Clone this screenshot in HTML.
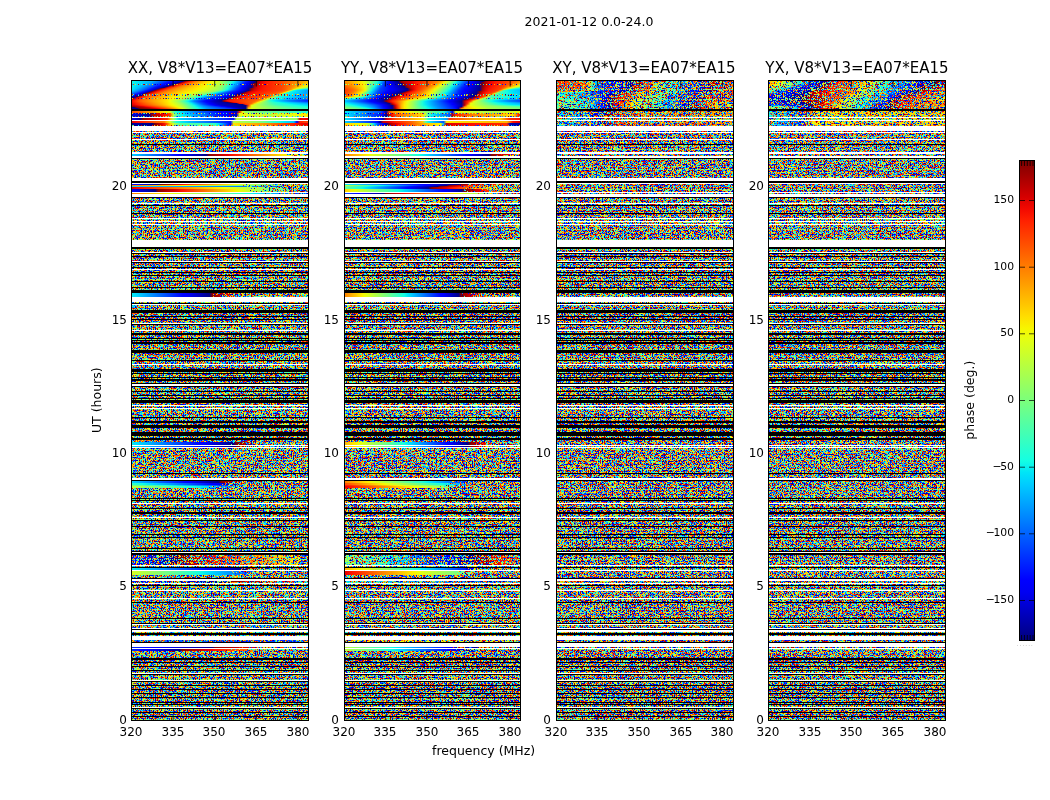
<!DOCTYPE html><html><head><meta charset="utf-8"><title>phase</title><style>
html,body{margin:0;padding:0;background:#fff}
body{width:1050px;height:800px;position:relative;overflow:hidden;font-family:"DejaVu Sans","Liberation Sans",sans-serif;font-size:12.5px;color:#000}
.p{position:absolute;top:80px;height:641px;overflow:hidden;background:#fff}
.p i{position:absolute;left:0;width:178px;display:block}
.p svg.n{position:absolute;left:0;top:0;display:block}
.cw{position:absolute;left:0;top:0;width:178px;height:641px}
.dm{-webkit-mask-image:repeating-linear-gradient(90deg,#000 0,#000 1px,transparent 1px,transparent 3px,#000 3px,#000 4px,transparent 4px,transparent 5px,#000 5px,#000 7px,transparent 7px,transparent 8px,#000 8px,#000 10px,transparent 10px,transparent 11px);mask-image:repeating-linear-gradient(90deg,#000 0,#000 1px,transparent 1px,transparent 3px,#000 3px,#000 4px,transparent 4px,transparent 5px,#000 5px,#000 7px,transparent 7px,transparent 8px,#000 8px,#000 10px,transparent 10px,transparent 11px)}
.p b{position:absolute;left:0;top:0;right:0;bottom:0;border:1px solid #000;display:block}
.t{position:absolute;white-space:nowrap;line-height:1;will-change:transform}
.k{font-size:12px}
.cl{font-size:10.8px}
.ti{font-size:15px}
.r{text-align:right}
.c{text-align:center}
.rs{position:absolute;display:block;overflow:visible}
.rs text{font-family:"DejaVu Sans","Liberation Sans",sans-serif;fill:#000}
.m{margin-right:-1.3px}
#cb{position:absolute;left:1019px;top:160px;width:16px;height:481px;border:1px solid #000;box-sizing:border-box}

</style></head><body>
<svg width="0" height="0" style="position:absolute"><defs>
<filter id="nz0" x="0" y="0" width="100%" height="100%" color-interpolation-filters="sRGB"><feTurbulence type="fractalNoise" baseFrequency="0.5 0.7" numOctaves="2" seed="3"/><feColorMatrix type="matrix" values="1 0 0 0 0 1 0 0 0 0 1 0 0 0 0 0 0 0 0 1"/><feComponentTransfer><feFuncR type="table" tableValues="0 0 0 0 0 0 0 0 0 0 0 0 0 0 0 0 0 0 0 0 0 0 0 0 0 0 0 0 0 0 0 0 0 0 0 0 0 0 0 0 0 0 0 0 0 0 0 0 0 0 0 0 0 0 0 0 0 0 0 0 0.06 0.142 0.229 0.318 0.439 0.664 0.754 0.842 0.927 1 1 1 1 1 1 1 1 1 1 1 1 1 1 1 0.952 0.907 0.866 0.824 0.784 0.747 0.712 0.679 0.651 0.623 0.602 0.582 0.565 0.552 0.541 0.533 0.526 0.52 0.516 0.512 0.51 0.507 0.505 0.504 0.503 0.502 0.501 0.501 0.501 0.5 0.5 0.5 0.5 0.5 0.5 0.5 0.5 0.5 0.5 0.5 0.5 0.5 0.5 0.5 0.5"/><feFuncG type="table" tableValues="0 0 0 0 0 0 0 0 0 0 0 0 0 0 0 0 0 0 0 0 0 0 0 0 0 0 0 0 0 0 0 0 0 0 0 0 0 0 0 0 0 0 0 0 0 0 0 0.022 0.074 0.127 0.182 0.24 0.302 0.368 0.439 0.516 0.599 0.685 0.778 0.873 0.974 1 1 1 1 1 1 1 1 0.917 0.83 0.748 0.67 0.597 0.531 0.466 0.406 0.35 0.299 0.251 0.205 0.161 0.118 0.075 0.035 0 0 0 0 0 0 0 0 0 0 0 0 0 0 0 0 0 0 0 0 0 0 0 0 0 0 0 0 0 0 0 0 0 0 0 0 0 0 0 0 0 0 0 0"/><feFuncB type="table" tableValues="0.5 0.5 0.5 0.5 0.5 0.5 0.5 0.5 0.5 0.5 0.5 0.5 0.5 0.5 0.5 0.5 0.5 0.501 0.501 0.501 0.502 0.503 0.505 0.506 0.508 0.511 0.514 0.519 0.524 0.531 0.538 0.548 0.562 0.577 0.595 0.615 0.641 0.669 0.7 0.734 0.768 0.806 0.848 0.894 0.941 0.991 1 1 1 1 1 1 1 1 1 1 1 1 1 0.989 0.908 0.826 0.739 0.65 0.529 0.304 0.214 0.126 0.041 0 0 0 0 0 0 0 0 0 0 0 0 0 0 0 0 0 0 0 0 0 0 0 0 0 0 0 0 0 0 0 0 0 0 0 0 0 0 0 0 0 0 0 0 0 0 0 0 0 0 0 0 0 0 0 0 0 0 0 0"/></feComponentTransfer></filter>
<filter id="dz0" x="0" y="0" width="100%" height="100%" color-interpolation-filters="sRGB"><feTurbulence type="fractalNoise" baseFrequency="0.5 0.7" numOctaves="2" seed="103" result="n"/><feColorMatrix in="n" type="matrix" values="0 0 0 0 0 0 0 0 0 0 0 0 0 0 0 1 0 0 0 0" result="n1"/><feComponentTransfer in="n1" result="n2"><feFuncA type="table" tableValues="0 0 0 0 0 0 0 0 0 0 0 0 0 0 0 0 0 0 0 0 0 0.001 0.001 0.001 0.002 0.002 0.003 0.004 0.005 0.007 0.008 0.011 0.014 0.017 0.021 0.025 0.031 0.037 0.044 0.052 0.059 0.067 0.077 0.087 0.097 0.108 0.119 0.131 0.144 0.157 0.17 0.185 0.2 0.217 0.235 0.254 0.275 0.296 0.319 0.343 0.368 0.394 0.421 0.448 0.486 0.556 0.584 0.611 0.637 0.662 0.686 0.708 0.729 0.749 0.767 0.784 0.8 0.816 0.829 0.842 0.855 0.867 0.878 0.89 0.901 0.91 0.92 0.929 0.937 0.946 0.953 0.961 0.967 0.973 0.978 0.982 0.986 0.989 0.991 0.993 0.994 0.996 0.997 0.997 0.998 0.998 0.999 0.999 0.999 1 1 1 1 1 1 1 1 1 1 1 1 1 1 1 1 1 1 1 1"/></feComponentTransfer><feComposite in="SourceGraphic" in2="n2" operator="arithmetic" k1="0" k2="1" k3="-1" k4="0.5" result="t"/><feComponentTransfer in="t" result="t2"><feFuncA type="discrete" tableValues="0 1"/></feComponentTransfer><feComposite in="SourceGraphic" in2="t2" operator="in" result="c"/><feComponentTransfer in="c"><feFuncA type="discrete" tableValues="0 1 1 1 1 1 1 1 1 1 1 1 1 1 1 1 1 1 1 1"/></feComponentTransfer></filter>
<filter id="nz1" x="0" y="0" width="100%" height="100%" color-interpolation-filters="sRGB"><feTurbulence type="fractalNoise" baseFrequency="0.5 0.7" numOctaves="2" seed="11"/><feColorMatrix type="matrix" values="1 0 0 0 0 1 0 0 0 0 1 0 0 0 0 0 0 0 0 1"/><feComponentTransfer><feFuncR type="table" tableValues="0 0 0 0 0 0 0 0 0 0 0 0 0 0 0 0 0 0 0 0 0 0 0 0 0 0 0 0 0 0 0 0 0 0 0 0 0 0 0 0 0 0 0 0 0 0 0 0 0 0 0 0 0 0 0 0 0 0 0 0 0.06 0.142 0.229 0.318 0.439 0.664 0.754 0.842 0.927 1 1 1 1 1 1 1 1 1 1 1 1 1 1 1 0.952 0.907 0.866 0.824 0.784 0.747 0.712 0.679 0.651 0.623 0.602 0.582 0.565 0.552 0.541 0.533 0.526 0.52 0.516 0.512 0.51 0.507 0.505 0.504 0.503 0.502 0.501 0.501 0.501 0.5 0.5 0.5 0.5 0.5 0.5 0.5 0.5 0.5 0.5 0.5 0.5 0.5 0.5 0.5 0.5"/><feFuncG type="table" tableValues="0 0 0 0 0 0 0 0 0 0 0 0 0 0 0 0 0 0 0 0 0 0 0 0 0 0 0 0 0 0 0 0 0 0 0 0 0 0 0 0 0 0 0 0 0 0 0 0.022 0.074 0.127 0.182 0.24 0.302 0.368 0.439 0.516 0.599 0.685 0.778 0.873 0.974 1 1 1 1 1 1 1 1 0.917 0.83 0.748 0.67 0.597 0.531 0.466 0.406 0.35 0.299 0.251 0.205 0.161 0.118 0.075 0.035 0 0 0 0 0 0 0 0 0 0 0 0 0 0 0 0 0 0 0 0 0 0 0 0 0 0 0 0 0 0 0 0 0 0 0 0 0 0 0 0 0 0 0 0"/><feFuncB type="table" tableValues="0.5 0.5 0.5 0.5 0.5 0.5 0.5 0.5 0.5 0.5 0.5 0.5 0.5 0.5 0.5 0.5 0.5 0.501 0.501 0.501 0.502 0.503 0.505 0.506 0.508 0.511 0.514 0.519 0.524 0.531 0.538 0.548 0.562 0.577 0.595 0.615 0.641 0.669 0.7 0.734 0.768 0.806 0.848 0.894 0.941 0.991 1 1 1 1 1 1 1 1 1 1 1 1 1 0.989 0.908 0.826 0.739 0.65 0.529 0.304 0.214 0.126 0.041 0 0 0 0 0 0 0 0 0 0 0 0 0 0 0 0 0 0 0 0 0 0 0 0 0 0 0 0 0 0 0 0 0 0 0 0 0 0 0 0 0 0 0 0 0 0 0 0 0 0 0 0 0 0 0 0 0 0 0 0"/></feComponentTransfer></filter>
<filter id="dz1" x="0" y="0" width="100%" height="100%" color-interpolation-filters="sRGB"><feTurbulence type="fractalNoise" baseFrequency="0.5 0.7" numOctaves="2" seed="111" result="n"/><feColorMatrix in="n" type="matrix" values="0 0 0 0 0 0 0 0 0 0 0 0 0 0 0 1 0 0 0 0" result="n1"/><feComponentTransfer in="n1" result="n2"><feFuncA type="table" tableValues="0 0 0 0 0 0 0 0 0 0 0 0 0 0 0 0 0 0 0 0 0 0.001 0.001 0.001 0.002 0.002 0.003 0.004 0.005 0.007 0.008 0.011 0.014 0.017 0.021 0.025 0.031 0.037 0.044 0.052 0.059 0.067 0.077 0.087 0.097 0.108 0.119 0.131 0.144 0.157 0.17 0.185 0.2 0.217 0.235 0.254 0.275 0.296 0.319 0.343 0.368 0.394 0.421 0.448 0.486 0.556 0.584 0.611 0.637 0.662 0.686 0.708 0.729 0.749 0.767 0.784 0.8 0.816 0.829 0.842 0.855 0.867 0.878 0.89 0.901 0.91 0.92 0.929 0.937 0.946 0.953 0.961 0.967 0.973 0.978 0.982 0.986 0.989 0.991 0.993 0.994 0.996 0.997 0.997 0.998 0.998 0.999 0.999 0.999 1 1 1 1 1 1 1 1 1 1 1 1 1 1 1 1 1 1 1 1"/></feComponentTransfer><feComposite in="SourceGraphic" in2="n2" operator="arithmetic" k1="0" k2="1" k3="-1" k4="0.5" result="t"/><feComponentTransfer in="t" result="t2"><feFuncA type="discrete" tableValues="0 1"/></feComponentTransfer><feComposite in="SourceGraphic" in2="t2" operator="in" result="c"/><feComponentTransfer in="c"><feFuncA type="discrete" tableValues="0 1 1 1 1 1 1 1 1 1 1 1 1 1 1 1 1 1 1 1"/></feComponentTransfer></filter>
<filter id="nz2" x="0" y="0" width="100%" height="100%" color-interpolation-filters="sRGB"><feTurbulence type="fractalNoise" baseFrequency="0.5 0.7" numOctaves="2" seed="23"/><feColorMatrix type="matrix" values="1 0 0 0 0 1 0 0 0 0 1 0 0 0 0 0 0 0 0 1"/><feComponentTransfer><feFuncR type="table" tableValues="0 0 0 0 0 0 0 0 0 0 0 0 0 0 0 0 0 0 0 0 0 0 0 0 0 0 0 0 0 0 0 0 0 0 0 0 0 0 0 0 0 0 0 0 0 0 0 0 0 0 0 0 0 0 0 0 0 0 0 0 0.06 0.142 0.229 0.318 0.439 0.664 0.754 0.842 0.927 1 1 1 1 1 1 1 1 1 1 1 1 1 1 1 0.952 0.907 0.866 0.824 0.784 0.747 0.712 0.679 0.651 0.623 0.602 0.582 0.565 0.552 0.541 0.533 0.526 0.52 0.516 0.512 0.51 0.507 0.505 0.504 0.503 0.502 0.501 0.501 0.501 0.5 0.5 0.5 0.5 0.5 0.5 0.5 0.5 0.5 0.5 0.5 0.5 0.5 0.5 0.5 0.5"/><feFuncG type="table" tableValues="0 0 0 0 0 0 0 0 0 0 0 0 0 0 0 0 0 0 0 0 0 0 0 0 0 0 0 0 0 0 0 0 0 0 0 0 0 0 0 0 0 0 0 0 0 0 0 0.022 0.074 0.127 0.182 0.24 0.302 0.368 0.439 0.516 0.599 0.685 0.778 0.873 0.974 1 1 1 1 1 1 1 1 0.917 0.83 0.748 0.67 0.597 0.531 0.466 0.406 0.35 0.299 0.251 0.205 0.161 0.118 0.075 0.035 0 0 0 0 0 0 0 0 0 0 0 0 0 0 0 0 0 0 0 0 0 0 0 0 0 0 0 0 0 0 0 0 0 0 0 0 0 0 0 0 0 0 0 0"/><feFuncB type="table" tableValues="0.5 0.5 0.5 0.5 0.5 0.5 0.5 0.5 0.5 0.5 0.5 0.5 0.5 0.5 0.5 0.5 0.5 0.501 0.501 0.501 0.502 0.503 0.505 0.506 0.508 0.511 0.514 0.519 0.524 0.531 0.538 0.548 0.562 0.577 0.595 0.615 0.641 0.669 0.7 0.734 0.768 0.806 0.848 0.894 0.941 0.991 1 1 1 1 1 1 1 1 1 1 1 1 1 0.989 0.908 0.826 0.739 0.65 0.529 0.304 0.214 0.126 0.041 0 0 0 0 0 0 0 0 0 0 0 0 0 0 0 0 0 0 0 0 0 0 0 0 0 0 0 0 0 0 0 0 0 0 0 0 0 0 0 0 0 0 0 0 0 0 0 0 0 0 0 0 0 0 0 0 0 0 0 0"/></feComponentTransfer></filter>
<filter id="dz2" x="0" y="0" width="100%" height="100%" color-interpolation-filters="sRGB"><feTurbulence type="fractalNoise" baseFrequency="0.5 0.7" numOctaves="2" seed="123" result="n"/><feColorMatrix in="n" type="matrix" values="0 0 0 0 0 0 0 0 0 0 0 0 0 0 0 1 0 0 0 0" result="n1"/><feComponentTransfer in="n1" result="n2"><feFuncA type="table" tableValues="0 0 0 0 0 0 0 0 0 0 0 0 0 0 0 0 0 0 0 0 0 0.001 0.001 0.001 0.002 0.002 0.003 0.004 0.005 0.007 0.008 0.011 0.014 0.017 0.021 0.025 0.031 0.037 0.044 0.052 0.059 0.067 0.077 0.087 0.097 0.108 0.119 0.131 0.144 0.157 0.17 0.185 0.2 0.217 0.235 0.254 0.275 0.296 0.319 0.343 0.368 0.394 0.421 0.448 0.486 0.556 0.584 0.611 0.637 0.662 0.686 0.708 0.729 0.749 0.767 0.784 0.8 0.816 0.829 0.842 0.855 0.867 0.878 0.89 0.901 0.91 0.92 0.929 0.937 0.946 0.953 0.961 0.967 0.973 0.978 0.982 0.986 0.989 0.991 0.993 0.994 0.996 0.997 0.997 0.998 0.998 0.999 0.999 0.999 1 1 1 1 1 1 1 1 1 1 1 1 1 1 1 1 1 1 1 1"/></feComponentTransfer><feComposite in="SourceGraphic" in2="n2" operator="arithmetic" k1="0" k2="1" k3="-1" k4="0.5" result="t"/><feComponentTransfer in="t" result="t2"><feFuncA type="discrete" tableValues="0 1"/></feComponentTransfer><feComposite in="SourceGraphic" in2="t2" operator="in" result="c"/><feComponentTransfer in="c"><feFuncA type="discrete" tableValues="0 1 1 1 1 1 1 1 1 1 1 1 1 1 1 1 1 1 1 1"/></feComponentTransfer></filter>
<filter id="nz3" x="0" y="0" width="100%" height="100%" color-interpolation-filters="sRGB"><feTurbulence type="fractalNoise" baseFrequency="0.5 0.7" numOctaves="2" seed="37"/><feColorMatrix type="matrix" values="1 0 0 0 0 1 0 0 0 0 1 0 0 0 0 0 0 0 0 1"/><feComponentTransfer><feFuncR type="table" tableValues="0 0 0 0 0 0 0 0 0 0 0 0 0 0 0 0 0 0 0 0 0 0 0 0 0 0 0 0 0 0 0 0 0 0 0 0 0 0 0 0 0 0 0 0 0 0 0 0 0 0 0 0 0 0 0 0 0 0 0 0 0.06 0.142 0.229 0.318 0.439 0.664 0.754 0.842 0.927 1 1 1 1 1 1 1 1 1 1 1 1 1 1 1 0.952 0.907 0.866 0.824 0.784 0.747 0.712 0.679 0.651 0.623 0.602 0.582 0.565 0.552 0.541 0.533 0.526 0.52 0.516 0.512 0.51 0.507 0.505 0.504 0.503 0.502 0.501 0.501 0.501 0.5 0.5 0.5 0.5 0.5 0.5 0.5 0.5 0.5 0.5 0.5 0.5 0.5 0.5 0.5 0.5"/><feFuncG type="table" tableValues="0 0 0 0 0 0 0 0 0 0 0 0 0 0 0 0 0 0 0 0 0 0 0 0 0 0 0 0 0 0 0 0 0 0 0 0 0 0 0 0 0 0 0 0 0 0 0 0.022 0.074 0.127 0.182 0.24 0.302 0.368 0.439 0.516 0.599 0.685 0.778 0.873 0.974 1 1 1 1 1 1 1 1 0.917 0.83 0.748 0.67 0.597 0.531 0.466 0.406 0.35 0.299 0.251 0.205 0.161 0.118 0.075 0.035 0 0 0 0 0 0 0 0 0 0 0 0 0 0 0 0 0 0 0 0 0 0 0 0 0 0 0 0 0 0 0 0 0 0 0 0 0 0 0 0 0 0 0 0"/><feFuncB type="table" tableValues="0.5 0.5 0.5 0.5 0.5 0.5 0.5 0.5 0.5 0.5 0.5 0.5 0.5 0.5 0.5 0.5 0.5 0.501 0.501 0.501 0.502 0.503 0.505 0.506 0.508 0.511 0.514 0.519 0.524 0.531 0.538 0.548 0.562 0.577 0.595 0.615 0.641 0.669 0.7 0.734 0.768 0.806 0.848 0.894 0.941 0.991 1 1 1 1 1 1 1 1 1 1 1 1 1 0.989 0.908 0.826 0.739 0.65 0.529 0.304 0.214 0.126 0.041 0 0 0 0 0 0 0 0 0 0 0 0 0 0 0 0 0 0 0 0 0 0 0 0 0 0 0 0 0 0 0 0 0 0 0 0 0 0 0 0 0 0 0 0 0 0 0 0 0 0 0 0 0 0 0 0 0 0 0 0"/></feComponentTransfer></filter>
<filter id="dz3" x="0" y="0" width="100%" height="100%" color-interpolation-filters="sRGB"><feTurbulence type="fractalNoise" baseFrequency="0.5 0.7" numOctaves="2" seed="137" result="n"/><feColorMatrix in="n" type="matrix" values="0 0 0 0 0 0 0 0 0 0 0 0 0 0 0 1 0 0 0 0" result="n1"/><feComponentTransfer in="n1" result="n2"><feFuncA type="table" tableValues="0 0 0 0 0 0 0 0 0 0 0 0 0 0 0 0 0 0 0 0 0 0.001 0.001 0.001 0.002 0.002 0.003 0.004 0.005 0.007 0.008 0.011 0.014 0.017 0.021 0.025 0.031 0.037 0.044 0.052 0.059 0.067 0.077 0.087 0.097 0.108 0.119 0.131 0.144 0.157 0.17 0.185 0.2 0.217 0.235 0.254 0.275 0.296 0.319 0.343 0.368 0.394 0.421 0.448 0.486 0.556 0.584 0.611 0.637 0.662 0.686 0.708 0.729 0.749 0.767 0.784 0.8 0.816 0.829 0.842 0.855 0.867 0.878 0.89 0.901 0.91 0.92 0.929 0.937 0.946 0.953 0.961 0.967 0.973 0.978 0.982 0.986 0.989 0.991 0.993 0.994 0.996 0.997 0.997 0.998 0.998 0.999 0.999 0.999 1 1 1 1 1 1 1 1 1 1 1 1 1 1 1 1 1 1 1 1"/></feComponentTransfer><feComposite in="SourceGraphic" in2="n2" operator="arithmetic" k1="0" k2="1" k3="-1" k4="0.5" result="t"/><feComponentTransfer in="t" result="t2"><feFuncA type="discrete" tableValues="0 1"/></feComponentTransfer><feComposite in="SourceGraphic" in2="t2" operator="in" result="c"/><feComponentTransfer in="c"><feFuncA type="discrete" tableValues="0 1 1 1 1 1 1 1 1 1 1 1 1 1 1 1 1 1 1 1"/></feComponentTransfer></filter>
<g id="wk">
<g fill="#fff" shape-rendering="crispEdges">
<rect y="37" width="178" height="1"/>
<rect y="40" width="178" height="1"/>
<rect y="46" width="178" height="5"/>
<rect y="52" width="178" height="1"/>
<rect y="59" width="178" height="1"/>
<rect y="72" width="178" height="2"/>
<rect y="76" width="178" height="2"/>
<rect y="98" width="178" height="3"/>
<rect y="103" width="178" height="1"/>
<rect y="112" width="178" height="1"/>
<rect y="114" width="178" height="3"/>
<rect y="123" width="178" height="1"/>
<rect y="138" width="178" height="1"/>
<rect y="141" width="178" height="1"/>
<rect y="144" width="178" height="1"/>
<rect y="160" width="178" height="7"/>
<rect y="172" width="178" height="1"/>
<rect y="181" width="178" height="1"/>
<rect y="189" width="178" height="1"/>
<rect y="217" width="178" height="5"/>
<rect y="224" width="178" height="1"/>
<rect y="243" width="178" height="1"/>
<rect y="250" width="178" height="1"/>
<rect y="284" width="178" height="1"/>
<rect y="304" width="178" height="2"/>
<rect y="325" width="178" height="1"/>
<rect y="328" width="178" height="1"/>
<rect y="365" width="178" height="1"/>
<rect y="367" width="178" height="1"/>
<rect y="398" width="178" height="2"/>
<rect y="423" width="178" height="1"/>
<rect y="437" width="178" height="1"/>
<rect y="472" width="178" height="1"/>
<rect y="485" width="178" height="1"/>
<rect y="490" width="178" height="1"/>
<rect y="499" width="178" height="2"/>
<rect y="503" width="178" height="1"/>
<rect y="510" width="178" height="1"/>
<rect y="518" width="178" height="1"/>
<rect y="544" width="178" height="1"/>
<rect y="548" width="178" height="1"/>
<rect y="550" width="178" height="2"/>
<rect y="556" width="178" height="4"/>
<rect y="563" width="178" height="4"/>
<rect y="568" width="178" height="1"/>
<rect y="593" width="178" height="1"/>
<rect y="600" width="178" height="1"/>
<rect y="627" width="178" height="1"/>
</g><g fill="#000" shape-rendering="crispEdges">
<rect y="29" width="178" height="2"/>
<rect y="64" width="178" height="1"/>
<rect y="78" width="178" height="1"/>
<rect y="101" width="178" height="2"/>
<rect y="117" width="178" height="1"/>
<rect y="125" width="178" height="1"/>
<rect y="133" width="178" height="1"/>
<rect y="167" width="178" height="2"/>
<rect y="173" width="178" height="1"/>
<rect y="176" width="178" height="1"/>
<rect y="182" width="178" height="1"/>
<rect y="187" width="178" height="1"/>
<rect y="192" width="178" height="1"/>
<rect y="195" width="178" height="1"/>
<rect y="201" width="178" height="1"/>
<rect y="207" width="178" height="1"/>
<rect y="210" width="178" height="3"/>
<rect y="223" width="178" height="1"/>
<rect y="230" width="178" height="3"/>
<rect y="236" width="178" height="1"/>
<rect y="239" width="178" height="1"/>
<rect y="244" width="178" height="1"/>
<rect y="253" width="178" height="2"/>
<rect y="258" width="178" height="1"/>
<rect y="260" width="178" height="1"/>
<rect y="262" width="178" height="2"/>
<rect y="270" width="178" height="3"/>
<rect y="280" width="178" height="1"/>
<rect y="289" width="178" height="3"/>
<rect y="293" width="178" height="1"/>
<rect y="297" width="178" height="1"/>
<rect y="299" width="178" height="2"/>
<rect y="303" width="178" height="1"/>
<rect y="306" width="178" height="1"/>
<rect y="311" width="178" height="1"/>
<rect y="315" width="178" height="1"/>
<rect y="318" width="178" height="1"/>
<rect y="320" width="178" height="3"/>
<rect y="337" width="178" height="1"/>
<rect y="341" width="178" height="2"/>
<rect y="345" width="178" height="3"/>
<rect y="352" width="178" height="4"/>
<rect y="358" width="178" height="2"/>
<rect y="393" width="178" height="1"/>
<rect y="400" width="178" height="1"/>
<rect y="418" width="178" height="1"/>
<rect y="420" width="178" height="1"/>
<rect y="428" width="178" height="1"/>
<rect y="432" width="178" height="2"/>
<rect y="440" width="178" height="1"/>
<rect y="446" width="178" height="1"/>
<rect y="454" width="178" height="1"/>
<rect y="457" width="178" height="1"/>
<rect y="468" width="178" height="1"/>
<rect y="471" width="178" height="1"/>
<rect y="473" width="178" height="2"/>
<rect y="487" width="178" height="1"/>
<rect y="498" width="178" height="1"/>
<rect y="505" width="178" height="1"/>
<rect y="522" width="178" height="1"/>
<rect y="538" width="178" height="1"/>
<rect y="543" width="178" height="1"/>
<rect y="549" width="178" height="1"/>
<rect y="554" width="178" height="1"/>
<rect y="553" width="178" height="1"/>
<rect y="562" width="178" height="1"/>
<rect y="578" width="178" height="2"/>
<rect y="582" width="178" height="1"/>
<rect y="586" width="178" height="1"/>
<rect y="590" width="178" height="1"/>
<rect y="594" width="178" height="1"/>
<rect y="601" width="178" height="1"/>
<rect y="605" width="178" height="1"/>
<rect y="609" width="178" height="1"/>
<rect y="613" width="178" height="1"/>
<rect y="617" width="178" height="1"/>
<rect y="622" width="178" height="1"/>
<rect y="624" width="178" height="1"/>
<rect y="628" width="178" height="1"/>
<rect y="632" width="178" height="1"/>
<rect y="636" width="178" height="1"/>
</g></g>
</defs></svg>
<div class="t c" style="left:389px;width:400px;top:16px">2021-01-12 0.0-24.0</div>
<div class="t c ti" style="left:69.7px;width:300px;top:61px">XX, V8*V13=EA07*EA15</div>
<div class="p" style="left:131px;width:178px">
<svg class="n" width="178" height="641"><rect width="178" height="641" filter="url(#nz0)"/></svg>
<div class="cw" style="filter:url(#dz0)">
<i style="top:1px;height:1px;background:linear-gradient(90deg,#15ffe2,#0cf4eb,#03eaf3,#00dffc,#00d4ff,#00caff,#00bfff,#00aeff,#0094ff,#0079ff,#005eff,#0043ff,#0028ff,#000aff,#0000fa,#0000d8,#0000b5,#000093,#a40000,#f40a00,#ff3900,#ff6500,#ff8600,#ffa100,#ffbd00,#ffd400,#ffe600,#f4f903,#e4ff13,#d1ff26,#afff48,#8cff6b,#65ff91,#3affbc,#0ff8e8,#00c3ff,#008dff,#0058ff,#0023ff,#0000fb,#0000c5,#000095,#a00000,#d80000,#f10800,#ff1600,#ff2000,#ff2a00,#ff3400,#ff3e00,#ff4800,#ff5600,#ff6400,#ff7200,#ff8000,#ff8e00,#ff9b00,#ffa800,#ffb600,#ffc300)"></i>
<i style="top:2px;height:1px;background:linear-gradient(90deg,#14fee3,#0bf3ec,#01e7f5,#00dcff,#00d0ff,#00c4ff,#00b9ff,#009dff,#0082ff,#06f,#004bff,#002eff,#000fff,#0000fd,#0000d9,#0000b5,#000091,#ac0000,#fa0f00,#ff3b00,#f60,#ff8600,#ff9f00,#ffb900,#ffd000,#ffe000,#fbf100,#ecff0b,#ddff1a,#c5ff32,#a7ff50,#86ff70,#5cff9a,#30ffc7,#04eaf3,#00b4ff,#007dff,#0046ff,#0013ff,#0000eb,#0000b9,#000089,#ad0000,#e20000,#f50b00,#ff1800,#f20,#ff2b00,#ff3500,#ff3e00,#ff4800,#ff5600,#ff6500,#ff7400,#ff8300,#ff9200,#ffa000,#ffaf00,#ffbe00,#ffcd00)"></i>
<i style="top:3px;height:1px;background:linear-gradient(90deg,#14fee3,#09f1ed,#00e4f8,#00d7ff,#00cbff,#00beff,#00a8ff,#008bff,#006fff,#0052ff,#0035ff,#0014ff,#00f,#0000db,#0000b4,#00008e,#b40000,#ff1300,#ff3e00,#ff6700,#ff8600,#ff9d00,#ffb500,#fc0,#ffdb00,#ffeb00,#f3fa04,#e5ff12,#d7ff20,#bbff3b,#a0ff57,#80ff77,#53ffa4,#25ffd2,#00dbff,#00a3ff,#006bff,#0036ff,#0004ff,#00d,#0000ae,#820000,#ba0000,#e60000,#f90e00,#ff1a00,#ff2300,#ff2c00,#ff3500,#ff3e00,#ff4700,#ff5600,#ff6700,#f70,#ff8700,#ff9600,#ffa700,#ffb800,#ffc900,#ffda00)"></i>
<i class="dm" style="top:4px;height:1px;background:linear-gradient(90deg,#13fde4,#08efef,#00e1fb,#00d2ff,#00c4ff,#00b3ff,#0096ff,#0078ff,#005bff,#003cff,#001aff,#00f,#00d,#0000b4,#00008b,#bc0000,#ff1700,#ff4000,#ff6800,#ff8600,#ff9c00,#ffb200,#ffc700,#ffd700,#ffe500,#f9f300,#edff0a,#dfff18,#ccff2b,#b4ff43,#9bff5c,#78ff7f,#49ffae,#1affdd,#0cf,#0092ff,#0059ff,#0026ff,#00f,#0000d1,#0000a2,#8f0000,#c70000,#ea0200,#fc1100,#ff1b00,#ff2400,#ff2d00,#ff3500,#ff3e00,#ff4700,#ff5700,#ff6800,#ff7a00,#ff8a00,#ff9c00,#ffb000,#ffc400,#ffd800,#ffec00)"></i>
<i style="top:5px;height:1px;background:linear-gradient(90deg,#12fce5,#05ecf1,#00dcfe,#0cf,#00bcff,#00a1ff,#0082ff,#0064ff,#0045ff,#0021ff,#00f,#0000df,#0000b4,#008,#c40000,#ff1a00,#ff4200,#ff6900,#ff8600,#ff9a00,#ffaf00,#ffc300,#ffd300,#ffe000,#feed00,#f2fa04,#e6ff11,#d9ff1e,#c4ff33,#adff4a,#97ff60,#6fff88,#3effb9,#0ef6e9,#0bf,#0081ff,#0046ff,#0018ff,#0000f7,#0000c6,#000097,#9c0000,#d50000,#ee0500,#ff1400,#ff1c00,#ff2500,#ff2d00,#ff3600,#ff3e00,#ff4700,#ff5700,#ff6a00,#ff7d00,#ff8f00,#ffa500,#ffbd00,#ffd500,#feed00,#e9ff0e)"></i>
<i style="top:6px;height:1px;background:linear-gradient(90deg,#11fbe6,#02e9f4,#00d6ff,#00c4ff,#00adff,#008dff,#006dff,#004dff,#0028ff,#00f,#0000e1,#0000b3,#000085,#cb0000,#ff1d00,#f40,#ff6a00,#ff8600,#f90,#ffac00,#ffbf00,#ffd000,#ffdc00,#ffe900,#f8f500,#edff0a,#e0ff17,#d1ff26,#bcff3a,#a8ff4f,#93ff64,#65ff92,#32ffc4,#01e7f6,#0af,#006eff,#0037ff,#000bff,#0000ea,#0000ba,#00008c,#a90000,#e10000,#f20800,#ff1500,#ff1d00,#ff2600,#ff2e00,#ff3600,#ff3e00,#ff4600,#ff5800,#ff6c00,#ff8100,#ff9500,#ffb200,#ffd000,#fdef00,#e2ff14,#c8ff2f)"></i>
<i style="top:7px;height:1px;background:linear-gradient(90deg,#10f9e7,#00e4f8,#00ceff,#00b9ff,#09f,#07f,#0056ff,#0031ff,#0005ff,#0000e4,#0000b2,#000080,#d30000,#ff2000,#ff4600,#ff6b00,#ff8600,#ff9800,#fa0,#ffbc00,#ffcd00,#ffd900,#ffe400,#fcf000,#f2fb05,#e7ff10,#daff1c,#c9ff2d,#b6ff40,#a3ff54,#8dff6a,#5aff9d,#26ffd1,#00d6ff,#0098ff,#005aff,#0029ff,#00f,#00d,#0000af,#000081,#b70000,#e50000,#f50b00,#ff1700,#ff1e00,#ff2600,#ff2e00,#ff3600,#ff3e00,#ff4600,#ff5800,#ff6f00,#ff8500,#ff9f00,#ffc800,#fbf100,#d7ff20,#b3ff44,#8fff68)"></i>
<i style="top:8px;height:1px;background:linear-gradient(90deg,#0ef7e9,#00ddfd,#00c4ff,#00a5ff,#0083ff,#0060ff,#003bff,#000cff,#0000e8,#0000b2,#860000,#db0000,#ff2300,#ff4800,#ff6c00,#ff8600,#ff9700,#ffa800,#ffb900,#ffca00,#ffd600,#ffe000,#ffeb00,#f6f600,#edff0a,#e1ff16,#d5ff22,#c3ff34,#b1ff46,#9fff58,#85ff72,#4fffa8,#19ffde,#00c5ff,#0085ff,#0046ff,#001cff,#00f,#0000d2,#0000a4,#8b0000,#c40000,#e80000,#f80d00,#ff1800,#ff2000,#ff2700,#ff2f00,#ff3700,#ff3e00,#ff4600,#ff5900,#ff7200,#ff8b00,#ffb700,#f6f701,#beff38,#87ff70,#4fffa7,#1cffda)"></i>
<i style="top:9px;height:1px;background:linear-gradient(90deg,#0bf3ec,#00d3ff,#00b3ff,#008fff,#006bff,#0047ff,#0014ff,#0000ec,#0000b1,#8e0000,#e20000,#ff2500,#ff4900,#ff6d00,#ff8600,#ff9600,#ffa600,#ffb700,#ffc700,#ffd300,#fd0,#ffe700,#faf100,#f2fb05,#e7ff0f,#dcff1b,#ceff29,#bdff3a,#acff4a,#9cff5b,#7bff7c,#43ffb4,#0cf4eb,#00b2ff,#0071ff,#0038ff,#0010ff,#0000f4,#0000c7,#009,#980000,#d10000,#ec0300,#fb1000,#ff1900,#ff2000,#ff2800,#ff2f00,#ff3700,#ff3e00,#ff4600,#ff5a00,#ff7600,#ff9200,#e6ff11,#6bff8c,#15ffe2,#00e4f8,#00cfff,#0bf)"></i>
<i style="top:10px;height:1px;background:linear-gradient(90deg,#00e2fa,#00bdff,#0097ff,#0072ff,#004cff,#0019ff,#0000ef,#0000b2,#8f0000,#e30000,#ff2500,#ff4900,#ff6d00,#ff8500,#ff9500,#ffa500,#ffb500,#ffc500,#ffd100,#ffdb00,#ffe600,#fcf000,#f3fa04,#e9ff0e,#ddff19,#d0ff27,#c0ff37,#b0ff47,#a0ff57,#87ff6f,#4fffa8,#17ffe0,#00c1ff,#0081ff,#0046ff,#0020ff,#00f,#00d,#0000b0,#000082,#b50000,#e40000,#f50a00,#ff1600,#ff1d00,#ff2500,#ff2c00,#ff3400,#ff3b00,#ff4200,#ff4d00,#ff6700,#ff8600,#c8ff2e,#14ffe3,#00e5f7,#00d1ff,#00bdff,#00a9ff,#0095ff)"></i>
<i style="top:11px;height:1px;background:linear-gradient(90deg,#00c3ff,#009cff,#0075ff,#004eff,#001aff,#0000f1,#0000b4,#8b0000,#e00000,#ff2400,#ff4700,#ff6b00,#ff8500,#ff9400,#ffa400,#ffb400,#ffc300,#ffd100,#ffdb00,#ffe600,#fbf100,#f1fc06,#e6ff11,#daff1d,#cbff2c,#bbff3c,#abff4c,#9aff5d,#72ff84,#3bffbb,#07efef,#00b1ff,#07f,#0047ff,#0024ff,#0001ff,#0000e7,#0000ba,#00008d,#a80000,#e10000,#f30900,#ff1600,#ff1e00,#ff2500,#ff2d00,#ff3400,#ff3c00,#ff4300,#ff4f00,#ff6200,#ff8500,#e5ff12,#1affdc,#07eef0,#00dcfe,#00cbff,#00b9ff,#00a8ff,#0096ff)"></i>
<i style="top:12px;height:1px;background:linear-gradient(90deg,#00a0ff,#0078ff,#004fff,#001cff,#0000f4,#0000b7,#860000,#db0000,#f20,#ff4500,#ff6900,#ff8400,#ff9300,#ffa300,#ffb200,#ffc200,#ffd000,#ffdb00,#ffe600,#faf200,#effe08,#e3ff14,#d6ff21,#c6ff31,#b6ff41,#a5ff52,#93ff64,#5fff98,#29ffcd,#00ddfe,#00a3ff,#0070ff,#0047ff,#0027ff,#0007ff,#0000f1,#0000c5,#000098,#9a0000,#d60000,#f20800,#ff1600,#ff1e00,#ff2600,#ff2d00,#ff3500,#ff3d00,#ff4500,#ff5000,#ff6000,#ff8200,#fdef00,#1effd9,#0ef6e9,#00e5f7,#00d6ff,#00c6ff,#00b6ff,#00a6ff,#0097ff)"></i>
<i style="top:13px;height:1px;background:linear-gradient(90deg,#007bff,#0050ff,#001dff,#0000f6,#0000ba,#820000,#d70000,#ff2000,#ff4300,#ff6700,#ff8300,#ff9200,#ffa200,#ffb100,#ffc100,#ffcf00,#ffdb00,#ffe700,#f8f400,#edff0a,#dfff17,#d1ff26,#c1ff36,#b1ff46,#9fff58,#80ff77,#4cffab,#19ffde,#00cdff,#0096ff,#006bff,#0048ff,#002aff,#000cff,#0000fb,#0000cf,#0000a3,#8c0000,#c90000,#ef0600,#ff1600,#ff1e00,#ff2600,#ff2e00,#ff3600,#ff3e00,#ff4600,#ff5100,#ff5e00,#ff7f00,#ffd700,#26ffd1,#13fde4,#06edf1,#00defd,#00d0ff,#00c2ff,#00b4ff,#00a5ff,#0097ff)"></i>
<i class="dm" style="top:14px;height:1px;background:linear-gradient(90deg,#0051ff,#001fff,#0000f8,#0000bc,#000081,#d20000,#ff1e00,#ff4200,#ff6500,#ff8200,#ff9100,#ffa100,#ffb000,#ffbf00,#ffce00,#ffdb00,#ffe800,#f6f600,#eaff0d,#dcff1b,#ccff2b,#bcff3b,#acff4b,#98ff5f,#6dff8a,#3affbc,#0cf4eb,#00bfff,#008aff,#0067ff,#0048ff,#002cff,#0010ff,#00f,#0000d9,#0000ad,#000081,#b00,#ec0400,#ff1700,#ff1f00,#ff2700,#ff2f00,#ff3700,#ff3f00,#ff4700,#ff5200,#ff5d00,#ff7b00,#ffc700,#47ffaf,#16ffe0,#0bf3ec,#00e6f7,#00d9ff,#0cf,#00bfff,#00b2ff,#00a5ff,#0098ff)"></i>
<i class="dm" style="top:15px;height:1px;background:linear-gradient(90deg,#0020ff,#0000fa,#0000bf,#000084,#ce0000,#ff1c00,#ff4000,#ff6300,#ff8100,#ff9000,#ffa000,#ffaf00,#ffbe00,#ffcd00,#ffdb00,#ffe900,#f4f802,#e6ff11,#d7ff20,#c7ff30,#b7ff40,#a5ff51,#8cff6b,#5bff9c,#2affcd,#00e5f8,#00b2ff,#007fff,#0064ff,#0048ff,#002eff,#0014ff,#00f,#0000e3,#0000b7,#00008c,#ad0000,#e70000,#ff1700,#ff1f00,#ff2700,#ff2f00,#ff3800,#ff4000,#ff4800,#ff5200,#ff5c00,#ff7600,#ffc000,#65ff92,#19ffde,#0ff8e8,#05ecf2,#00e0fb,#00d4ff,#00c8ff,#00bcff,#00b0ff,#00a4ff,#0098ff)"></i>
<i style="top:16px;height:1px;background:linear-gradient(90deg,#0000fc,#0000c2,#000087,#c90000,#ff1a00,#ff3e00,#ff6100,#ff8000,#ff8f00,#ff9f00,#ffae00,#ffbd00,#fc0,#ffda00,#ffea00,#f2fb05,#e2ff15,#d2ff25,#c2ff35,#b1ff45,#9eff59,#7aff7d,#4affad,#1bffdc,#00d6ff,#00a6ff,#007aff,#0061ff,#0049ff,#0030ff,#0018ff,#00f,#0000ed,#0000c1,#000096,#9e0000,#de0000,#ff1700,#ff1f00,#ff2800,#ff3000,#ff3900,#ff4100,#ff4900,#ff5200,#ff5b00,#ff6f00,#fb0,#7fff78,#1bffdb,#12fce5,#09f1ee,#00e6f7,#00dbff,#00d0ff,#00c4ff,#00b9ff,#00aeff,#00a3ff,#0098ff)"></i>
<i style="top:17px;height:1px;background:linear-gradient(90deg,#0000ba,#000084,#c30000,#ff1400,#ff3700,#ff5a00,#ff7a00,#ff8b00,#ff9a00,#ffa900,#ffb800,#ffc700,#ffd600,#ffe400,#f5f802,#e4ff13,#d2ff24,#c1ff36,#b0ff47,#9aff5d,#71ff86,#42ffb5,#15ffe2,#00ceff,#009dff,#0076ff,#005dff,#04f,#002cff,#0013ff,#00f,#0000e6,#0000bf,#000097,#9a0000,#dc0000,#ff1800,#ff2000,#ff2900,#ff3100,#ff3a00,#ff4200,#ff4a00,#ff5300,#ff5b00,#ff6c00,#ffb600,#9eff59,#1effd9,#15ffe2,#0bf3ec,#02e8f5,#00dcfe,#00d1ff,#00c5ff,#00baff,#00aeff,#00a2ff,#0097ff,#008bff)"></i>
<i class="dm" style="top:18px;height:1px;background:linear-gradient(90deg,#840000,#be0000,#f40a00,#ff2d00,#ff4f00,#ff6c00,#ff8200,#ff9100,#ffa000,#ffaf00,#ffbd00,#fc0,#ffdb00,#ffeb00,#ecff0a,#d9ff1e,#c6ff31,#b2ff44,#9bff5c,#71ff85,#42ffb5,#14fee3,#00cbff,#0097ff,#0071ff,#05f,#003aff,#001fff,#0004ff,#0000f5,#0000d4,#0000b2,#000091,#a00000,#e50000,#ff1900,#ff2100,#ff2a00,#ff3200,#ff3b00,#ff4300,#ff4b00,#ff5400,#ff5c00,#ff7000,#ffaf00,#baff3d,#3fffb8,#17ffe0,#0bf3eb,#00e6f7,#00d8ff,#00caff,#00bdff,#00afff,#00a1ff,#0094ff,#0086ff,#0079ff,#006dff)"></i>
<i style="top:19px;height:1px;background:linear-gradient(90deg,#b00,#ea0100,#ff2300,#f40,#ff6400,#ff7800,#f80,#ff9800,#ffa600,#ffb500,#ffc300,#ffd100,#ffe000,#f8f400,#e2ff15,#ccff2b,#b5ff41,#9cff5b,#72ff85,#42ffb5,#14fee3,#00c7ff,#0090ff,#006aff,#004cff,#002eff,#0010ff,#00f,#0000e4,#0000c7,#00a,#00008c,#a70000,#f00600,#ff1a00,#ff2300,#ff2b00,#f30,#ff3c00,#f40,#ff4c00,#ff5400,#ff5d00,#ff7200,#fa0,#cfff28,#66ff91,#1cffdb,#0cf4eb,#00e3f9,#00d2ff,#00c1ff,#00b0ff,#009fff,#008fff,#007eff,#0071ff,#0064ff,#0057ff,#004aff)"></i>
<i style="top:20px;height:1px;background:linear-gradient(90deg,#e10000,#ff1a00,#ff3a00,#ff5900,#ff6e00,#ff7f00,#ff8f00,#ff9e00,#ffac00,#ffba00,#ffc800,#ffd600,#ffe400,#edff0a,#d3ff23,#b9ff3d,#9dff5a,#72ff85,#42ffb4,#13fde4,#00c2ff,#0087ff,#0062ff,#0041ff,#001fff,#00f,#0000f0,#0000d6,#0000bc,#0000a3,#000089,#af0000,#fb1000,#ff1c00,#ff2400,#ff2c00,#ff3400,#ff3c00,#ff4500,#ff4d00,#f50,#ff5d00,#ff7500,#ffa700,#dfff18,#80ff77,#2fffc8,#0cf5ea,#00defd,#00c8ff,#00b2ff,#009dff,#0087ff,#0076ff,#0068ff,#005aff,#004bff,#003dff,#002fff,#0021ff)"></i>
<i style="top:21px;height:1px;background:linear-gradient(90deg,#ea0200,#ff1f00,#ff3c00,#ff5800,#ff6d00,#ff7d00,#ff8d00,#ff9d00,#ffab00,#ffba00,#ffc800,#ffd700,#ffe500,#ebff0c,#d0ff27,#b4ff43,#93ff64,#65ff92,#37ffc0,#08efef,#00b4ff,#007cff,#0057ff,#03f,#01f,#0000fe,#0000e5,#00c,#0000b6,#0000a3,#000090,#8b0000,#df0000,#ff1a00,#ff2300,#ff2c00,#ff3500,#ff3f00,#ff4800,#ff5100,#ff5b00,#ff6a00,#ff9e00,#edff0a,#a1ff55,#6bff8c,#36ffc1,#18ffde,#04ebf3,#00d6ff,#00c2ff,#00aeff,#009aff,#0085ff,#0076ff,#0068ff,#005bff,#004dff,#0040ff,#0032ff)"></i>
<i style="top:22px;height:1px;background:linear-gradient(90deg,#e10000,#ff1400,#ff2d00,#ff4700,#ff5f00,#ff7100,#ff8200,#ff9300,#ffa300,#ffb200,#ffc200,#ffd200,#ffe200,#f2fb05,#daff1d,#c2ff35,#a2ff55,#79ff7e,#4dffaa,#21ffd5,#00d7ff,#00a0ff,#0070ff,#0048ff,#0027ff,#0007ff,#0000f7,#0000dc,#0000c1,#0000b3,#0000a6,#009,#00008c,#860000,#ea0200,#ff1e00,#ff2b00,#ff3700,#f40,#ff5100,#ff5d00,#ff8b00,#feed00,#bbff3c,#93ff64,#70ff86,#4effa9,#32ffc5,#22ffd5,#14ffe2,#07efef,#00e0fb,#00d2ff,#00c4ff,#00b5ff,#00a7ff,#09f,#008aff,#007dff,#0071ff)"></i>
<i style="top:23px;height:1px;background:linear-gradient(90deg,#d90000,#f50b00,#f20,#ff3800,#ff4f00,#ff6500,#ff7600,#f80,#f90,#fa0,#fb0,#fc0,#ffde00,#f8f500,#e2ff15,#ccff2b,#b0ff47,#8bff6c,#61ff96,#38ffbf,#0ef6e9,#00c2ff,#008fff,#0062ff,#003cff,#001dff,#00f,#0000ef,#0000d2,#0000bc,#0000b2,#0000a8,#00009e,#000094,#00008a,#000080,#fb0f00,#ff2700,#ff3b00,#ff4f00,#ff6900,#ffd400,#c6ff31,#a9ff4e,#8dff6a,#73ff84,#59ff9d,#40ffb7,#30ffc7,#26ffd1,#1cffdb,#13fde4,#09f1ee,#00e6f6,#00dbff,#00d0ff,#00c5ff,#00baff,#00aeff,#00a3ff)"></i>
<i style="top:24px;height:1px;background:linear-gradient(90deg,#d30000,#ec0400,#ff1800,#ff2d00,#ff4200,#ff5600,#ff6900,#ff7b00,#ff8e00,#ffa000,#ffb200,#ffc500,#ffd900,#fdef00,#e8ff0e,#d4ff23,#c0ff37,#9bff5c,#73ff83,#4cffab,#24ffd3,#00e1fb,#00b0ff,#007fff,#0051ff,#0030ff,#0013ff,#00f,#0000e6,#0000c6,#0000b9,#0000b1,#0000a9,#0000a1,#009,#000091,#008,#000080,#ff1a00,#ff4a00,#ffb100,#ccff2a,#b5ff41,#9fff58,#89ff6e,#75ff82,#60ff96,#4cffab,#38ffbf,#30ffc7,#28ffcf,#21ffd6,#19ffde,#12fce5,#0af2ec,#03e9f4,#00e0fb,#00d7ff,#00ceff,#00c5ff)"></i>
<i style="top:25px;height:1px;background:linear-gradient(90deg,#b50000,#cd0000,#e60000,#ff1300,#ff2700,#ff3c00,#ff5000,#ff6300,#f70,#ff8b00,#ff9f00,#ffb400,#ffc900,#ffe100,#f4f903,#dfff18,#caff2d,#aaff4c,#83ff73,#5dff9a,#37ffc0,#12fbe5,#00cdff,#00a0ff,#007bff,#0058ff,#003aff,#001fff,#0001ff,#0000f0,#0000cf,#00b,#0000b3,#00a,#0000a2,#00009a,#000091,#000089,#000080,#f40,#e3ff14,#c6ff31,#b2ff44,#a0ff57,#8eff68,#7eff79,#6fff88,#60ff97,#51ffa5,#43ffb4,#36ffc1,#2fffc7,#29ffce,#22ffd5,#1cffdb,#15ffe2,#0ef7e8,#08efef,#01e7f6,#00dffc)"></i>
<i style="top:26px;height:1px;background:linear-gradient(90deg,#8b0000,#9c0000,#b10000,#c80000,#e00000,#fb0f00,#ff2500,#ff3b00,#ff5100,#f60,#ff7e00,#ff9500,#ffad00,#ffc600,#ffe000,#f0fd06,#d7ff20,#bbff3c,#93ff64,#6cff8b,#46ffb1,#24ffd3,#01e7f5,#00bdff,#0097ff,#007fff,#0067ff,#0050ff,#003aff,#0024ff,#0004ff,#0000f1,#00c,#0000b9,#0000ad,#0000a2,#000097,#00008c,#000081,#ff6e00,#dfff18,#c8ff2f,#b7ff40,#a6ff51,#98ff5e,#8bff6c,#7eff79,#72ff85,#67ff90,#5dff9a,#53ffa4,#49ffae,#3fffb8,#36ffc1,#2fffc8,#29ffce,#22ffd5,#1cffdb,#15ffe1,#0ff8e8)"></i>
<i style="top:27px;height:1px;background:linear-gradient(90deg,#00008c,#000081,#8d0000,#9b0000,#ad0000,#c20000,#da0000,#f60c00,#ff2300,#ff3b00,#ff5200,#ff6b00,#ff8700,#ffa400,#ffc100,#ffdf00,#ebff0c,#caff2d,#a2ff54,#7bff7c,#54ffa3,#33ffc4,#13fee3,#00d6ff,#00afff,#0093ff,#0081ff,#006fff,#005dff,#004cff,#003bff,#0029ff,#0007ff,#0000f1,#0000c9,#0000b3,#0000a3,#000092,#000081,#ffac00,#deff19,#caff2d,#baff3c,#abff4c,#9fff58,#94ff63,#89ff6e,#7dff79,#74ff83,#6bff8c,#62ff94,#5bff9c,#53ffa4,#4cffab,#44ffb3,#3cffba,#35ffc2,#2fffc8,#29ffce,#22ffd4)"></i>
<i style="top:28px;height:1px;background:linear-gradient(90deg,#009,#000090,#000087,#810000,#8e0000,#9a0000,#a00,#bd0000,#d50000,#f10700,#ff2100,#ff3a00,#ff5300,#ff7100,#ff9500,#ffb900,#fd0,#e2ff15,#b4ff43,#8bff6c,#63ff93,#40ffb6,#23ffd4,#05ecf1,#00c7ff,#00a3ff,#0090ff,#0082ff,#0074ff,#06f,#0057ff,#0049ff,#003bff,#002dff,#000aff,#0000f1,#0000c5,#0000a4,#000083,#ffd000,#ddff1a,#ccff2b,#bdff39,#afff48,#a4ff53,#9aff5d,#90ff66,#87ff70,#7dff7a,#75ff81,#6eff89,#66ff90,#60ff97,#5aff9d,#54ffa3,#4dffa9,#47ffb0,#41ffb6,#3bffbc,#35ffc2)"></i>
<i style="top:31px;height:1px;background:linear-gradient(90deg,#ff4800,#f50,#ff6100,#ff6e00,#ff7a00,#ff8700,#ff9300,#ffa400,#ffb500,#ffc700,#ffd900,#ffeb00,#f1fd06,#daff1d,#64ff92,#19ffde,#09f0ee,#00dcff,#00c7ff,#00b3ff,#009eff,#008aff,#0075ff,#0061ff,#0054ff,#0046ff,#0038ff,#002aff,#001cff,#000eff,#00f,#00f,#0000f1,#0000e2,#0000d2,#0000c2,#ff2d00,#e9ff0e,#8fff67,#8aff6d,#85ff72,#7fff78,#7aff7d,#74ff82,#6fff88,#6aff8d,#64ff93,#5fff98,#59ff9d,#54ffa3,#4fffa8,#49ffad,#44ffb3,#3fffb8,#39ffbe,#34ffc3,#2effc8,#29ffce,#24ffd3,#20ffd7)"></i>
<i style="top:32px;height:1px;background:linear-gradient(90deg,#ff4800,#f50,#ff6100,#ff6e00,#ff7a00,#ff8700,#ff9300,#ffa400,#ffb500,#ffc700,#ffd900,#ffeb00,#f1fd06,#daff1d,#64ff92,#19ffde,#09f0ee,#00dcff,#00c7ff,#00b3ff,#009eff,#008aff,#0075ff,#0061ff,#0054ff,#0046ff,#0038ff,#002aff,#001cff,#000eff,#00f,#00f,#0000f1,#0000e2,#0000d2,#0000c2,#ff2d00,#e9ff0e,#8fff67,#8aff6d,#85ff72,#7fff78,#7aff7d,#74ff82,#6fff88,#6aff8d,#64ff93,#5fff98,#59ff9d,#54ffa3,#4fffa8,#49ffad,#44ffb3,#3fffb8,#39ffbe,#34ffc3,#2effc8,#29ffce,#24ffd3,#20ffd7)"></i>
<i class="dm" style="top:33px;height:1px;background:linear-gradient(90deg,#0000e0,#0000d3,#0000c7,#0000ba,#0000ad,#0000a0,#000093,#a10000,#b60000,#c00,#e10000,#f70c00,#ff1e00,#ff4500,#c3ff34,#5cff9b,#1affdd,#0bf3ec,#00e0fb,#00ceff,#0bf,#00a9ff,#0096ff,#0084ff,#0072ff,#005fff,#004dff,#003aff,#0028ff,#0019ff,#0009ff,#00f,#0000f7,#0000e6,#0000d4,#0000c2,#ebff0b,#e7ff10,#e3ff14,#deff18,#daff1d,#d6ff21,#d1ff25,#cdff2a,#c9ff2e,#c5ff32,#c0ff37,#c5ff32,#caff2c,#d0ff27,#d5ff21,#dbff1c,#e0ff17,#e6ff11,#ebff0c,#f1fd06,#f6f601,#fbf000,#ffea00,#ffe600)"></i>
<i style="top:34px;height:1px;background:linear-gradient(90deg,#0000e0,#0000d3,#0000c7,#0000ba,#0000ad,#0000a0,#000093,#a10000,#b60000,#c00,#e10000,#f70c00,#ff1e00,#ff4500,#c3ff34,#5cff9b,#1affdd,#0bf3ec,#00e0fb,#00ceff,#0bf,#00a9ff,#0096ff,#0084ff,#0072ff,#005fff,#004dff,#003aff,#0028ff,#0019ff,#0009ff,#00f,#0000f7,#0000e6,#0000d4,#0000c2,#ebff0b,#e7ff10,#e3ff14,#deff18,#daff1d,#d6ff21,#d1ff25,#cdff2a,#c9ff2e,#c5ff32,#c0ff37,#c5ff32,#caff2c,#d0ff27,#d5ff21,#dbff1c,#e0ff17,#e6ff11,#ebff0c,#f1fd06,#f6f601,#fbf000,#ffea00,#ffe600)"></i>
<i style="top:35px;height:1px;background:linear-gradient(90deg,#0000e0,#0000d3,#0000c7,#0000ba,#0000ad,#0000a0,#000093,#a10000,#b60000,#c00,#e10000,#f70c00,#ff1e00,#ff4500,#c3ff34,#5cff9b,#1affdd,#0bf3ec,#00e0fb,#00ceff,#0bf,#00a9ff,#0096ff,#0084ff,#0072ff,#005fff,#004dff,#003aff,#0028ff,#0019ff,#0009ff,#00f,#0000f7,#0000e6,#0000d4,#0000c2,#ebff0b,#e7ff10,#e3ff14,#deff18,#daff1d,#d6ff21,#d1ff25,#cdff2a,#c9ff2e,#c5ff32,#c0ff37,#c5ff32,#caff2c,#d0ff27,#d5ff21,#dbff1c,#e0ff17,#e6ff11,#ebff0c,#f1fd06,#f6f601,#fbf000,#ffea00,#ffe600)"></i>
<i class="dm" style="top:36px;height:1px;background:linear-gradient(90deg,#0000e0,#0000d3,#0000c7,#0000ba,#0000ad,#0000a0,#000093,#a10000,#b60000,#c00,#e10000,#f70c00,#ff1e00,#ff4500,#c3ff34,#5cff9b,#1affdd,#0bf3ec,#00e0fb,#00ceff,#0bf,#00a9ff,#0096ff,#0084ff,#0072ff,#005fff,#004dff,#003aff,#0028ff,#0019ff,#0009ff,#00f,#0000f7,#0000e6,#0000d4,#0000c2,#ebff0b,#e7ff10,#e3ff14,#deff18,#daff1d,#d6ff21,#d1ff25,#cdff2a,#c9ff2e,#c5ff32,#c0ff37,#c5ff32,#caff2c,#d0ff27,#d5ff21,#dbff1c,#e0ff17,#e6ff11,#ebff0c,#f1fd06,#f6f601,#fbf000,#ffea00,#ffe600)"></i>
<i style="top:38px;height:1px;background:linear-gradient(90deg,#00f,#0000d9,#0000b3,#00008c,#8c0000,#9e0000,#b00000,#c20000,#d40000,#e60000,#f80d00,#ff1c00,#ff2a00,#ffb100,#a8ff4f,#35ffc2,#00d0ff,#00c5ff,#0bf,#00b0ff,#00a5ff,#009bff,#0090ff,#0085ff,#007bff,#0070ff,#0065ff,#005aff,#0050ff,#0045ff,#003aff,#0030ff,#0025ff,#001aff,#0010ff,#c0ff37,#bdff39,#bbff3c,#b9ff3e,#b7ff40,#b5ff42,#b2ff44,#b0ff47,#aeff49,#acff4b,#aaff4d,#a7ff4f,#a5ff52,#a3ff54,#a1ff56,#9fff58,#9cff5a,#9aff5c,#98ff5f,#96ff61,#94ff63,#db0000,#f40a00,#e80000,#e00000)"></i>
<i style="top:39px;height:1px;background:linear-gradient(90deg,#00f,#0000d9,#0000b3,#00008c,#8c0000,#9e0000,#b00000,#c20000,#d40000,#e60000,#f80d00,#ff1c00,#ff2a00,#ffb100,#a8ff4f,#35ffc2,#00d0ff,#00c5ff,#0bf,#00b0ff,#00a5ff,#009bff,#0090ff,#0085ff,#007bff,#0070ff,#0065ff,#005aff,#0050ff,#0045ff,#003aff,#0030ff,#0025ff,#001aff,#0010ff,#c0ff37,#bdff39,#bbff3c,#b9ff3e,#b7ff40,#b5ff42,#b2ff44,#b0ff47,#aeff49,#acff4b,#aaff4d,#a7ff4f,#a5ff52,#a3ff54,#a1ff56,#9fff58,#9cff5a,#9aff5c,#98ff5f,#96ff61,#94ff63,#db0000,#f40a00,#e80000,#e00000)"></i>
<i style="top:41px;height:1px;background:linear-gradient(90deg,#e00000,#ee0500,#fd1100,#ff1d00,#ff2800,#ff3400,#ff4000,#ff4b00,#ff5700,#ff6200,#ff6e00,#ff7a00,#ffc200,#d0ff27,#74ff83,#1fffd8,#10f9e7,#01e7f6,#00d5ff,#00c2ff,#00b3ff,#00a7ff,#009aff,#008eff,#0082ff,#0076ff,#0069ff,#005dff,#0051ff,#0045ff,#0039ff,#002cff,#0020ff,#0014ff,#bfff38,#b7ff3f,#b0ff46,#a9ff4e,#a2ff55,#9bff5c,#94ff63,#8dff6a,#86ff71,#7eff78,#6fff88,#5aff9d,#45ffb2,#2fffc7,#1dffd9,#13fee3,#0af1ed,#00e5f7,#00d9ff,#00cdff,#00c1ff,#00f,#ff1e00,#ff2e00,#ff3e00,#ff4800)"></i>
<i style="top:42px;height:1px;background:linear-gradient(90deg,#e00000,#ee0500,#fd1100,#ff1d00,#ff2800,#ff3400,#ff4000,#ff4b00,#ff5700,#ff6200,#ff6e00,#ff7a00,#ffc200,#d0ff27,#74ff83,#1fffd8,#10f9e7,#01e7f6,#00d5ff,#00c2ff,#00b3ff,#00a7ff,#009aff,#008eff,#0082ff,#0076ff,#0069ff,#005dff,#0051ff,#0045ff,#0039ff,#002cff,#0020ff,#0014ff,#bfff38,#b7ff3f,#b0ff46,#a9ff4e,#a2ff55,#9bff5c,#94ff63,#8dff6a,#86ff71,#7eff78,#6fff88,#5aff9d,#45ffb2,#2fffc7,#1dffd9,#13fee3,#0af1ed,#00e5f7,#00d9ff,#00cdff,#00c1ff,#00f,#ff1e00,#ff2e00,#ff3e00,#ff4800)"></i>
<i style="top:43px;height:1px;background:linear-gradient(90deg,#0000a0,#00009c,#000098,#000094,#000090,#00008b,#000087,#000083,#810000,#a80000,#cf0000,#f60b00,#ff5e00,#ffc400,#d1ff25,#8cff6a,#63ff94,#5fff98,#5cff9b,#58ff9f,#54ffa3,#50ffa6,#4dffaa,#49ffae,#45ffb2,#41ffb5,#3effb9,#3affbd,#2fffc7,#00e5f7,#00abff,#0070ff,#0035ff,#00f,#ffe200,#ffd900,#ffd100,#ffc900,#ffc100,#ffb900,#ffb100,#ffa900,#ffa100,#f90,#ff9000,#f80,#ff8000,#ff7500,#ff6900,#ff5c00,#ff4f00,#ff4300,#ff3600,#ff2900,#ff1d00,#fe1200,#f60b00,#ee0500,#e60000,#e00000)"></i>
<i style="top:44px;height:1px;background:linear-gradient(90deg,#0000a0,#00009c,#000098,#000094,#000090,#00008b,#000087,#000083,#810000,#a80000,#cf0000,#f60b00,#ff5e00,#ffc400,#d1ff25,#8cff6a,#63ff94,#5fff98,#5cff9b,#58ff9f,#54ffa3,#50ffa6,#4dffaa,#49ffae,#45ffb2,#41ffb5,#3effb9,#3affbd,#2fffc7,#00e5f7,#00abff,#0070ff,#0035ff,#00f,#ffe200,#ffd900,#ffd100,#ffc900,#ffc100,#ffb900,#ffb100,#ffa900,#ffa100,#f90,#ff9000,#f80,#ff8000,#ff7500,#ff6900,#ff5c00,#ff4f00,#ff4300,#ff3600,#ff2900,#ff1d00,#fe1200,#f60b00,#ee0500,#e60000,#e00000)"></i>
<i class="dm" style="top:45px;height:1px;background:linear-gradient(90deg,#0000a0,#00009c,#000098,#000094,#000090,#00008b,#000087,#000083,#810000,#a80000,#cf0000,#f60b00,#ff5e00,#ffc400,#d1ff25,#8cff6a,#63ff94,#5fff98,#5cff9b,#58ff9f,#54ffa3,#50ffa6,#4dffaa,#49ffae,#45ffb2,#41ffb5,#3effb9,#3affbd,#2fffc7,#00e5f7,#00abff,#0070ff,#0035ff,#00f,#ffe200,#ffd900,#ffd100,#ffc900,#ffc100,#ffb900,#ffb100,#ffa900,#ffa100,#f90,#ff9000,#f80,#ff8000,#ff7500,#ff6900,#ff5c00,#ff4f00,#ff4300,#ff3600,#ff2900,#ff1d00,#fe1200,#f60b00,#ee0500,#e60000,#e00000)"></i>
<i style="top:74px;height:2px;background:linear-gradient(90deg,#00d4ff,#00c7ff,#00baff,#00acff,#009fff,#0091ff,#0084ff,#0076ff,#0069ff,#005bff,#004eff,#0041ff,#03f,#0026ff,#0018ff,#000bff,#00f,#0000fe,#0000ef,#0000e0,#0000d0,#0000c1,#0000b2,#0000a2,#000093,#000084,#8a0000,#9a0000,#a90000,#b80000,#c80000,#d70000,#e60000,#f50b00,#ff1700,#ff2400,#ff3000,#ff3d00,#ff4900,#ff5600,#ff6200,#ff6f00,#ff7b00,#f80,#ff9400,#ffa000,#ffad00,#ffb900,#ffc600,#ffd200,#ffdf00,#ffeb00,#f5f802,#eaff0d,#dfff17,#d4ff22,#caff2d,#bfff38,#b4ff43,#a9ff4e);-webkit-mask-image:linear-gradient(90deg,#000 85%,transparent 100%);mask-image:linear-gradient(90deg,#000 85%,transparent 100%)"></i>
<i style="top:104px;height:1px;background:linear-gradient(90deg,#000eff,#00f,#00f,#0000ef,#0000df,#0000cf,#0000be,#0000ae,#00009e,#00008d,#820000,#930000,#a30000,#b30000,#c40000,#d40000,#e40000,#f50b00,#ff1800,#ff2500,#f30,#ff4000,#ff4d00,#ff5b00,#ff6800,#ff7500,#ff8300,#ff9000,#ff9d00,#ffab00,#ffb800,#ffc500,#ffd300,#ffe000,#feed00,#f2fb04,#e7ff10,#dbff1c,#cfff27,#c4ff33,#b8ff3f,#adff4a,#a1ff56,#95ff61,#8aff6d,#7eff79,#72ff84,#67ff90,#5bff9c,#50ffa7,#44ffb3,#38ffbe,#2dffca,#21ffd6,#16ffe1,#0af2ed,#00e3f8,#00d5ff,#00c7ff,#00b8ff);-webkit-mask-image:linear-gradient(90deg,#000 60%,transparent 90%);mask-image:linear-gradient(90deg,#000 60%,transparent 90%)"></i>
<i style="top:105px;height:1px;background:linear-gradient(90deg,#ff7d00,#ff8400,#ff8b00,#ff9200,#f90,#ffa000,#ffa800,#ffaf00,#ffb600,#ffbd00,#ffc400,#ffcb00,#ffd200,#ffd900,#ffe000,#ffe800,#fdef00,#f7f600,#f0fd06,#eaff0d,#e4ff13,#deff19,#d8ff1f,#d1ff25,#cbff2c,#c5ff32,#bfff38,#b9ff3e,#b2ff44,#acff4b,#a6ff51,#a0ff57,#9aff5d,#93ff63,#8dff6a,#87ff70,#81ff76,#7bff7c,#74ff82,#6eff89,#68ff8f,#62ff95,#5cff9b,#55ffa1,#4fffa8,#49ffae,#43ffb4,#3dffba,#36ffc0,#30ffc7,#2affcd,#24ffd3,#1effd9,#17ffdf,#11fbe6,#0bf3ec,#05ecf2,#00e4f8,#00dcfe,#00d4ff);-webkit-mask-image:linear-gradient(90deg,#000 60%,transparent 90%);mask-image:linear-gradient(90deg,#000 60%,transparent 90%)"></i>
<i style="top:106px;height:1px;background:linear-gradient(90deg,#00d4ff,#00d2ff,#00d0ff,#00cdff,#00cbff,#00c8ff,#00c6ff,#00c4ff,#00c1ff,#00bfff,#00bcff,#00baff,#00b8ff,#00b5ff,#00b3ff,#00b0ff,#00aeff,#00acff,#00a9ff,#00a7ff,#00a4ff,#00a2ff,#00a0ff,#009dff,#009bff,#0098ff,#0096ff,#0094ff,#0091ff,#008fff,#008cff,#008aff,#08f,#0085ff,#0083ff,#0080ff,#007eff,#007cff,#0079ff,#07f,#0074ff,#0072ff,#0070ff,#006dff,#006bff,#0068ff,#06f,#0064ff,#0061ff,#005fff,#005cff,#005aff,#0058ff,#05f,#0053ff,#0050ff,#004eff,#004cff,#0049ff,#0047ff);-webkit-mask-image:linear-gradient(90deg,#000 60%,transparent 90%);mask-image:linear-gradient(90deg,#000 60%,transparent 90%)"></i>
<i style="top:107px;height:2px;background:linear-gradient(90deg,#e00000,#ea0200,#f50b00,#ff1300,#ff1b00,#ff2400,#ff2c00,#ff3500,#ff3d00,#ff4600,#ff4e00,#ff5700,#ff5f00,#ff6800,#ff7000,#ff7800,#ff8100,#ff8900,#ff9200,#ff9a00,#ffa300,#ffab00,#ffb400,#ffbc00,#ffc400,#ffcd00,#ffd500,#ffde00,#ffe600,#fdef00,#f5f701,#eeff09,#e7ff10,#dfff17,#d8ff1f,#d1ff26,#c9ff2e,#c2ff35,#bbff3c,#b3ff44,#acff4b,#a4ff52,#9dff5a,#96ff61,#8eff68,#87ff70,#80ff77,#78ff7e,#71ff86,#6aff8d,#62ff95,#5bff9c,#53ffa3,#4cffab,#45ffb2,#3dffb9,#36ffc1,#2fffc8,#27ffcf,#20ffd7);-webkit-mask-image:linear-gradient(90deg,#000 65%,transparent 95%);mask-image:linear-gradient(90deg,#000 65%,transparent 95%)"></i>
<i style="top:109px;height:3px;background:linear-gradient(90deg,#00f,#0000f1,#0000e2,#0000d2,#0000c3,#0000b4,#0000a5,#000095,#000086,#800,#980000,#a70000,#b60000,#c50000,#d50000,#e40000,#f30900,#ff1600,#f20,#ff2f00,#ff3b00,#ff4800,#ff5400,#ff6000,#ff6d00,#ff7900,#ff8600,#ff9200,#ff9f00,#ffab00,#ffb800,#ffc400,#ffd000,#fd0,#ffe900,#f7f600,#ecff0b,#e1ff16,#d6ff21,#cbff2c,#c0ff36,#b5ff41,#abff4c,#a0ff57,#95ff62,#8aff6d,#7fff78,#74ff82,#6aff8d,#5fff98,#54ffa3,#49ffae,#3effb9,#33ffc3,#29ffce,#1effd9,#13fde4,#08efef,#00e2fa,#00d4ff);-webkit-mask-image:linear-gradient(90deg,#000 65%,transparent 95%);mask-image:linear-gradient(90deg,#000 65%,transparent 95%)"></i>
<i style="top:113px;height:1px;background:linear-gradient(90deg,#ff7d00,#ff8700,#ff9000,#ff9a00,#ffa400,#ffae00,#ffb800,#ffc100,#ffcb00,#ffd500,#ffdf00,#ffe800,#faf200,#f1fc06,#e9ff0e,#e0ff17,#d8ff1f,#cfff28,#c7ff30,#beff39,#b5ff41,#adff4a,#a4ff52,#9cff5b,#93ff63,#8bff6c,#82ff74,#7aff7d,#71ff85,#69ff8e,#60ff96,#58ff9f,#4fffa8,#47ffb0,#3effb9,#36ffc1,#2dffca,#25ffd2,#1cffdb,#14fee3,#0bf3ec,#03e9f4,#00defd,#00d4ff,#00c9ff,#00beff,#00b4ff,#00a9ff,#009fff,#0094ff,#008aff,#007fff,#0074ff,#006aff,#005fff,#05f,#004aff,#0040ff,#0035ff,#002aff);-webkit-mask-image:linear-gradient(90deg,#000 70%,transparent 100%);mask-image:linear-gradient(90deg,#000 70%,transparent 100%)"></i>
<i style="top:213px;height:4px;background:linear-gradient(90deg,#09f1ee,#00e3f9,#00d5ff,#00c7ff,#00b9ff,#00abff,#009dff,#008fff,#0081ff,#0073ff,#06f,#0058ff,#004aff,#003cff,#002eff,#0020ff,#0012ff,#0004ff,#00f,#0000f5,#0000e6,#0000d6,#0000c6,#0000b6,#0000a6,#000096,#000087,#800,#980000,#a80000,#b80000,#c80000,#d70000,#e70000,#f70c00,#ff1900,#ff2600,#f30,#ff4000,#ff4d00,#ff5a00,#ff6700,#ff7400,#ff8000,#ff8d00,#ff9a00,#ffa700,#ffb400,#ffc100,#ffce00,#ffdb00,#ffe800,#f8f400,#ecff0a,#e1ff16,#d6ff21,#cbff2c,#c0ff37,#b4ff42,#a9ff4e);-webkit-mask-image:linear-gradient(90deg,#000 45%,transparent 60%);mask-image:linear-gradient(90deg,#000 45%,transparent 60%)"></i>
<i style="top:362px;height:3px;background:linear-gradient(90deg,#09f1ee,#01e6f6,#00dcff,#00d1ff,#00c7ff,#00bcff,#00b1ff,#00a7ff,#009cff,#0092ff,#0087ff,#007dff,#0072ff,#0067ff,#005dff,#0052ff,#0048ff,#003dff,#03f,#0028ff,#001eff,#0013ff,#0008ff,#00f,#00f,#0000f6,#0000ea,#0000de,#0000d2,#0000c6,#0000ba,#0000ae,#0000a2,#000096,#00008a,#810000,#8d0000,#900,#a50000,#b10000,#bd0000,#c90000,#d50000,#e10000,#ed0400,#f90e00,#ff1800,#f20,#ff2c00,#ff3500,#ff3f00,#ff4900,#ff5300,#ff5c00,#f60,#ff7000,#ff7a00,#ff8400,#ff8d00,#ff9700);-webkit-mask-image:linear-gradient(90deg,#000 55%,transparent 70%);mask-image:linear-gradient(90deg,#000 55%,transparent 70%)"></i>
<i style="top:366px;height:1px;background:linear-gradient(90deg,#09f1ee,#01e6f6,#00dcff,#00d1ff,#00c7ff,#00bcff,#00b1ff,#00a7ff,#009cff,#0092ff,#0087ff,#007dff,#0072ff,#0067ff,#005dff,#0052ff,#0048ff,#003dff,#03f,#0028ff,#001eff,#0013ff,#0008ff,#00f,#00f,#0000f6,#0000ea,#0000de,#0000d2,#0000c6,#0000ba,#0000ae,#0000a2,#000096,#00008a,#810000,#8d0000,#900,#a50000,#b10000,#bd0000,#c90000,#d50000,#e10000,#ed0400,#f90e00,#ff1800,#f20,#ff2c00,#ff3500,#ff3f00,#ff4900,#ff5300,#ff5c00,#f60,#ff7000,#ff7a00,#ff8400,#ff8d00,#ff9700);-webkit-mask-image:linear-gradient(90deg,#000 55%,transparent 70%);mask-image:linear-gradient(90deg,#000 55%,transparent 70%)"></i>
<i style="top:401px;height:2px;background:linear-gradient(90deg,#00d4ff,#00c9ff,#00bdff,#00b2ff,#00a6ff,#009bff,#008fff,#0084ff,#0078ff,#006dff,#0061ff,#0056ff,#004aff,#003fff,#03f,#0028ff,#001cff,#01f,#0005ff,#00f,#0000fc,#0000ef,#0000e2,#0000d5,#0000c8,#0000ba,#0000ad,#0000a0,#000093,#000086,#860000,#930000,#a00000,#ad0000,#ba0000,#c80000,#d50000,#e20000,#ef0600,#fc1000,#ff1b00,#ff2600,#ff3000,#ff3b00,#ff4600,#ff5000,#ff5b00,#f60,#ff7000,#ff7b00,#ff8600,#ff9000,#ff9b00,#ffa600,#ffb000,#fb0,#ffc600,#ffd000,#ffdb00,#ffe600);-webkit-mask-image:linear-gradient(90deg,#000 50%,transparent 65%);mask-image:linear-gradient(90deg,#000 50%,transparent 65%)"></i>
<i style="top:403px;height:2px;background:linear-gradient(90deg,#37ffc0,#2effc9,#25ffd2,#1cffdb,#13fde4,#0af2ec,#01e7f5,#00dcfe,#00d1ff,#00c6ff,#0bf,#00b0ff,#00a5ff,#009aff,#008fff,#0084ff,#0079ff,#006eff,#0063ff,#0058ff,#004dff,#0042ff,#0037ff,#002bff,#0020ff,#0015ff,#000aff,#00f,#00f,#0000f6,#0000ea,#00d,#0000d1,#0000c4,#0000b8,#0000ab,#00009f,#000092,#000086,#860000,#930000,#9f0000,#ac0000,#b80000,#c50000,#d10000,#de0000,#ea0200,#f70c00,#ff1700,#ff2100,#ff2b00,#ff3500,#ff4000,#ff4a00,#ff5400,#ff5e00,#ff6800,#ff7300,#ff7d00);-webkit-mask-image:linear-gradient(90deg,#000 48%,transparent 63%);mask-image:linear-gradient(90deg,#000 48%,transparent 63%)"></i>
<i style="top:405px;height:1px;background:linear-gradient(90deg,#7bff7b,#73ff84,#6aff8c,#62ff95,#59ff9d,#51ffa6,#48ffaf,#40ffb7,#37ffc0,#2fffc8,#26ffd1,#1effd9,#15ffe2,#0df5ea,#04ebf3,#00e0fb,#00d5ff,#00cbff,#00c0ff,#00b6ff,#00abff,#00a1ff,#0096ff,#008cff,#0081ff,#0076ff,#006cff,#0061ff,#0057ff,#004cff,#0042ff,#0037ff,#002cff,#02f,#0017ff,#000dff,#0002ff,#00f,#0000fb,#0000ef,#0000e3,#0000d7,#0000cb,#0000bf,#0000b3,#0000a7,#00009b,#00008f,#000083,#800,#940000,#a00000,#ac0000,#b80000,#c40000,#d00000,#dc0000,#e80000,#f40a00,#ff1400);-webkit-mask-image:linear-gradient(90deg,#000 45%,transparent 60%);mask-image:linear-gradient(90deg,#000 45%,transparent 60%)"></i>
<i style="top:406px;height:2px;background:linear-gradient(90deg,#c0ff37,#b8ff3f,#b0ff47,#a8ff4f,#9fff57,#97ff60,#8fff68,#87ff70,#7fff78,#77ff80,#6fff88,#66ff90,#5eff98,#56ffa1,#4effa9,#46ffb1,#3effb9,#36ffc1,#2effc9,#25ffd1,#1dffd9,#15ffe2,#0df6ea,#05ecf2,#00e1fa,#00d7ff,#00cdff,#00c3ff,#00b9ff,#00afff,#00a5ff,#009bff,#0091ff,#0087ff,#007dff,#0073ff,#0068ff,#005eff,#0054ff,#004aff,#0040ff,#0036ff,#002cff,#02f,#0018ff,#000eff,#0004ff,#00f,#0000fe,#0000f2,#0000e7,#0000db,#0000d0,#0000c4,#0000b9,#0000ad,#0000a2,#000096,#00008b,#000080);-webkit-mask-image:linear-gradient(90deg,#000 40%,transparent 60%);mask-image:linear-gradient(90deg,#000 40%,transparent 60%)"></i>
<i style="top:475px;height:10px;background:linear-gradient(90deg,#000eff,#0005ff,#00f,#00f,#0000f7,#0000ed,#0000e2,#0000d8,#0000ce,#0000c3,#0000b9,#0000ae,#0000a4,#00009a,#00008f,#000085,#840000,#8f0000,#900,#a40000,#ae0000,#b80000,#c30000,#cd0000,#d70000,#e20000,#ec0300,#f60c00,#ff1400,#ff1d00,#ff2500,#ff2e00,#ff3600,#ff3f00,#ff4700,#ff5000,#ff5800,#ff6000,#ff6900,#ff7100,#ff7a00,#ff8200,#ff8b00,#ff9300,#ff9c00,#ffa400,#ffac00,#ffb500,#ffbd00,#ffc600,#ffce00,#ffd700,#ffdf00,#ffe800,#fcf000,#f4f803,#edff0a,#e6ff11,#deff19,#d7ff20);opacity:0.35;-webkit-mask-image:linear-gradient(90deg,#000 90%,transparent 100%);mask-image:linear-gradient(90deg,#000 90%,transparent 100%)"></i>
<i style="top:488px;height:2px;background:linear-gradient(90deg,#09f1ee,#01e7f5,#00defd,#00d4ff,#00caff,#00c1ff,#00b7ff,#00aeff,#00a4ff,#009aff,#0091ff,#0087ff,#007eff,#0074ff,#006aff,#0061ff,#0057ff,#004eff,#04f,#003aff,#0031ff,#0027ff,#001eff,#0014ff,#000aff,#0001ff,#00f,#0000fb,#0000f0,#0000e6,#0000db,#0000d0,#0000c5,#0000ba,#0000af,#0000a4,#009,#00008e,#000083,#870000,#920000,#9c0000,#a70000,#b20000,#bd0000,#c80000,#d30000,#de0000,#e90100,#f40a00,#ff1300,#ff1b00,#ff2400,#ff2d00,#ff3600,#ff3f00,#ff4800,#ff5100,#ff5a00,#ff6300);-webkit-mask-image:linear-gradient(90deg,#000 60%,transparent 70%);mask-image:linear-gradient(90deg,#000 60%,transparent 70%)"></i>
<i style="top:491px;height:4px;background:linear-gradient(90deg,#d7ff20,#ceff29,#c6ff31,#bdff3a,#b5ff42,#acff4b,#a4ff53,#9bff5c,#93ff64,#8aff6d,#82ff75,#79ff7e,#71ff86,#68ff8f,#60ff97,#57ffa0,#4effa8,#46ffb1,#3dffb9,#35ffc2,#2cffca,#24ffd3,#1bffdb,#13fde4,#0af2ec,#02e8f5,#00ddfe,#00d3ff,#00c8ff,#00bdff,#00b3ff,#00a8ff,#009eff,#0093ff,#0089ff,#007eff,#0073ff,#0069ff,#005eff,#0054ff,#0049ff,#003fff,#0034ff,#002aff,#001fff,#0014ff,#000aff,#00f,#00f,#0000f8,#0000ec,#0000e0,#0000d4,#0000c8,#0000bc,#0000b0,#0000a4,#000098,#00008c,#000080);-webkit-mask-image:linear-gradient(90deg,#000 55%,transparent 70%);mask-image:linear-gradient(90deg,#000 55%,transparent 70%)"></i>
<i style="top:501px;height:2px;background:linear-gradient(90deg,#002aff,#0025ff,#0020ff,#001bff,#0015ff,#0010ff,#000bff,#0006ff,#00f,#00f,#00f,#00f,#0000f9,#0000f3,#0000ed,#0000e7,#0000e1,#0000db,#0000d5,#0000cf,#0000c9,#0000c3,#0000bd,#0000b7,#0000b1,#0000ab,#0000a5,#00009f,#009,#000093,#00008d,#000087,#000081,#840000,#8a0000,#900000,#960000,#9c0000,#a20000,#a80000,#ae0000,#b40000,#ba0000,#c00000,#c60000,#c00,#d20000,#d80000,#de0000,#e40000,#ea0200,#f00700,#f60c00,#fc1100,#ff1600,#ff1b00,#ff1f00,#ff2400,#ff2900,#ff2e00);opacity:0.3;-webkit-mask-image:linear-gradient(90deg,#000 90%,transparent 100%);mask-image:linear-gradient(90deg,#000 90%,transparent 100%)"></i>
<i style="top:560px;height:2px;background:linear-gradient(90deg,#0080ff,#007eff,#007dff,#007bff,#007aff,#0078ff,#07f,#0075ff,#0074ff,#0073ff,#0071ff,#0070ff,#006eff,#006dff,#006bff,#006aff,#0068ff,#0067ff,#06f,#0064ff,#0063ff,#0061ff,#0060ff,#005eff,#005dff,#005bff,#005aff,#0059ff,#0057ff,#0056ff,#0054ff,#0053ff,#0051ff,#0050ff,#004fff,#004dff,#004cff,#004aff,#0049ff,#0047ff,#0046ff,#04f,#0043ff,#0042ff,#0040ff,#003fff,#003dff,#003cff,#003aff,#0039ff,#0037ff,#0036ff,#0035ff,#03f,#0032ff,#0030ff,#002fff,#002dff,#002cff,#002aff);opacity:0.3;-webkit-mask-image:linear-gradient(90deg,#000 90%,transparent 100%);mask-image:linear-gradient(90deg,#000 90%,transparent 100%)"></i>
<i style="top:567px;height:1px;background:linear-gradient(90deg,#002aff,#0024ff,#001eff,#0018ff,#0012ff,#000bff,#0005ff,#00f,#00f,#00f,#0000fa,#0000f3,#0000ec,#0000e4,#00d,#0000d6,#0000cf,#0000c8,#0000c1,#0000ba,#0000b3,#0000ac,#0000a5,#00009e,#000096,#00008f,#008,#000081,#850000,#8c0000,#930000,#9a0000,#a10000,#a80000,#b00000,#b70000,#be0000,#c50000,#c00,#d30000,#da0000,#e10000,#e80000,#ef0600,#f60c00,#fe1200,#ff1700,#ff1d00,#ff2300,#ff2900,#ff2f00,#ff3400,#ff3a00,#ff4000,#ff4600,#ff4c00,#ff5100,#ff5700,#ff5d00,#ff6300);-webkit-mask-image:linear-gradient(90deg,#000 60%,transparent 90%);mask-image:linear-gradient(90deg,#000 60%,transparent 90%)"></i>
<i style="top:569px;height:2px;background:linear-gradient(90deg,#002aff,#0020ff,#0016ff,#000cff,#0002ff,#00f,#0000fc,#0000f0,#0000e5,#0000da,#0000ce,#0000c3,#0000b7,#0000ac,#0000a0,#000095,#000089,#810000,#8d0000,#980000,#a40000,#af0000,#ba0000,#c60000,#d10000,#d00,#e80000,#f40a00,#ff1300,#ff1c00,#ff2600,#ff2f00,#ff3800,#ff4200,#ff4b00,#ff5400,#ff5e00,#ff6700,#ff7000,#ff7a00,#ff8300,#ff8c00,#ff9600,#ff9f00,#ffa800,#ffb200,#fb0,#ffc400,#ffce00,#ffd700,#ffe000,#ffea00,#f9f300,#f1fc06,#e9ff0e,#e0ff16,#d8ff1e,#d0ff27,#c8ff2f,#c0ff37);-webkit-mask-image:linear-gradient(90deg,#000 50%,transparent 80%);mask-image:linear-gradient(90deg,#000 50%,transparent 80%)"></i>
</div>
<svg class="n" width="178" height="641"><use href="#wk"/><g stroke="#000" stroke-width="0.8"><path d="M0.50 0v6.5M0.50 641v-6.5"/><path d="M42.10 0v6.5M42.10 641v-6.5"/><path d="M83.70 0v6.5M83.70 641v-6.5"/><path d="M125.30 0v6.5M125.30 641v-6.5"/><path d="M166.90 0v6.5M166.90 641v-6.5"/></g></svg>
<b></b></div>
<div class="t c k" style="left:101.2px;width:60px;top:726px">320</div>
<div class="t c k" style="left:142.8px;width:60px;top:726px">335</div>
<div class="t c k" style="left:184.4px;width:60px;top:726px">350</div>
<div class="t c k" style="left:226.1px;width:60px;top:726px">365</div>
<div class="t c k" style="left:267.6px;width:60px;top:726px">380</div>
<div class="t r k" style="left:67px;width:60px;top:713.7px">0</div>
<div class="t r k" style="left:67px;width:60px;top:580.4px">5</div>
<div class="t r k" style="left:67px;width:60px;top:447.0px">10</div>
<div class="t r k" style="left:67px;width:60px;top:313.7px">15</div>
<div class="t r k" style="left:67px;width:60px;top:180.4px">20</div>
<div class="t c ti" style="left:282.0px;width:300px;top:61px">YY, V8*V13=EA07*EA15</div>
<div class="p" style="left:344px;width:177px">
<svg class="n" width="178" height="641"><rect width="178" height="641" filter="url(#nz1)"/></svg>
<div class="cw" style="filter:url(#dz1)">
<i style="top:1px;height:1px;background:linear-gradient(90deg,#ff8a00,#ff9a00,#fa0,#ffba00,#fc0,#ffe000,#f8f400,#deff19,#b3ff44,#87ff6f,#58ff9f,#27ffd0,#00cfff,#0079ff,#0027ff,#00f,#0000cf,#0000a4,#000086,#9d0000,#c20000,#d20000,#e20000,#f20900,#ff1600,#ff2300,#ff3000,#ff3f00,#ff4f00,#ff6000,#ff7100,#ff8400,#ffa200,#ffd000,#e6ff11,#abff4c,#6dff89,#29ffce,#00caff,#0096ff,#0063ff,#0030ff,#000cff,#0000f7,#0000d0,#0000a9,#000082,#ad0000,#d00,#ed0400,#fb1000,#ff1b00,#ff2600,#ff3200,#ff3d00,#ff4800,#ff5e00,#ff7300,#ff8900,#ff9e00)"></i>
<i style="top:2px;height:1px;background:linear-gradient(90deg,#ff8100,#ff9200,#ffa300,#ffb500,#ffc800,#ffdc00,#fbf100,#e0ff17,#b1ff46,#82ff75,#4effa9,#1affdd,#00b9ff,#0065ff,#0023ff,#00f,#0000dc,#0000b2,#000092,#8e0000,#b70000,#ce0000,#e00000,#f20800,#ff1600,#ff2400,#f30,#ff4300,#ff5400,#f60,#ff7800,#ff9000,#ffb900,#ffe700,#cbff2c,#92ff65,#55ffa2,#14fee3,#0bf,#0086ff,#0052ff,#02f,#0002ff,#00e,#0000c9,#0000a4,#800000,#b20000,#e10000,#f00700,#ff1300,#ff1e00,#ff2a00,#ff3600,#ff4100,#ff5100,#ff6900,#ff8100,#f90,#ffb100)"></i>
<i style="top:3px;height:1px;background:linear-gradient(90deg,#ff7800,#ff8a00,#ff9c00,#ffaf00,#ffc300,#ffd800,#fdee00,#e3ff14,#afff48,#7cff7b,#42ffb5,#0df6ea,#00a4ff,#0051ff,#0021ff,#00f,#0000e5,#0000bd,#00009d,#000082,#a80000,#c90000,#d00,#f10700,#ff1700,#ff2600,#ff3600,#ff4700,#ff5a00,#ff6d00,#ff8200,#ffa200,#ffd000,#e9ff0e,#b2ff45,#7bff7b,#3effb8,#00e6f6,#00abff,#0075ff,#0040ff,#0018ff,#00f,#0000e6,#0000c3,#0000a0,#840000,#b80000,#e40000,#f30900,#ff1600,#f20,#ff2e00,#ff3a00,#ff4600,#ff5d00,#ff7800,#ff9300,#ffae00,#ffca00)"></i>
<i class="dm" style="top:4px;height:1px;background:linear-gradient(90deg,#ff6e00,#ff8000,#ff9400,#ffa800,#ffbd00,#ffd300,#ffeb00,#e6ff11,#adff4a,#73ff84,#34ffc3,#00e1fa,#0090ff,#0043ff,#001fff,#00f,#0000ed,#0000c9,#0000a9,#00008d,#970000,#c30000,#da0000,#f00600,#ff1800,#ff2800,#ff3a00,#ff4d00,#ff6100,#ff7600,#ff9000,#ffb900,#ffe700,#d0ff27,#9bff5c,#64ff92,#2bffcc,#00d1ff,#009aff,#0064ff,#002dff,#000fff,#00f,#0000de,#0000bd,#00009b,#800,#be0000,#e60000,#f70d00,#ff1a00,#ff2600,#ff3200,#ff3e00,#ff4d00,#ff6c00,#ff8b00,#fa0,#ffca00,#ffea00)"></i>
<i style="top:5px;height:1px;background:linear-gradient(90deg,#ff6400,#ff7500,#ff8900,#ff9f00,#ffb600,#ffce00,#ffe800,#eaff0d,#aaff4d,#69ff8e,#27ffd0,#0cf,#007cff,#003cff,#001dff,#0001ff,#0000f2,#0000d2,#0000b3,#000098,#820000,#b60000,#d50000,#ee0500,#ff1900,#ff2b00,#ff3f00,#ff5300,#ff6900,#ff8000,#ffa300,#ffd000,#ecff0b,#b9ff3e,#86ff71,#50ffa7,#19ffde,#00c1ff,#0089ff,#0051ff,#02f,#0006ff,#0000f7,#0000d7,#0000b8,#000098,#8d0000,#c50000,#e90100,#fc1000,#ff1d00,#ff2a00,#ff3600,#ff4300,#ff5c00,#ff8000,#ffa500,#ffca00,#fbf100,#d9ff1e)"></i>
<i style="top:6px;height:1px;background:linear-gradient(90deg,#ff5900,#ff6b00,#ff7d00,#ff9500,#ffae00,#ffc800,#ffe300,#eeff09,#a7ff50,#5cff9b,#19ffde,#00b8ff,#0068ff,#0037ff,#001cff,#0003ff,#0000f7,#0000da,#0000bd,#0000a2,#000089,#a30000,#cf0000,#ed0400,#ff1a00,#ff2e00,#f40,#ff5b00,#ff7200,#ff9000,#ffba00,#ffe700,#d5ff22,#a3ff54,#71ff86,#3dffb9,#07efef,#00b1ff,#07f,#003eff,#0019ff,#00f,#0000f0,#0000d1,#0000b3,#000094,#920000,#c00,#ed0400,#ff1400,#ff2100,#ff2e00,#ff3b00,#ff4700,#ff7100,#ff9d00,#ffcb00,#f2fb05,#c8ff2e,#9fff58)"></i>
<i style="top:7px;height:1px;background:linear-gradient(90deg,#ff4e00,#ff6000,#ff7200,#ff8900,#ffa400,#ffc100,#ffde00,#f0fd07,#a2ff55,#4bffac,#0af2ec,#00a4ff,#05f,#03f,#001bff,#0004ff,#0000fb,#0000e0,#0000c5,#0000ac,#000093,#8c0000,#c60000,#ea0200,#ff1b00,#ff3200,#ff4a00,#ff6400,#ff7d00,#ffa400,#ffd000,#eeff08,#bfff38,#8fff68,#5eff99,#2cffca,#00dbff,#009fff,#0065ff,#002aff,#01f,#00f,#0000e9,#00c,#0000ae,#000091,#980000,#d40000,#f10800,#ff1800,#ff2500,#ff3200,#ff3f00,#ff5a00,#ff9100,#fc0,#e4ff13,#adff4a,#75ff81,#3effb9)"></i>
<i style="top:8px;height:1px;background:linear-gradient(90deg,#ff4200,#f50,#ff6700,#ff7a00,#ff9800,#ffb800,#ffd900,#f3fa04,#9cff5b,#36ffc1,#00defd,#0091ff,#0046ff,#0030ff,#001aff,#0005ff,#0000fe,#0000e6,#0000cd,#0000b4,#00009c,#000085,#b50000,#e70000,#ff1d00,#ff3700,#ff5200,#ff6e00,#ff8f00,#ffba00,#ffe700,#d8ff1e,#aaff4d,#7cff7b,#4cffaa,#1dffda,#00c9ff,#008dff,#0051ff,#02f,#0009ff,#00f,#0000e2,#0000c6,#00a,#00008e,#9e0000,#d00,#f60c00,#ff1c00,#ff2900,#ff3700,#f40,#ff7d00,#ffce00,#c8ff2f,#76ff81,#25ffd2,#0df5ea,#00e5f7)"></i>
<i style="top:9px;height:1px;background:linear-gradient(90deg,#ff3500,#ff4800,#ff5c00,#ff6f00,#f80,#ffac00,#ffd100,#f6f701,#92ff64,#27ffd0,#00caff,#007eff,#0041ff,#002dff,#001aff,#0006ff,#00f,#0000ea,#0000d3,#0000bc,#0000a5,#00008f,#9a0000,#e30000,#ff1f00,#ff3d00,#ff5c00,#ff7b00,#ffa400,#ffd000,#f0fd06,#c4ff33,#97ff60,#6aff8d,#3cffba,#0df6ea,#00b7ff,#007aff,#003dff,#001aff,#0002ff,#0000f8,#00d,#0000c2,#0000a7,#00008c,#a40000,#e30000,#fd1100,#ff2000,#ff2e00,#ff3c00,#ff5400,#ffd300,#79ff7e,#17ffe0,#06ecf1,#00dffc,#00d1ff,#00c3ff)"></i>
<i style="top:10px;height:1px;background:linear-gradient(90deg,#ff2f00,#f40,#ff5800,#ff6d00,#ff8600,#ffae00,#ffd600,#f0fe07,#74ff83,#16ffe0,#00b7ff,#006cff,#003dff,#0029ff,#0015ff,#0001ff,#0000fb,#0000e5,#0000ce,#0000b7,#0000a0,#000089,#ae0000,#f40a00,#ff2c00,#ff4b00,#ff6a00,#ff8e00,#ffb800,#ffe200,#e1ff16,#b3ff43,#86ff71,#59ff9e,#2cffcb,#00e1fb,#00a5ff,#0069ff,#002eff,#0014ff,#00f,#0000f1,#0000d6,#00b,#0000a0,#000086,#b20000,#e90100,#ff1700,#ff2600,#ff3500,#f40,#ffb600,#3cffba,#13fde3,#04ebf3,#00defd,#00d1ff,#00c3ff,#00b6ff)"></i>
<i style="top:11px;height:1px;background:linear-gradient(90deg,#ff3100,#ff4700,#ff5e00,#ff7500,#ff9700,#ffbf00,#ffe800,#beff39,#4dffaa,#05ebf2,#00a4ff,#005dff,#0038ff,#02f,#000bff,#00f,#0000ed,#0000d5,#0000bc,#0000a3,#00008c,#a00000,#ea0200,#ff2300,#ff4000,#ff5e00,#ff7b00,#ffa100,#ffc700,#feee00,#d5ff22,#a6ff51,#77ff80,#47ffaf,#18ffde,#0cf,#0095ff,#005dff,#0029ff,#0010ff,#00f,#0000ea,#0000cd,#0000b1,#000096,#810000,#c60000,#f40a00,#ff1f00,#ff3000,#ff4100,#ff8d00,#61ff96,#2cffcb,#15ffe1,#07eef0,#00e1fa,#00d5ff,#00c8ff,#0bf)"></i>
<i style="top:12px;height:1px;background:linear-gradient(90deg,#f30,#ff4c00,#ff6500,#ff7e00,#ffa800,#ffd200,#f2fc05,#93ff64,#31ffc6,#00d7ff,#0093ff,#004fff,#0031ff,#0018ff,#00f,#0000f6,#0000dc,#0000c1,#0000a6,#00008f,#940000,#e20000,#ff1b00,#ff3600,#ff5200,#ff6e00,#ff8d00,#ffb100,#ffd400,#f5f802,#c8ff2f,#97ff60,#65ff91,#34ffc3,#07eef0,#0bf,#0087ff,#0053ff,#0026ff,#000cff,#00f,#0000e2,#0000c4,#0000a6,#00008f,#950000,#dc0000,#ff1500,#ff2800,#ff3c00,#ff6e00,#a4ff53,#3fffb8,#28ffcf,#17ffe0,#09f1ee,#00e4f8,#00d8ff,#0cf,#00c0ff)"></i>
<i style="top:13px;height:1px;background:linear-gradient(90deg,#ff3600,#ff5200,#ff6d00,#ff9000,#ffba00,#ffe500,#ccff2b,#70ff87,#1effd8,#00c5ff,#0084ff,#0045ff,#0029ff,#000cff,#00f,#0000e5,#0000c7,#00a,#000092,#800,#d60000,#ff1300,#ff2e00,#ff4800,#ff6200,#ff7c00,#ff9d00,#ffbe00,#ffdf00,#eeff09,#baff3d,#86ff70,#53ffa4,#1fffd8,#00dcff,#00abff,#007aff,#004aff,#02f,#0007ff,#0000f8,#0000d9,#0000b9,#00009c,#008,#a00,#ea0200,#ff1f00,#ff3600,#ff5a00,#e1ff15,#47ffb0,#36ffc0,#26ffd1,#18ffdf,#0cf4eb,#02e8f5,#00dcff,#00d0ff,#00c4ff)"></i>
<i class="dm" style="top:14px;height:1px;background:linear-gradient(90deg,#ff3a00,#ff5900,#ff7800,#ffa200,#ffcd00,#f4f903,#a7ff50,#53ffa3,#0bf3ec,#00b4ff,#0076ff,#003eff,#001dff,#00f,#0000ef,#0000cf,#0000af,#000095,#000080,#c90000,#f70c00,#ff2600,#ff3f00,#ff5800,#ff7000,#ff8c00,#ffab00,#ffca00,#ffe800,#e1ff16,#abff4c,#74ff82,#3effb9,#10f9e7,#00cbff,#009dff,#0070ff,#0042ff,#001eff,#0001ff,#0000f0,#0000cf,#0000ae,#000095,#000082,#c00000,#fb0f00,#ff2d00,#ff4a00,#ffce00,#4cffab,#3fffb8,#32ffc5,#25ffd2,#19ffde,#0ef7e9,#04eaf3,#00dffc,#00d3ff,#00c8ff)"></i>
<i class="dm" style="top:15px;height:1px;background:linear-gradient(90deg,#ff3e00,#ff6200,#f80,#ffb500,#ffe100,#d6ff21,#88ff6e,#3bffbc,#00e1fa,#00a5ff,#0069ff,#0035ff,#000eff,#0000fc,#0000d9,#0000b5,#000097,#000083,#bc0000,#f00700,#ff1f00,#ff3600,#ff4e00,#f60,#ff7d00,#ff9a00,#ffb700,#ffd400,#fbf100,#d3ff24,#9aff5d,#60ff96,#27ffcf,#02e7f5,#00bcff,#0091ff,#06f,#003cff,#001aff,#00f,#0000e7,#0000c4,#0000a1,#00008e,#8b0000,#d60000,#ff1f00,#ff4300,#ff9800,#70ff87,#45ffb2,#3affbd,#2fffc8,#24ffd3,#1affdd,#10f9e7,#06edf1,#00e2fa,#00d7ff,#0cf)"></i>
<i style="top:16px;height:1px;background:linear-gradient(90deg,#f40,#ff6f00,#ff9b00,#ffc900,#f6f601,#b5ff41,#6eff89,#27ffd0,#00d0ff,#0096ff,#005cff,#0027ff,#00f,#0000e4,#0000bc,#00009a,#000086,#b00000,#ea0200,#ff1800,#ff2f00,#ff4500,#ff5c00,#ff7200,#ff8b00,#ffa700,#ffc200,#fd0,#f5f802,#c3ff34,#87ff70,#4affac,#16ffe1,#00d8ff,#00afff,#0086ff,#005dff,#0037ff,#0015ff,#00f,#00d,#0000b7,#00009a,#000089,#a10000,#ed0400,#ff3800,#ff7500,#a8ff4f,#48ffae,#3fffb8,#36ffc1,#2dffca,#23ffd3,#1affdd,#11fbe6,#08f0ee,#00e5f7,#00daff,#00cfff)"></i>
<i style="top:17px;height:1px;background:linear-gradient(90deg,#ffc500,#ffed00,#d4ff23,#a2ff55,#70ff87,#3effb9,#0cf4eb,#00c4ff,#0095ff,#06f,#0037ff,#0009ff,#0000f3,#0000cb,#0000a3,#00008d,#9b0000,#e20000,#fe1200,#ff2a00,#ff4100,#ff5800,#ff6f00,#ff8900,#ffa500,#ffc100,#fd0,#f4f903,#c3ff34,#8aff6d,#4fffa8,#19ffdd,#00ddfd,#00b7ff,#0091ff,#006aff,#04f,#0023ff,#0002ff,#0000ec,#0000c6,#0000a0,#00008f,#890000,#d60000,#ff2e00,#ff7000,#c7ff2f,#4dffaa,#43ffb4,#39ffbd,#30ffc7,#26ffd0,#1dffda,#13fee3,#0af2ed,#01e6f6,#00dbff,#00cfff,#00c4ff)"></i>
<i class="dm" style="top:18px;height:1px;background:linear-gradient(90deg,#7dff7a,#5cff9a,#3cffbb,#1bffdb,#00e2fa,#00beff,#009bff,#0078ff,#05f,#0032ff,#000eff,#0000fe,#0000dc,#0000ba,#00009a,#000081,#c50000,#f50a00,#ff2500,#ff3f00,#ff5a00,#ff7400,#ff9200,#ffb200,#ffd200,#faf200,#d1ff25,#9fff58,#6cff8b,#37ffc0,#0cf4eb,#00d0ff,#00acff,#0089ff,#0065ff,#0042ff,#02f,#0002ff,#0000ef,#0000cb,#0000a7,#000090,#8e0000,#da0000,#ff2e00,#f70,#ccff2b,#7aff7d,#48ffaf,#3cffbb,#30ffc7,#23ffd3,#18ffdf,#0cf4eb,#01e6f6,#00d9ff,#00cbff,#00bdff,#00b0ff,#00a2ff)"></i>
<i style="top:19px;height:1px;background:linear-gradient(90deg,#23ffd4,#0bf3ec,#00d7ff,#0bf,#009fff,#0083ff,#0067ff,#004cff,#0030ff,#0013ff,#00f,#0000e9,#0000cb,#0000ac,#00008e,#a70000,#e80000,#ff1f00,#ff3d00,#ff5c00,#ff7a00,#ff9f00,#ffc400,#ffe900,#dcff1a,#b0ff47,#83ff74,#53ffa4,#22ffd4,#00e5f7,#00c4ff,#00a3ff,#0082ff,#0061ff,#0040ff,#0021ff,#0003ff,#0000f1,#0000cf,#0000ac,#000091,#940000,#de0000,#ff2d00,#ff8900,#ceff29,#93ff63,#59ff9e,#40ffb7,#2fffc8,#1effd9,#0ff8e8,#01e7f6,#00d6ff,#00c5ff,#00b4ff,#00a3ff,#0093ff,#0082ff,#0074ff)"></i>
<i style="top:20px;height:1px;background:linear-gradient(90deg,#00d0ff,#00b9ff,#00a2ff,#008bff,#0073ff,#005cff,#0045ff,#002eff,#0016ff,#00f,#0000f3,#0000d8,#0000bd,#0000a2,#800,#d10000,#ff1600,#ff3a00,#ff5e00,#ff8300,#ffb000,#fd0,#e5ff11,#bdff3a,#95ff62,#6bff8c,#3effb9,#13fce4,#00d9ff,#00baff,#009bff,#007cff,#005dff,#003fff,#0021ff,#0004ff,#0000f3,#0000d2,#0000b1,#000092,#900,#e20000,#ff2c00,#ffa800,#cfff28,#a1ff55,#74ff83,#49ffae,#2dffc9,#15ffe2,#01e7f6,#00d1ff,#0bf,#00a5ff,#008fff,#007cff,#006dff,#005fff,#0051ff,#0042ff)"></i>
<i style="top:21px;height:1px;background:linear-gradient(90deg,#00c9ff,#00b4ff,#009fff,#0089ff,#0073ff,#005dff,#0046ff,#0030ff,#0019ff,#0002ff,#0000f7,#0000dc,#0000c1,#0000a6,#870000,#d20000,#ff1c00,#ff4700,#ff7200,#ffa400,#ffd800,#e8ff0f,#c2ff35,#9cff5b,#74ff82,#4affad,#1fffd8,#00e4f8,#00c6ff,#00a8ff,#008bff,#006eff,#0051ff,#0034ff,#0018ff,#00f,#0000ea,#0000c8,#0000a7,#000086,#bf0000,#ff1800,#ff5f00,#dfff18,#bcff3b,#98ff5e,#75ff82,#51ffa6,#2dffca,#12fce5,#00e5f7,#00d1ff,#00beff,#0af,#0096ff,#0082ff,#0074ff,#0067ff,#0059ff,#004cff)"></i>
<i style="top:22px;height:1px;background:linear-gradient(90deg,#02e8f5,#00d4ff,#00c0ff,#00acff,#0097ff,#007fff,#0067ff,#004fff,#0037ff,#001eff,#0005ff,#0000f7,#0000d9,#0000ba,#009,#a50000,#f10700,#ff3a00,#ff6d00,#ffa700,#ffde00,#e5ff12,#c0ff37,#9aff5d,#72ff85,#48ffaf,#1effd9,#01e6f6,#00c9ff,#00acff,#008fff,#0074ff,#0059ff,#003dff,#02f,#0007ff,#0000f5,#0000d2,#0000af,#00008c,#bc0000,#ff2300,#ffbc00,#d9ff1e,#bdff3a,#a1ff55,#86ff71,#69ff8e,#4cffab,#2fffc7,#19ffde,#09f1ee,#00e3f9,#00d6ff,#00c8ff,#0bf,#00adff,#00a0ff,#0092ff,#0085ff)"></i>
<i style="top:23px;height:1px;background:linear-gradient(90deg,#18ffde,#09f1ee,#00defd,#00cbff,#00b8ff,#00a5ff,#008eff,#0074ff,#0059ff,#003fff,#0025ff,#0009ff,#0000f7,#0000d4,#0000b1,#000087,#c90000,#ff2700,#f60,#ffab00,#ffe300,#e2ff15,#beff39,#99ff5e,#70ff87,#46ffb1,#1dffd9,#03e9f4,#0cf,#00afff,#0093ff,#0079ff,#005fff,#0046ff,#002cff,#0013ff,#00f,#00d,#0000b8,#000093,#b80000,#ff3600,#ecff0b,#d5ff22,#beff39,#a7ff50,#90ff66,#79ff7d,#61ff96,#49ffae,#31ffc6,#1cffdb,#10f9e7,#05ecf1,#00e2fa,#00d8ff,#00cdff,#00c3ff,#00b9ff,#00afff)"></i>
<i style="top:24px;height:1px;background:linear-gradient(90deg,#2dffca,#1effd8,#10f9e7,#01e7f6,#00d5ff,#00c3ff,#00b0ff,#009eff,#0083ff,#06f,#0049ff,#002cff,#000eff,#0000f7,#0000cd,#0000a4,#930000,#f30900,#ff5b00,#ffb100,#ffe800,#dfff17,#bcff3a,#97ff60,#6eff89,#44ffb3,#1dffda,#05ebf2,#00cfff,#00b2ff,#0096ff,#007eff,#06f,#004dff,#0035ff,#001cff,#00f,#0000e9,#0000c2,#00009b,#b10000,#ff6f00,#e6ff11,#d2ff24,#bfff38,#abff4b,#98ff5f,#84ff72,#70ff87,#5bff9b,#47ffb0,#32ffc5,#1fffd8,#14ffe2,#0af2ec,#03eaf3,#00e1fa,#00d9ff,#00d1ff,#00c9ff)"></i>
<i style="top:25px;height:1px;background:linear-gradient(90deg,#46ffb1,#36ffc0,#27ffd0,#18ffdf,#08f0ee,#00dcfe,#00c9ff,#00b5ff,#00a2ff,#0085ff,#0065ff,#0045ff,#0024ff,#0002ff,#0000e4,#0000b7,#000089,#d30000,#ff4f00,#ffb500,#ffea00,#deff19,#bcff3b,#97ff60,#70ff87,#49ffad,#23ffd4,#0bf3ec,#00d6ff,#00b9ff,#009cff,#0085ff,#006dff,#05f,#003dff,#0026ff,#000eff,#0000f3,#0000c6,#00009a,#d70000,#ffc000,#eaff0d,#d8ff1e,#c7ff30,#b6ff41,#a5ff51,#99ff5e,#8cff6b,#7fff78,#72ff85,#65ff92,#57ff9f,#4affad,#3dffba,#30ffc7,#22ffd4,#19ffdd,#11fbe6,#09f1ee)"></i>
<i style="top:26px;height:1px;background:linear-gradient(90deg,#68ff8f,#58ff9e,#47ffb0,#35ffc1,#24ffd3,#12fce5,#00e5f7,#0cf,#00b4ff,#009bff,#07f,#0053ff,#002eff,#0009ff,#0000ed,#0000bf,#000091,#c60000,#ff4900,#ffb400,#ffea00,#deff19,#bcff3b,#99ff5e,#76ff81,#53ffa3,#31ffc6,#15ffe2,#00e2f9,#00c5ff,#00a8ff,#008eff,#0076ff,#005eff,#0046ff,#002fff,#0017ff,#0000fd,#0000c4,#00008b,#ff6a00,#fc0,#fdef00,#e5ff11,#d5ff22,#c5ff32,#b5ff42,#a7ff50,#9fff58,#97ff60,#8fff68,#87ff70,#7fff78,#77ff80,#6eff88,#66ff90,#5eff99,#56ffa1,#4effa9,#46ffb1)"></i>
<i style="top:27px;height:1px;background:linear-gradient(90deg,#80ff77,#75ff81,#6bff8c,#5dff9a,#48ffae,#34ffc3,#1fffd8,#0af2ec,#00d2ff,#00b2ff,#008eff,#0064ff,#003bff,#01f,#0000f6,#0000c7,#009,#b60000,#ff4200,#ffb200,#ffea00,#deff19,#bcff3b,#9bff5c,#7bff7c,#5cff9b,#3cffbb,#20ffd7,#08efef,#00d1ff,#00b3ff,#0097ff,#007fff,#0067ff,#004fff,#0038ff,#0020ff,#00f,#0000bf,#ba0000,#ffb900,#ffcf00,#ffe500,#f1fc05,#e1ff15,#d2ff25,#c3ff34,#b4ff43,#a7ff4f,#a2ff55,#9cff5b,#96ff61,#90ff67,#8aff6d,#84ff72,#7fff78,#79ff7e,#73ff84,#6dff8a,#67ff90)"></i>
<i style="top:28px;height:1px;background:linear-gradient(90deg,#92ff65,#89ff6e,#80ff77,#77ff80,#6dff89,#64ff93,#4bffac,#32ffc5,#19ffde,#00defd,#00adff,#007cff,#004cff,#001bff,#0000fe,#0000d0,#0000a2,#a30000,#ff3a00,#ffb100,#ffea00,#deff19,#bcff3b,#9cff5b,#7fff78,#62ff94,#46ffb1,#2bffcc,#12fce4,#00defd,#00bfff,#00a1ff,#08f,#0070ff,#0058ff,#0041ff,#0029ff,#01f,#0000b6,#ff8500,#ffc000,#ffd000,#ffe100,#faf100,#ecff0b,#deff19,#d0ff27,#c2ff35,#b3ff43,#a8ff4f,#a3ff54,#9fff58,#9aff5d,#95ff61,#91ff66,#8cff6b,#88ff6f,#83ff74,#7eff78,#7aff7d)"></i>
<i style="top:31px;height:1px;background:linear-gradient(90deg,#09f1ee,#00e3f9,#00d6ff,#00c8ff,#0bf,#00adff,#00a0ff,#0092ff,#0085ff,#07f,#006aff,#005cff,#004fff,#0016ff,#0000a2,#ff4900,#ff8b00,#ff9e00,#ffb100,#ffc400,#ffd600,#ffe900,#f1fc06,#dfff18,#ccff2b,#b9ff3e,#a6ff50,#94ff63,#81ff76,#6eff89,#5bff9c,#48ffae,#36ffc1,#23ffd4,#00cdff,#0083ff,#0000de,#edff0a,#e7ff10,#e2ff15,#ddff1a,#d7ff1f,#d2ff25,#cdff2a,#c7ff2f,#c2ff35,#bdff3a,#b8ff3f,#b2ff45,#adff4a,#abff4c,#b3ff44,#bbff3c,#c2ff35,#caff2d,#d2ff25,#d9ff1e,#e1ff16,#e9ff0e,#eeff09)"></i>
<i style="top:32px;height:1px;background:linear-gradient(90deg,#09f1ee,#00e3f9,#00d6ff,#00c8ff,#0bf,#00adff,#00a0ff,#0092ff,#0085ff,#07f,#006aff,#005cff,#004fff,#0016ff,#0000a2,#ff4900,#ff8b00,#ff9e00,#ffb100,#ffc400,#ffd600,#ffe900,#f1fc06,#dfff18,#ccff2b,#b9ff3e,#a6ff50,#94ff63,#81ff76,#6eff89,#5bff9c,#48ffae,#36ffc1,#23ffd4,#00cdff,#0083ff,#0000de,#edff0a,#e7ff10,#e2ff15,#ddff1a,#d7ff1f,#d2ff25,#cdff2a,#c7ff2f,#c2ff35,#bdff3a,#b8ff3f,#b2ff45,#adff4a,#abff4c,#b3ff44,#bbff3c,#c2ff35,#caff2d,#d2ff25,#d9ff1e,#e1ff16,#e9ff0e,#eeff09)"></i>
<i class="dm" style="top:33px;height:1px;background:linear-gradient(90deg,#09f1ee,#00dffc,#00cdff,#0bf,#00a9ff,#0097ff,#0085ff,#0073ff,#0061ff,#004fff,#003dff,#002bff,#0019ff,#0000f4,#000089,#c50000,#ff1500,#ff4700,#ff6900,#ff7800,#ff8600,#ff9500,#ffa400,#ffb200,#ffc100,#ffd000,#ffde00,#c2ff35,#38ffbf,#0ef7e9,#00dcff,#00c0ff,#00a5ff,#008aff,#006fff,#0054ff,#b00,#f20,#f30,#f40,#ff5400,#ff6500,#ff7600,#ff8100,#ff8900,#ff9000,#ff9800,#ff9f00,#ffa700,#ffae00,#ffb600,#ffbd00,#ffc500,#ffcd00,#ffd400,#ffdc00,#ffe300,#ff9300,#ff1500,#ff1400)"></i>
<i style="top:34px;height:1px;background:linear-gradient(90deg,#09f1ee,#00dffc,#00cdff,#0bf,#00a9ff,#0097ff,#0085ff,#0073ff,#0061ff,#004fff,#003dff,#002bff,#0019ff,#0000f4,#000089,#c50000,#ff1500,#ff4700,#ff6900,#ff7800,#ff8600,#ff9500,#ffa400,#ffb200,#ffc100,#ffd000,#ffde00,#c2ff35,#38ffbf,#0ef7e9,#00dcff,#00c0ff,#00a5ff,#008aff,#006fff,#0054ff,#b00,#f20,#f30,#f40,#ff5400,#ff6500,#ff7600,#ff8100,#ff8900,#ff9000,#ff9800,#ff9f00,#ffa700,#ffae00,#ffb600,#ffbd00,#ffc500,#ffcd00,#ffd400,#ffdc00,#ffe300,#ff9300,#ff1500,#ff1400)"></i>
<i style="top:35px;height:1px;background:linear-gradient(90deg,#09f1ee,#00dffc,#00cdff,#0bf,#00a9ff,#0097ff,#0085ff,#0073ff,#0061ff,#004fff,#003dff,#002bff,#0019ff,#0000f4,#000089,#c50000,#ff1500,#ff4700,#ff6900,#ff7800,#ff8600,#ff9500,#ffa400,#ffb200,#ffc100,#ffd000,#ffde00,#c2ff35,#38ffbf,#0ef7e9,#00dcff,#00c0ff,#00a5ff,#008aff,#006fff,#0054ff,#b00,#f20,#f30,#f40,#ff5400,#ff6500,#ff7600,#ff8100,#ff8900,#ff9000,#ff9800,#ff9f00,#ffa700,#ffae00,#ffb600,#ffbd00,#ffc500,#ffcd00,#ffd400,#ffdc00,#ffe300,#ff9300,#ff1500,#ff1400)"></i>
<i class="dm" style="top:36px;height:1px;background:linear-gradient(90deg,#09f1ee,#00dffc,#00cdff,#0bf,#00a9ff,#0097ff,#0085ff,#0073ff,#0061ff,#004fff,#003dff,#002bff,#0019ff,#0000f4,#000089,#c50000,#ff1500,#ff4700,#ff6900,#ff7800,#ff8600,#ff9500,#ffa400,#ffb200,#ffc100,#ffd000,#ffde00,#c2ff35,#38ffbf,#0ef7e9,#00dcff,#00c0ff,#00a5ff,#008aff,#006fff,#0054ff,#b00,#f20,#f30,#f40,#ff5400,#ff6500,#ff7600,#ff8100,#ff8900,#ff9000,#ff9800,#ff9f00,#ffa700,#ffae00,#ffb600,#ffbd00,#ffc500,#ffcd00,#ffd400,#ffdc00,#ffe300,#ff9300,#ff1500,#ff1400)"></i>
<i style="top:38px;height:1px;background:linear-gradient(90deg,#09f1ee,#00defd,#00cbff,#00b8ff,#00a5ff,#0092ff,#007fff,#006cff,#0059ff,#0046ff,#03f,#0020ff,#0008ff,#0000ac,#c30000,#f00600,#ff2a00,#ff4e00,#ff6900,#ff7800,#ff8600,#ff9500,#ffa400,#ffb200,#ffc100,#ffd000,#ffde00,#95ff61,#19ffde,#0bf4eb,#00e3f9,#00d2ff,#00c0ff,#00afff,#009eff,#ff3500,#ff4200,#ff5000,#ff5d00,#ff6a00,#f70,#ff8400,#ff9100,#ff9c00,#ffa500,#ffae00,#ffb700,#ffbf00,#ffc800,#ffd100,#ffda00,#ffe300,#ffc600,#ff9400,#ff6200,#ff2f00,#ff2700,#ff2000,#ff1900,#ff1400)"></i>
<i style="top:39px;height:1px;background:linear-gradient(90deg,#09f1ee,#00defd,#00cbff,#00b8ff,#00a5ff,#0092ff,#007fff,#006cff,#0059ff,#0046ff,#03f,#0020ff,#0008ff,#0000ac,#c30000,#f00600,#ff2a00,#ff4e00,#ff6900,#ff7800,#ff8600,#ff9500,#ffa400,#ffb200,#ffc100,#ffd000,#ffde00,#95ff61,#19ffde,#0bf4eb,#00e3f9,#00d2ff,#00c0ff,#00afff,#009eff,#ff3500,#ff4200,#ff5000,#ff5d00,#ff6a00,#f70,#ff8400,#ff9100,#ff9c00,#ffa500,#ffae00,#ffb700,#ffbf00,#ffc800,#ffd100,#ffda00,#ffe300,#ffc600,#ff9400,#ff6200,#ff2f00,#ff2700,#ff2000,#ff1900,#ff1400)"></i>
<i style="top:41px;height:1px;background:linear-gradient(90deg,#00d4ff,#00c2ff,#00b0ff,#009eff,#008cff,#007aff,#0068ff,#0056ff,#0043ff,#0031ff,#001fff,#0006ff,#000087,#c70000,#d70000,#e80000,#f90e00,#ff1c00,#ff2900,#ff3700,#ff4500,#ff5200,#ff6000,#ff7600,#ff8e00,#ffa700,#ffbf00,#64ff93,#0bf3ec,#00d4ff,#00b4ff,#0095ff,#0075ff,#0056ff,#ffe500,#ffe300,#ffe000,#ffde00,#ffdb00,#ffd900,#ffd600,#ffd400,#ffd100,#ffcf00,#fc0,#ffca00,#ffc700,#ffc500,#ffc200,#ffc000,#ffbd00,#fb0,#ffb800,#ffb600,#ffb300,#ff6800,#fa0f00,#f00700,#e70000,#e00000)"></i>
<i style="top:42px;height:1px;background:linear-gradient(90deg,#00d4ff,#00c2ff,#00b0ff,#009eff,#008cff,#007aff,#0068ff,#0056ff,#0043ff,#0031ff,#001fff,#0006ff,#000087,#c70000,#d70000,#e80000,#f90e00,#ff1c00,#ff2900,#ff3700,#ff4500,#ff5200,#ff6000,#ff7600,#ff8e00,#ffa700,#ffbf00,#64ff93,#0bf3ec,#00d4ff,#00b4ff,#0095ff,#0075ff,#0056ff,#ffe500,#ffe300,#ffe000,#ffde00,#ffdb00,#ffd900,#ffd600,#ffd400,#ffd100,#ffcf00,#fc0,#ffca00,#ffc700,#ffc500,#ffc200,#ffc000,#ffbd00,#fb0,#ffb800,#ffb600,#ffb300,#ff6800,#fa0f00,#f00700,#e70000,#e00000)"></i>
<i style="top:43px;height:1px;background:linear-gradient(90deg,#fc0,#ffd500,#ffdf00,#ffe900,#f9f300,#f0fd07,#e8ff0f,#dfff18,#d1ff25,#59ff9e,#00d3ff,#005fff,#0024ff,#0000f5,#0000b1,#8b0000,#c20000,#da0000,#f30900,#ff1d00,#ff3000,#f40,#ff5800,#ff6c00,#ff8000,#ff9300,#ffa700,#ffb700,#ffc400,#ffd000,#fd0,#ffe900,#f7f600,#00b0ff,#b20000,#e20000,#e50000,#e80000,#ec0300,#ef0600,#f20800,#f50b00,#f80e00,#fc1000,#ff1300,#ff1500,#ff1800,#ff1b00,#ff1d00,#ff2000,#ff2300,#ff2500,#ff2800,#ff2b00,#ff2d00,#0000c0,#0000a0,#0000a0,#0000a0,#0000a0)"></i>
<i style="top:44px;height:1px;background:linear-gradient(90deg,#fc0,#ffd500,#ffdf00,#ffe900,#f9f300,#f0fd07,#e8ff0f,#dfff18,#d1ff25,#59ff9e,#00d3ff,#005fff,#0024ff,#0000f5,#0000b1,#8b0000,#c20000,#da0000,#f30900,#ff1d00,#ff3000,#f40,#ff5800,#ff6c00,#ff8000,#ff9300,#ffa700,#ffb700,#ffc400,#ffd000,#fd0,#ffe900,#f7f600,#00b0ff,#b20000,#e20000,#e50000,#e80000,#ec0300,#ef0600,#f20800,#f50b00,#f80e00,#fc1000,#ff1300,#ff1500,#ff1800,#ff1b00,#ff1d00,#ff2000,#ff2300,#ff2500,#ff2800,#ff2b00,#ff2d00,#0000c0,#0000a0,#0000a0,#0000a0,#0000a0)"></i>
<i class="dm" style="top:45px;height:1px;background:linear-gradient(90deg,#fc0,#ffd500,#ffdf00,#ffe900,#f9f300,#f0fd07,#e8ff0f,#dfff18,#d1ff25,#59ff9e,#00d3ff,#005fff,#0024ff,#0000f5,#0000b1,#8b0000,#c20000,#da0000,#f30900,#ff1d00,#ff3000,#f40,#ff5800,#ff6c00,#ff8000,#ff9300,#ffa700,#ffb700,#ffc400,#ffd000,#fd0,#ffe900,#f7f600,#00b0ff,#b20000,#e20000,#e50000,#e80000,#ec0300,#ef0600,#f20800,#f50b00,#f80e00,#fc1000,#ff1300,#ff1500,#ff1800,#ff1b00,#ff1d00,#ff2000,#ff2300,#ff2500,#ff2800,#ff2b00,#ff2d00,#0000c0,#0000a0,#0000a0,#0000a0,#0000a0)"></i>
<i style="top:74px;height:2px;background:linear-gradient(90deg,#ff7d00,#ff8c00,#ff9b00,#fa0,#ffb900,#ffc800,#ffd800,#ffe700,#f7f600,#e9ff0d,#dcff1b,#cfff28,#c2ff35,#b5ff42,#a8ff4f,#9aff5c,#8dff6a,#80ff77,#73ff84,#66ff91,#59ff9e,#4bffab,#3effb9,#31ffc6,#24ffd3,#17ffe0,#0af1ed,#00e1fa,#00d1ff,#00c0ff,#00b0ff,#00a0ff,#008fff,#007fff,#006fff,#005eff,#004eff,#003eff,#002dff,#001dff,#000dff,#00f,#0000fa,#0000e7,#0000d5,#0000c2,#0000b0,#00009d,#00008a,#870000,#9a0000,#ac0000,#bf0000,#d10000,#e40000,#f60c00,#ff1b00,#ff2a00,#ff3900,#ff4800);-webkit-mask-image:linear-gradient(90deg,#000 85%,transparent 100%);mask-image:linear-gradient(90deg,#000 85%,transparent 100%)"></i>
<i style="top:104px;height:1px;background:linear-gradient(90deg,#09f1ee,#01e7f5,#00defd,#00d4ff,#00caff,#00c1ff,#00b7ff,#00aeff,#00a4ff,#009aff,#0091ff,#0087ff,#007eff,#0074ff,#006aff,#0061ff,#0057ff,#004eff,#04f,#003aff,#0031ff,#0027ff,#001eff,#0014ff,#000aff,#0001ff,#00f,#0000fb,#0000f0,#0000e6,#0000db,#0000d0,#0000c5,#0000ba,#0000af,#0000a4,#009,#00008e,#000083,#870000,#920000,#9c0000,#a70000,#b20000,#bd0000,#c80000,#d30000,#de0000,#e90100,#f40a00,#ff1300,#ff1b00,#ff2400,#ff2d00,#ff3600,#ff3f00,#ff4800,#ff5100,#ff5a00,#ff6300);-webkit-mask-image:linear-gradient(90deg,#000 60%,transparent 90%);mask-image:linear-gradient(90deg,#000 60%,transparent 90%)"></i>
<i style="top:105px;height:1px;background:linear-gradient(90deg,#c0ff37,#b2ff45,#a4ff53,#96ff61,#88ff6f,#7aff7d,#6cff8a,#5eff98,#50ffa6,#42ffb4,#35ffc2,#27ffd0,#19ffde,#0bf3ec,#00e1fa,#00d0ff,#00bfff,#00aeff,#009cff,#008bff,#007aff,#0068ff,#0057ff,#0046ff,#0035ff,#0023ff,#0012ff,#0001ff,#0000fe,#0000ea,#0000d6,#0000c3,#0000af,#00009b,#008,#8b0000,#9f0000,#b20000,#c60000,#da0000,#ed0400,#ff1400,#ff2400,#ff3400,#f40,#ff5400,#ff6400,#ff7400,#ff8400,#ff9400,#ffa400,#ffb400,#ffc400,#ffd400,#ffe400,#f8f400,#eaff0d,#dcff1b,#ceff29,#c0ff37);-webkit-mask-image:linear-gradient(90deg,#000 60%,transparent 90%);mask-image:linear-gradient(90deg,#000 60%,transparent 90%)"></i>
<i style="top:106px;height:1px;background:linear-gradient(90deg,#7bff7b,#6eff89,#61ff96,#54ffa3,#47ffb0,#3affbd,#2cffca,#1fffd8,#12fce5,#05ecf2,#00dbff,#00cbff,#0bf,#0af,#009aff,#008aff,#0079ff,#0069ff,#0059ff,#0048ff,#0038ff,#0028ff,#0017ff,#0007ff,#00f,#0000f3,#0000e1,#0000ce,#0000bc,#0000a9,#000096,#000084,#8e0000,#a00000,#b30000,#c50000,#d80000,#ea0200,#fd1100,#ff2000,#ff3000,#ff3f00,#ff4e00,#ff5d00,#ff6c00,#ff7b00,#ff8a00,#f90,#ffa800,#ffb800,#ffc700,#ffd600,#ffe500,#f8f400,#ebff0c,#deff19,#d1ff26,#c3ff33,#b6ff41,#a9ff4e);-webkit-mask-image:linear-gradient(90deg,#000 60%,transparent 90%);mask-image:linear-gradient(90deg,#000 60%,transparent 90%)"></i>
<i style="top:107px;height:2px;background:linear-gradient(90deg,#65ff92,#57ffa0,#49ffad,#3cffbb,#2effc8,#21ffd6,#13fde4,#06edf1,#00dcff,#00cbff,#00baff,#00a9ff,#0098ff,#08f,#07f,#06f,#05f,#04f,#0034ff,#0023ff,#0012ff,#0001ff,#00f,#0000ec,#0000d8,#0000c5,#0000b2,#00009f,#00008c,#860000,#900,#ac0000,#bf0000,#d20000,#e60000,#f90e00,#ff1d00,#ff2d00,#ff3c00,#ff4c00,#ff5c00,#ff6b00,#ff7b00,#ff8a00,#ff9a00,#ffa900,#ffb900,#ffc800,#ffd800,#ffe800,#f5f701,#e8ff0f,#daff1d,#cdff2a,#bfff38,#b2ff45,#a4ff53,#96ff60,#89ff6e,#7bff7b);-webkit-mask-image:linear-gradient(90deg,#000 65%,transparent 95%);mask-image:linear-gradient(90deg,#000 65%,transparent 95%)"></i>
<i style="top:109px;height:3px;background:linear-gradient(90deg,#fc0,#ffdc00,#ffec00,#f0fd06,#e2ff15,#d4ff23,#c5ff31,#b7ff40,#a9ff4e,#9aff5c,#8cff6b,#7eff79,#6fff87,#61ff96,#53ffa4,#44ffb2,#36ffc1,#28ffcf,#19ffdd,#0bf3ec,#00e1fa,#00d0ff,#00beff,#00acff,#009aff,#0089ff,#07f,#0065ff,#0053ff,#0042ff,#0030ff,#001eff,#000cff,#00f,#0000f6,#0000e2,#0000ce,#0000b9,#0000a5,#000091,#820000,#960000,#ab0000,#bf0000,#d30000,#e70000,#fb1000,#ff2000,#ff3100,#ff4100,#ff5200,#ff6200,#ff7300,#ff8300,#ff9400,#ffa400,#ffb400,#ffc500,#ffd500,#ffe600);-webkit-mask-image:linear-gradient(90deg,#000 65%,transparent 95%);mask-image:linear-gradient(90deg,#000 65%,transparent 95%)"></i>
<i style="top:113px;height:1px;background:linear-gradient(90deg,#0047ff,#0038ff,#0029ff,#001aff,#000bff,#00f,#0000fb,#0000ea,#0000da,#0000c9,#0000b8,#0000a7,#000096,#000085,#8b0000,#9c0000,#ad0000,#be0000,#cf0000,#e00000,#f00700,#ff1500,#ff2300,#ff3000,#ff3e00,#ff4c00,#ff5a00,#ff6800,#ff7500,#ff8300,#ff9100,#ff9f00,#ffac00,#ffba00,#ffc800,#ffd600,#ffe400,#faf100,#eeff08,#e2ff14,#d6ff20,#caff2c,#beff38,#b2ff44,#a6ff50,#9aff5c,#8eff68,#82ff74,#76ff80,#6aff8c,#5eff98,#52ffa4,#46ffb0,#3affbc,#2effc8,#22ffd4,#16ffe0,#0af2ec,#00e3f8,#00d4ff);-webkit-mask-image:linear-gradient(90deg,#000 70%,transparent 100%);mask-image:linear-gradient(90deg,#000 70%,transparent 100%)"></i>
<i style="top:213px;height:4px;background:linear-gradient(90deg,#ff7d00,#ff9000,#ffa300,#ffb600,#ffc900,#ffdc00,#fcf000,#ebff0b,#dbff1c,#caff2d,#b9ff3d,#a9ff4e,#98ff5f,#87ff6f,#77ff80,#66ff91,#55ffa1,#45ffb2,#34ffc3,#23ffd3,#13fde4,#02e8f5,#00d4ff,#00bfff,#0af,#0096ff,#0081ff,#006cff,#0058ff,#0043ff,#002eff,#001aff,#0005ff,#00f,#0000e7,#0000d0,#0000b8,#0000a1,#000089,#8d0000,#a50000,#bc0000,#d40000,#eb0300,#ff1600,#ff2900,#ff3c00,#ff4f00,#ff6200,#ff7500,#f80,#ff9c00,#ffaf00,#ffc200,#ffd500,#ffe800,#f2fb05,#e1ff16,#d1ff26,#c0ff37);-webkit-mask-image:linear-gradient(90deg,#000 65%,transparent 80%);mask-image:linear-gradient(90deg,#000 65%,transparent 80%)"></i>
<i style="top:362px;height:3px;background:linear-gradient(90deg,#ffb100,#ffc200,#ffd200,#ffe300,#f9f300,#ebff0c,#dcff1b,#ceff29,#c0ff37,#b1ff46,#a3ff54,#95ff62,#86ff71,#78ff7f,#6aff8d,#5bff9c,#4dffaa,#3fffb8,#30ffc7,#22ffd5,#14fee3,#05ecf2,#00daff,#00c8ff,#00b7ff,#00a5ff,#0093ff,#0081ff,#0070ff,#005eff,#004cff,#003aff,#0029ff,#0017ff,#0005ff,#00f,#00e,#0000da,#0000c5,#0000b1,#00009d,#000089,#8a0000,#9f0000,#b30000,#c70000,#db0000,#ef0600,#ff1700,#ff2700,#ff3800,#ff4800,#ff5800,#ff6900,#ff7900,#ff8a00,#ff9a00,#ffab00,#fb0,#fc0);-webkit-mask-image:linear-gradient(90deg,#000 70%,transparent 85%);mask-image:linear-gradient(90deg,#000 70%,transparent 85%)"></i>
<i style="top:366px;height:1px;background:linear-gradient(90deg,#ffb100,#ffc200,#ffd200,#ffe300,#f9f300,#ebff0c,#dcff1b,#ceff29,#c0ff37,#b1ff46,#a3ff54,#95ff62,#86ff71,#78ff7f,#6aff8d,#5bff9c,#4dffaa,#3fffb8,#30ffc7,#22ffd5,#14fee3,#05ecf2,#00daff,#00c8ff,#00b7ff,#00a5ff,#0093ff,#0081ff,#0070ff,#005eff,#004cff,#003aff,#0029ff,#0017ff,#0005ff,#00f,#00e,#0000da,#0000c5,#0000b1,#00009d,#000089,#8a0000,#9f0000,#b30000,#c70000,#db0000,#ef0600,#ff1700,#ff2700,#ff3800,#ff4800,#ff5800,#ff6900,#ff7900,#ff8a00,#ff9a00,#ffab00,#fb0,#fc0);-webkit-mask-image:linear-gradient(90deg,#000 70%,transparent 85%);mask-image:linear-gradient(90deg,#000 70%,transparent 85%)"></i>
<i style="top:401px;height:2px;background:linear-gradient(90deg,#ff7d00,#ff8b00,#f90,#ffa800,#ffb600,#ffc400,#ffd200,#ffe000,#fdef00,#f0fd06,#e4ff13,#d8ff1f,#cbff2c,#bfff38,#b2ff44,#a6ff51,#9aff5d,#8dff6a,#81ff76,#74ff82,#68ff8f,#5cff9b,#4fffa8,#43ffb4,#36ffc0,#2affcd,#1effd9,#11fbe6,#05ecf2,#00dcfe,#00cdff,#00bdff,#00aeff,#009fff,#008fff,#0080ff,#0071ff,#0061ff,#0052ff,#0043ff,#03f,#0024ff,#0014ff,#0005ff,#00f,#0000f3,#0000e2,#0000d0,#0000bf,#0000ad,#00009c,#00008a,#860000,#980000,#a90000,#ba0000,#c00,#d00,#ef0600,#ff1400);-webkit-mask-image:linear-gradient(90deg,#000 60%,transparent 75%);mask-image:linear-gradient(90deg,#000 60%,transparent 75%)"></i>
<i style="top:403px;height:2px;background:linear-gradient(90deg,#ff4800,#ff5600,#ff6300,#ff7000,#ff7e00,#ff8b00,#ff9800,#ffa600,#ffb300,#ffc000,#ffce00,#ffdb00,#ffe800,#f7f600,#ebff0c,#dfff17,#d4ff23,#c8ff2f,#bcff3a,#b1ff46,#a5ff52,#9aff5d,#8eff69,#82ff74,#77ff80,#6bff8c,#60ff97,#54ffa3,#48ffaf,#3dffba,#31ffc6,#25ffd1,#1affdd,#0ef7e9,#03e9f4,#00daff,#0cf,#00bdff,#00afff,#00a1ff,#0092ff,#0084ff,#0075ff,#0067ff,#0059ff,#004aff,#003cff,#002dff,#001fff,#01f,#0002ff,#00f,#0000f2,#0000e2,#0000d1,#0000c1,#0000b1,#0000a0,#000090,#000080);-webkit-mask-image:linear-gradient(90deg,#000 57%,transparent 72%);mask-image:linear-gradient(90deg,#000 57%,transparent 72%)"></i>
<i style="top:405px;height:1px;background:linear-gradient(90deg,#ff1400,#ff2000,#ff2d00,#ff3900,#ff4600,#ff5200,#ff5f00,#ff6b00,#ff7800,#ff8400,#ff9000,#ff9d00,#ffa900,#ffb600,#ffc200,#ffcf00,#ffdb00,#ffe800,#f8f400,#edff0a,#e2ff14,#d8ff1f,#cdff2a,#c2ff35,#b7ff40,#acff4b,#a1ff55,#96ff60,#8cff6b,#81ff76,#76ff81,#6bff8c,#60ff96,#55ffa1,#4bffac,#40ffb7,#35ffc2,#2affcd,#1fffd8,#14ffe2,#0af1ed,#00e4f8,#00d6ff,#00c9ff,#00bcff,#00aeff,#00a1ff,#0093ff,#0086ff,#0078ff,#006bff,#005dff,#0050ff,#0043ff,#0035ff,#0028ff,#001aff,#000dff,#00f,#00f);-webkit-mask-image:linear-gradient(90deg,#000 55%,transparent 70%);mask-image:linear-gradient(90deg,#000 55%,transparent 70%)"></i>
<i style="top:406px;height:2px;background:linear-gradient(90deg,#e00000,#ee0500,#fb1000,#ff1b00,#ff2600,#ff3100,#ff3c00,#ff4800,#ff5300,#ff5e00,#ff6900,#ff7400,#ff7f00,#ff8a00,#ff9500,#ffa000,#ffac00,#ffb700,#ffc200,#ffcd00,#ffd800,#ffe300,#fdee00,#f3f903,#eaff0d,#e0ff17,#d6ff20,#cdff2a,#c3ff34,#b9ff3d,#b0ff47,#a6ff51,#9cff5a,#93ff64,#89ff6e,#7fff78,#76ff81,#6cff8b,#62ff95,#59ff9e,#4fffa8,#45ffb2,#3bffbb,#32ffc5,#28ffcf,#1effd8,#15ffe2,#0bf3ec,#01e7f5,#00dbff,#00cfff,#00c3ff,#00b7ff,#00abff,#009fff,#0093ff,#0087ff,#007bff,#006fff,#0063ff);-webkit-mask-image:linear-gradient(90deg,#000 50%,transparent 65%);mask-image:linear-gradient(90deg,#000 50%,transparent 65%)"></i>
<i style="top:475px;height:10px;background:linear-gradient(90deg,#a9ff4e,#9fff58,#94ff63,#8aff6d,#7fff78,#75ff82,#6aff8c,#60ff97,#55ffa1,#4bffac,#41ffb6,#36ffc1,#2cffcb,#21ffd6,#17ffe0,#0cf5eb,#02e8f5,#00dbff,#00ceff,#00c1ff,#00b4ff,#00a7ff,#009aff,#008dff,#0080ff,#0073ff,#06f,#0059ff,#004cff,#003fff,#0032ff,#0025ff,#0018ff,#000bff,#00f,#00f,#0000f1,#0000e2,#0000d4,#0000c5,#0000b6,#0000a7,#009,#00008a,#840000,#930000,#a10000,#b00000,#bf0000,#ce0000,#dc0000,#eb0300,#fa0f00,#ff1b00,#ff2700,#f30,#ff3f00,#ff4b00,#ff5700,#ff6300);opacity:0.35;-webkit-mask-image:linear-gradient(90deg,#000 90%,transparent 100%);mask-image:linear-gradient(90deg,#000 90%,transparent 100%)"></i>
<i style="top:488px;height:2px;background:linear-gradient(90deg,#ffb100,#ffbf00,#fc0,#ffd900,#ffe700,#f8f400,#ecff0a,#e1ff16,#d5ff22,#caff2d,#beff39,#b2ff44,#a7ff50,#9bff5c,#90ff67,#84ff73,#78ff7e,#6dff8a,#61ff96,#55ffa1,#4affad,#3effb9,#33ffc4,#27ffd0,#1bffdb,#10f9e7,#04ebf3,#00dcfe,#00ceff,#00bfff,#00b1ff,#00a3ff,#0094ff,#0086ff,#07f,#0069ff,#005bff,#004cff,#003eff,#002fff,#0021ff,#0012ff,#0004ff,#00f,#0000f4,#0000e4,#0000d4,#0000c3,#0000b3,#0000a2,#000092,#000082,#8e0000,#9e0000,#ae0000,#bf0000,#cf0000,#e00000,#f00700,#ff1400);-webkit-mask-image:linear-gradient(90deg,#000 65%,transparent 80%);mask-image:linear-gradient(90deg,#000 65%,transparent 80%)"></i>
<i style="top:491px;height:4px;background:linear-gradient(90deg,#e00000,#ed0400,#fa0f00,#ff1a00,#ff2400,#ff2f00,#ff3a00,#f40,#ff4f00,#ff5a00,#ff6400,#ff6f00,#ff7a00,#ff8400,#ff8f00,#ff9a00,#ffa400,#ffaf00,#ffba00,#ffc400,#ffcf00,#ffda00,#ffe400,#fcef00,#f3fa04,#eaff0d,#e0ff16,#d7ff20,#ceff29,#c5ff32,#bbff3b,#b2ff45,#a9ff4e,#9fff57,#96ff61,#8dff6a,#84ff73,#7aff7d,#71ff86,#68ff8f,#5eff98,#55ffa2,#4cffab,#42ffb4,#39ffbe,#30ffc7,#27ffd0,#1dffd9,#14fee3,#0bf3ec,#01e7f5,#00dcff,#00d0ff,#00c5ff,#00b9ff,#00aeff,#00a2ff,#0097ff,#008bff,#0080ff);-webkit-mask-image:linear-gradient(90deg,#000 60%,transparent 75%);mask-image:linear-gradient(90deg,#000 60%,transparent 75%)"></i>
<i style="top:501px;height:2px;background:linear-gradient(90deg,#00d4ff,#00d3ff,#00d1ff,#00cfff,#00cdff,#00cbff,#00c9ff,#00c7ff,#00c5ff,#00c3ff,#00c1ff,#00bfff,#00bdff,#00bcff,#00baff,#00b8ff,#00b6ff,#00b4ff,#00b2ff,#00b0ff,#00aeff,#00acff,#0af,#00a8ff,#00a6ff,#00a4ff,#00a3ff,#00a1ff,#009fff,#009dff,#009bff,#09f,#0097ff,#0095ff,#0093ff,#0091ff,#008fff,#008dff,#008cff,#008aff,#08f,#0086ff,#0084ff,#0082ff,#0080ff,#007eff,#007cff,#007aff,#0078ff,#0076ff,#0074ff,#0073ff,#0071ff,#006fff,#006dff,#006bff,#0069ff,#0067ff,#0065ff,#0063ff);opacity:0.3;-webkit-mask-image:linear-gradient(90deg,#000 90%,transparent 100%);mask-image:linear-gradient(90deg,#000 90%,transparent 100%)"></i>
<i style="top:560px;height:2px;background:linear-gradient(90deg,#ffe600,#ffe700,#ffe800,#ffea00,#ffeb00,#ffec00,#feee00,#fcef00,#fbf000,#faf200,#f9f300,#f8f400,#f7f600,#f5f701,#f4f803,#f3fa04,#f2fb05,#f1fc06,#f0fe07,#eeff08,#edff0a,#ecff0b,#ebff0c,#eaff0d,#e9ff0e,#e7ff0f,#e6ff10,#e5ff12,#e4ff13,#e3ff14,#e2ff15,#e0ff16,#dfff17,#deff19,#ddff1a,#dcff1b,#dbff1c,#d9ff1d,#d8ff1e,#d7ff20,#d6ff21,#d5ff22,#d4ff23,#d3ff24,#d1ff25,#d0ff27,#cfff28,#ceff29,#cdff2a,#ccff2b,#caff2c,#c9ff2e,#c8ff2f,#c7ff30,#c6ff31,#c5ff32,#c3ff33,#c2ff35,#c1ff36,#c0ff37);opacity:0.3;-webkit-mask-image:linear-gradient(90deg,#000 90%,transparent 100%);mask-image:linear-gradient(90deg,#000 90%,transparent 100%)"></i>
<i style="top:567px;height:1px;background:linear-gradient(90deg,#c0ff37,#b5ff42,#aaff4d,#9fff57,#95ff62,#8aff6d,#7fff78,#74ff83,#69ff8e,#5eff98,#53ffa3,#49ffae,#3effb9,#33ffc4,#28ffcf,#1dffd9,#12fce4,#08efef,#00e1fa,#00d4ff,#00c7ff,#00b9ff,#00acff,#009eff,#0091ff,#0083ff,#0076ff,#0068ff,#005bff,#004eff,#0040ff,#03f,#0025ff,#0018ff,#000aff,#00f,#0000fe,#00e,#0000df,#0000d0,#0000c0,#0000b1,#0000a2,#000093,#000083,#8b0000,#9a0000,#a00,#b90000,#c80000,#d70000,#e70000,#f60b00,#ff1800,#ff2400,#ff3100,#ff3d00,#ff4a00,#ff5600,#ff6300);-webkit-mask-image:linear-gradient(90deg,#000 55%,transparent 80%);mask-image:linear-gradient(90deg,#000 55%,transparent 80%)"></i>
<i style="top:569px;height:2px;background:linear-gradient(90deg,#c0ff37,#b5ff42,#aaff4d,#9fff57,#95ff62,#8aff6d,#7fff78,#74ff83,#69ff8e,#5eff98,#53ffa3,#49ffae,#3effb9,#33ffc4,#28ffcf,#1dffd9,#12fce4,#08efef,#00e1fa,#00d4ff,#00c7ff,#00b9ff,#00acff,#009eff,#0091ff,#0083ff,#0076ff,#0068ff,#005bff,#004eff,#0040ff,#03f,#0025ff,#0018ff,#000aff,#00f,#0000fe,#00e,#0000df,#0000d0,#0000c0,#0000b1,#0000a2,#000093,#000083,#8b0000,#9a0000,#a00,#b90000,#c80000,#d70000,#e70000,#f60b00,#ff1800,#ff2400,#ff3100,#ff3d00,#ff4a00,#ff5600,#ff6300);-webkit-mask-image:linear-gradient(90deg,#000 55%,transparent 80%);mask-image:linear-gradient(90deg,#000 55%,transparent 80%)"></i>
</div>
<svg class="n" width="178" height="641"><use href="#wk"/><g stroke="#000" stroke-width="0.8"><path d="M-0.22 0v6.5M-0.22 641v-6.5"/><path d="M41.38 0v6.5M41.38 641v-6.5"/><path d="M82.98 0v6.5M82.98 641v-6.5"/><path d="M124.58 0v6.5M124.58 641v-6.5"/><path d="M166.18 0v6.5M166.18 641v-6.5"/></g></svg>
<b></b></div>
<div class="t c k" style="left:313.5px;width:60px;top:726px">320</div>
<div class="t c k" style="left:355.1px;width:60px;top:726px">335</div>
<div class="t c k" style="left:396.7px;width:60px;top:726px">350</div>
<div class="t c k" style="left:438.3px;width:60px;top:726px">365</div>
<div class="t c k" style="left:479.9px;width:60px;top:726px">380</div>
<div class="t r k" style="left:279px;width:60px;top:713.7px">0</div>
<div class="t r k" style="left:279px;width:60px;top:580.4px">5</div>
<div class="t r k" style="left:279px;width:60px;top:447.0px">10</div>
<div class="t r k" style="left:279px;width:60px;top:313.7px">15</div>
<div class="t r k" style="left:279px;width:60px;top:180.4px">20</div>
<div class="t c ti" style="left:494.3px;width:300px;top:61px">XY, V8*V13=EA07*EA15</div>
<div class="p" style="left:556px;width:178px">
<svg class="n" width="178" height="641"><rect width="178" height="641" filter="url(#nz2)"/></svg>
<div class="cw" style="filter:url(#dz2)">
<i style="top:1px;height:1px;background:linear-gradient(90deg,#ff2e00,#f30,#ff3800,#ff3d00,#ff4200,#ff4700,#ff4c00,#ff5100,#ff5600,#ff5b00,#ff6000,#ffb600,#77ff80,#00d3ff,#008aff,#0046ff,#0038ff,#002aff,#001dff,#000fff,#0001ff,#00f,#0000f3,#0000e3,#0000c3,#00009f,#8a0000,#d30000,#f90e00,#ff2700,#ff3f00,#ff5800,#ff7100,#ffb700,#cbff2c,#76ff81,#5aff9c,#3fffb8,#23ffd4,#08efef,#00cdff,#00abff,#08f,#06f,#04f,#0024ff,#000aff,#00f,#0000e2,#0000c5,#0000a8,#00008a,#980000,#bf0000,#e50000,#ff1800,#ff2500,#ff3200,#ff4000,#ff4d00);opacity:0.5;-webkit-mask-image:linear-gradient(90deg,#000,rgba(0,0,0,0.3));mask-image:linear-gradient(90deg,#000,rgba(0,0,0,0.3))"></i>
<i style="top:2px;height:1px;background:linear-gradient(90deg,#ff2e00,#f30,#ff3800,#ff3d00,#ff4200,#ff4700,#ff4c00,#ff5100,#ff5600,#ff5b00,#ff6000,#ffb600,#77ff80,#00d3ff,#008aff,#0046ff,#0038ff,#002aff,#001dff,#000fff,#0001ff,#00f,#0000f3,#0000e3,#0000c3,#00009f,#8a0000,#d30000,#f90e00,#ff2700,#ff3f00,#ff5800,#ff7100,#ffb700,#cbff2c,#76ff81,#5aff9c,#3fffb8,#23ffd4,#08efef,#00cdff,#00abff,#08f,#06f,#04f,#0024ff,#000aff,#00f,#0000e2,#0000c5,#0000a8,#00008a,#980000,#bf0000,#e50000,#ff1800,#ff2500,#ff3200,#ff4000,#ff4d00);opacity:0.5;-webkit-mask-image:linear-gradient(90deg,#000,rgba(0,0,0,0.3));mask-image:linear-gradient(90deg,#000,rgba(0,0,0,0.3))"></i>
<i style="top:3px;height:1px;background:linear-gradient(90deg,#ff2e00,#f30,#ff3800,#ff3d00,#ff4200,#ff4700,#ff4c00,#ff5100,#ff5600,#ff5b00,#ff6000,#ffb600,#77ff80,#00d3ff,#008aff,#0046ff,#0038ff,#002aff,#001dff,#000fff,#0001ff,#00f,#0000f3,#0000e3,#0000c3,#00009f,#8a0000,#d30000,#f90e00,#ff2700,#ff3f00,#ff5800,#ff7100,#ffb700,#cbff2c,#76ff81,#5aff9c,#3fffb8,#23ffd4,#08efef,#00cdff,#00abff,#08f,#06f,#04f,#0024ff,#000aff,#00f,#0000e2,#0000c5,#0000a8,#00008a,#980000,#bf0000,#e50000,#ff1800,#ff2500,#ff3200,#ff4000,#ff4d00);opacity:0.5;-webkit-mask-image:linear-gradient(90deg,#000,rgba(0,0,0,0.3));mask-image:linear-gradient(90deg,#000,rgba(0,0,0,0.3))"></i>
<i style="top:4px;height:1px;background:linear-gradient(90deg,#ff2e00,#f30,#ff3800,#ff3d00,#ff4200,#ff4700,#ff4c00,#ff5100,#ff5600,#ff5b00,#ff6000,#ffc000,#6eff89,#00d0ff,#0086ff,#0045ff,#0037ff,#002aff,#001cff,#000eff,#00f,#00f,#0000f1,#0000e2,#0000c0,#00009b,#910000,#d80000,#fb1000,#ff2800,#ff4100,#ff5a00,#ff7300,#ffbf00,#c5ff32,#75ff82,#59ff9d,#3effb9,#23ffd4,#07efef,#00cdff,#00abff,#08f,#06f,#04f,#0024ff,#000aff,#00f,#0000e2,#0000c5,#0000a8,#00008a,#980000,#bf0000,#e50000,#ff1800,#ff2500,#ff3200,#ff4000,#ff4d00);opacity:0.5;-webkit-mask-image:linear-gradient(90deg,#000,rgba(0,0,0,0.3));mask-image:linear-gradient(90deg,#000,rgba(0,0,0,0.3))"></i>
<i style="top:5px;height:1px;background:linear-gradient(90deg,#ff2e00,#f30,#ff3800,#ff3d00,#ff4200,#ff4700,#ff4c00,#ff5100,#ff5600,#ff5b00,#ff6000,#ffd400,#5cff9a,#00c9ff,#0080ff,#04f,#0036ff,#0028ff,#001aff,#000cff,#00f,#0000fe,#0000ef,#00d,#0000b9,#000094,#9d0000,#e10000,#ff1300,#ff2c00,#ff4500,#ff5d00,#ff7600,#ffcd00,#bbff3c,#72ff84,#57ff9f,#3dffba,#22ffd5,#07eef0,#00cdff,#00abff,#08f,#06f,#04f,#0024ff,#000aff,#00f,#0000e2,#0000c5,#0000a8,#00008a,#980000,#bf0000,#e50000,#ff1800,#ff2500,#ff3200,#ff4000,#ff4d00);opacity:0.5;-webkit-mask-image:linear-gradient(90deg,#000,rgba(0,0,0,0.3));mask-image:linear-gradient(90deg,#000,rgba(0,0,0,0.3))"></i>
<i style="top:6px;height:1px;background:linear-gradient(90deg,#ff2e00,#f30,#ff3800,#ff3d00,#ff4200,#ff4700,#ff4d00,#ff5200,#ff5700,#ff5c00,#ff6100,#ffe800,#4bffac,#00c2ff,#0079ff,#0042ff,#0034ff,#0026ff,#0018ff,#000aff,#00f,#0000fc,#0000ec,#0000d6,#0000b2,#00008d,#a90000,#e50000,#ff1700,#ff3000,#ff4800,#ff6100,#ff7a00,#ffdb00,#b0ff46,#70ff87,#56ffa1,#3bffbb,#21ffd6,#07eef0,#00cdff,#00abff,#08f,#06f,#04f,#0024ff,#000aff,#00f,#0000e2,#0000c5,#0000a8,#00008a,#980000,#bf0000,#e50000,#ff1800,#ff2500,#ff3200,#ff4000,#ff4d00);opacity:0.5;-webkit-mask-image:linear-gradient(90deg,#000,rgba(0,0,0,0.3));mask-image:linear-gradient(90deg,#000,rgba(0,0,0,0.3))"></i>
<i style="top:7px;height:1px;background:linear-gradient(90deg,#ff2e00,#f30,#ff3800,#ff3d00,#ff4300,#ff4800,#ff4d00,#ff5200,#ff5700,#ff5c00,#ff6100,#f2fc05,#3affbd,#0bf,#0072ff,#0041ff,#03f,#0024ff,#0016ff,#0008ff,#00f,#0000f9,#0000e9,#0000cf,#0000ab,#000086,#b40000,#ea0200,#ff1a00,#f30,#ff4c00,#ff6400,#ff7e00,#ffe800,#a7ff50,#6eff89,#54ffa3,#3affbd,#20ffd7,#06edf0,#00cdff,#00abff,#08f,#06f,#04f,#0024ff,#000aff,#00f,#0000e2,#0000c5,#0000a8,#00008a,#980000,#bf0000,#e50000,#ff1800,#ff2500,#ff3200,#ff4000,#ff4d00);opacity:0.5;-webkit-mask-image:linear-gradient(90deg,#000,rgba(0,0,0,0.3));mask-image:linear-gradient(90deg,#000,rgba(0,0,0,0.3))"></i>
<i style="top:8px;height:1px;background:linear-gradient(90deg,#ff2e00,#f30,#ff3800,#ff3e00,#ff4300,#ff4800,#ff4d00,#ff5200,#ff5700,#ff5d00,#ff6200,#e0ff17,#28ffcf,#00b4ff,#006bff,#003fff,#0031ff,#0023ff,#0014ff,#0006ff,#00f,#0000f6,#0000e6,#0000c8,#0000a4,#000080,#be0000,#ee0500,#ff1e00,#ff3700,#ff4f00,#ff6800,#ff8d00,#f8f500,#9dff59,#6cff8b,#52ffa5,#39ffbe,#1fffd7,#06edf1,#00cdff,#00abff,#08f,#06f,#04f,#0024ff,#000aff,#00f,#0000e2,#0000c5,#0000a8,#00008a,#980000,#bf0000,#e50000,#ff1800,#ff2500,#ff3200,#ff4000,#ff4d00);opacity:0.5;-webkit-mask-image:linear-gradient(90deg,#000,rgba(0,0,0,0.3));mask-image:linear-gradient(90deg,#000,rgba(0,0,0,0.3))"></i>
<i style="top:9px;height:1px;background:linear-gradient(90deg,#ff2e00,#f30,#ff3900,#ff3e00,#ff4300,#ff4800,#ff4d00,#ff5300,#ff5800,#ff5d00,#ff6200,#cfff28,#17ffe0,#00adff,#0064ff,#003eff,#002fff,#0021ff,#0012ff,#0004ff,#00f,#0000f3,#0000e3,#0000c2,#00009d,#8b0000,#c80000,#f20900,#ff2100,#ff3a00,#ff5300,#ff6c00,#ff9b00,#edff0a,#94ff62,#69ff8d,#51ffa6,#38ffbf,#1fffd8,#06ecf1,#00cdff,#00abff,#08f,#06f,#04f,#0024ff,#000aff,#00f,#0000e2,#0000c5,#0000a8,#00008a,#980000,#bf0000,#e50000,#ff1800,#ff2500,#ff3200,#ff4000,#ff4d00);opacity:0.5;-webkit-mask-image:linear-gradient(90deg,#000,rgba(0,0,0,0.3));mask-image:linear-gradient(90deg,#000,rgba(0,0,0,0.3))"></i>
<i style="top:10px;height:1px;background:linear-gradient(90deg,#ff2e00,#f30,#ff3900,#ff3e00,#ff4300,#ff4800,#ff4e00,#ff5300,#ff5800,#ff5d00,#ff6500,#bdff39,#08efef,#00a6ff,#005dff,#003cff,#002eff,#001fff,#0010ff,#0001ff,#00f,#0000f0,#0000df,#00b,#000096,#960000,#d10000,#f70c00,#ff2500,#ff3e00,#ff5600,#ff6f00,#ffa900,#e3ff14,#8cff6b,#67ff8f,#4fffa8,#36ffc0,#1effd9,#05ecf1,#00cdff,#00abff,#08f,#06f,#04f,#0024ff,#000aff,#00f,#0000e2,#0000c5,#0000a8,#00008a,#980000,#bf0000,#e50000,#ff1800,#ff2500,#ff3200,#ff4000,#ff4d00);opacity:0.5;-webkit-mask-image:linear-gradient(90deg,#000,rgba(0,0,0,0.3));mask-image:linear-gradient(90deg,#000,rgba(0,0,0,0.3))"></i>
<i style="top:11px;height:1px;background:linear-gradient(90deg,#ff5300,#ff5800,#ff5e00,#ff7000,#ffa700,#ffdf00,#daff1d,#aaff4d,#79ff7e,#49ffae,#18ffdf,#00d5ff,#0af,#007aff,#004bff,#0038ff,#0028ff,#0017ff,#0007ff,#00f,#0000f3,#0000e0,#0000bc,#000097,#940000,#c00,#f40a00,#f20,#ff3b00,#ff5400,#ff6d00,#ff9b00,#faf200,#b1ff45,#79ff7e,#61ff96,#48ffaf,#30ffc7,#18ffdf,#00e5f7,#00c6ff,#00a5ff,#0085ff,#0064ff,#0043ff,#0024ff,#0009ff,#0000fc,#0000de,#0000bf,#0000a1,#000083,#a20000,#c90000,#f00700,#ff1b00,#ff2700,#ff3400,#ff4000,#ff4c00);opacity:0.5;-webkit-mask-image:linear-gradient(90deg,#000,rgba(0,0,0,0.3));mask-image:linear-gradient(90deg,#000,rgba(0,0,0,0.3))"></i>
<i style="top:12px;height:1px;background:linear-gradient(90deg,#94ff63,#80ff77,#6cff8a,#59ff9e,#45ffb2,#32ffc5,#1effd9,#0bf3ec,#00ddfe,#00c7ff,#00afff,#0093ff,#0078ff,#005cff,#0042ff,#002dff,#0019ff,#0004ff,#0000fe,#0000e6,#0000c5,#0000a0,#860000,#b00,#e90100,#ff1a00,#f30,#ff4b00,#ff6400,#ff7d00,#ffc400,#e4ff12,#b0ff46,#8bff6c,#6dff8a,#55ffa2,#3dffba,#24ffd2,#0df6ea,#00d9ff,#0bf,#009cff,#007eff,#0060ff,#0041ff,#0023ff,#0006ff,#0000f6,#0000d4,#0000b3,#000092,#910000,#b80000,#df0000,#ff1500,#ff2000,#ff2b00,#ff3600,#ff4100,#ff4c00);opacity:0.5;-webkit-mask-image:linear-gradient(90deg,#000,rgba(0,0,0,0.3));mask-image:linear-gradient(90deg,#000,rgba(0,0,0,0.3))"></i>
<i style="top:13px;height:1px;background:linear-gradient(90deg,#38ffbf,#2cffcb,#20ffd7,#13fde3,#07eef0,#00dffc,#00d1ff,#00c2ff,#00b1ff,#009eff,#008aff,#0076ff,#0063ff,#004fff,#0037ff,#001bff,#00f,#0000f1,#0000cf,#0000a9,#000084,#ac0000,#de0000,#fd1100,#ff2a00,#ff4300,#ff5c00,#ff7400,#ffa400,#ffe000,#d6ff21,#b0ff47,#95ff62,#79ff7d,#61ff96,#49ffae,#31ffc6,#19ffde,#03e9f4,#00cdff,#00b1ff,#0095ff,#0078ff,#005cff,#0040ff,#02f,#0002ff,#00e,#0000c9,#0000a4,#800000,#a70000,#cd0000,#f40a00,#ff1b00,#ff2400,#ff2e00,#ff3800,#ff4200,#ff4c00);opacity:0.5;-webkit-mask-image:linear-gradient(90deg,#000,rgba(0,0,0,0.3));mask-image:linear-gradient(90deg,#000,rgba(0,0,0,0.3))"></i>
<i style="top:14px;height:1px;background:linear-gradient(90deg,#25ffd2,#1bffdc,#10fae7,#05ecf1,#00dffc,#00d2ff,#00c4ff,#00b7ff,#00a5ff,#0093ff,#0082ff,#0070ff,#005eff,#004cff,#0030ff,#000eff,#0000fa,#0000d3,#0000ad,#000086,#a80000,#d90000,#fb1000,#ff2900,#ff4200,#ff5b00,#ff7400,#ffa100,#ffd700,#e2ff15,#baff3d,#a2ff55,#8aff6d,#72ff85,#5aff9d,#42ffb5,#29ffce,#12fce5,#00e0fb,#00c4ff,#00a9ff,#008dff,#0071ff,#0056ff,#003aff,#001bff,#00f,#0000e0,#0000b9,#000092,#940000,#b00,#e30000,#ff1600,#ff2000,#ff2900,#f30,#ff3d00,#ff4600,#ff5000);opacity:0.5;-webkit-mask-image:linear-gradient(90deg,#000,rgba(0,0,0,0.3));mask-image:linear-gradient(90deg,#000,rgba(0,0,0,0.3))"></i>
<i style="top:15px;height:1px;background:linear-gradient(90deg,#2fffc8,#25ffd1,#1bffdc,#0ff9e7,#04eaf3,#00dcff,#00cdff,#00bfff,#00aeff,#009bff,#08f,#0075ff,#0062ff,#004fff,#0032ff,#000fff,#0000fa,#0000d2,#0000ab,#000083,#ae0000,#e10000,#ff1500,#ff2f00,#ff4900,#ff6300,#ff7e00,#ffb300,#ffe700,#d8ff1f,#b6ff41,#9eff59,#86ff71,#6eff88,#57ffa0,#3effb9,#25ffd2,#0ef7e9,#00daff,#00beff,#00a1ff,#0085ff,#0068ff,#004cff,#002fff,#000dff,#0000f6,#0000ce,#0000a6,#810000,#a90000,#d00000,#f80d00,#ff1c00,#ff2600,#ff3000,#ff3b00,#ff4500,#ff4f00,#ff5900);opacity:0.5;-webkit-mask-image:linear-gradient(90deg,#000,rgba(0,0,0,0.3));mask-image:linear-gradient(90deg,#000,rgba(0,0,0,0.3))"></i>
<i style="top:16px;height:1px;background:linear-gradient(90deg,#37ffbf,#2effc8,#26ffd1,#1bffdb,#0ff8e8,#02e8f5,#00d8ff,#00c9ff,#00b9ff,#00a4ff,#0090ff,#007bff,#0067ff,#0052ff,#0036ff,#01f,#0000fb,#0000d2,#0000a9,#800000,#b50000,#e70000,#ff1b00,#ff3600,#ff5100,#ff6c00,#ff9100,#ffc300,#f6f600,#cfff28,#b2ff45,#9aff5d,#83ff74,#6bff8c,#53ffa3,#3affbc,#21ffd6,#09f1ee,#00d4ff,#00b6ff,#09f,#007cff,#005eff,#0041ff,#02f,#00f,#0000e4,#00b,#000092,#960000,#be0000,#e50000,#ff1700,#f20,#ff2d00,#ff3800,#ff4300,#ff4e00,#ff5900,#ff6400);opacity:0.5;-webkit-mask-image:linear-gradient(90deg,#000,rgba(0,0,0,0.3));mask-image:linear-gradient(90deg,#000,rgba(0,0,0,0.3))"></i>
<i style="top:17px;height:1px;background:linear-gradient(90deg,#3fffb8,#36ffc0,#2effc9,#26ffd1,#1cffdb,#0ef7e9,#00e5f7,#00d4ff,#00c3ff,#00afff,#09f,#0082ff,#006cff,#0056ff,#0039ff,#0013ff,#0000fb,#0000d1,#0000a6,#850000,#bc0000,#ed0400,#f20,#ff3e00,#ff5a00,#ff7600,#ffa200,#ffd300,#ebff0c,#c8ff2f,#aeff49,#97ff60,#7fff78,#68ff8f,#50ffa6,#37ffc0,#1dffda,#04ebf2,#00cdff,#00afff,#0090ff,#0072ff,#0054ff,#0036ff,#0013ff,#0000fc,#0000d1,#0000a7,#820000,#ab0000,#d30000,#fb1000,#ff1e00,#ff2a00,#ff3600,#ff4100,#ff4d00,#ff5900,#ff6400,#ff7000);opacity:0.5;-webkit-mask-image:linear-gradient(90deg,#000,rgba(0,0,0,0.3));mask-image:linear-gradient(90deg,#000,rgba(0,0,0,0.3))"></i>
<i style="top:18px;height:1px;background:linear-gradient(90deg,#46ffb1,#3effb9,#36ffc1,#2effc9,#26ffd1,#1cffdb,#0df5ea,#00e2fa,#00cfff,#0bf,#00a4ff,#008bff,#0072ff,#005aff,#003dff,#0015ff,#0000fc,#0000d0,#0000a4,#8a0000,#c30000,#f40a00,#ff2800,#ff4600,#ff6300,#ff8200,#ffb200,#ffe100,#e2ff15,#c2ff35,#aaff4d,#93ff64,#7cff7b,#65ff92,#4dffa9,#33ffc4,#18ffde,#00e5f7,#00c6ff,#00a7ff,#0087ff,#0068ff,#0049ff,#002aff,#0004ff,#0000e9,#0000bd,#000092,#970000,#c00000,#e80000,#ff1900,#ff2600,#ff3200,#ff3f00,#ff4c00,#ff5800,#ff6500,#ff7200,#ff7e00);opacity:0.5;-webkit-mask-image:linear-gradient(90deg,#000,rgba(0,0,0,0.3));mask-image:linear-gradient(90deg,#000,rgba(0,0,0,0.3))"></i>
<i style="top:19px;height:1px;background:linear-gradient(90deg,#4cffab,#44ffb3,#3dffba,#35ffc2,#2effc9,#26ffd1,#1dffda,#0bf3ec,#00defd,#00c8ff,#00b1ff,#0096ff,#007aff,#005fff,#0041ff,#0017ff,#0000fd,#0000cf,#0000a1,#900000,#c00,#fd1100,#ff3000,#ff4e00,#ff6d00,#ff9300,#ffc100,#fcef00,#dbff1c,#bdff39,#a6ff50,#8fff67,#78ff7e,#61ff95,#4affad,#2fffc8,#14fee3,#00defd,#00beff,#009eff,#007eff,#005eff,#003eff,#001aff,#00f,#0000d5,#0000a8,#840000,#ac0000,#d50000,#fe1200,#ff2100,#ff2f00,#ff3d00,#ff4a00,#ff5800,#f60,#ff7400,#ff8100,#ff8f00);opacity:0.5;-webkit-mask-image:linear-gradient(90deg,#000,rgba(0,0,0,0.3));mask-image:linear-gradient(90deg,#000,rgba(0,0,0,0.3))"></i>
<i style="top:20px;height:1px;background:linear-gradient(90deg,#51ffa6,#4affad,#43ffb4,#3cffbb,#34ffc2,#2dffc9,#26ffd1,#1dffda,#09f1ee,#00d8ff,#00c0ff,#00a3ff,#0084ff,#0065ff,#0046ff,#0019ff,#0000fd,#0000ce,#00009e,#960000,#d50000,#ff1800,#ff3800,#ff5800,#ff7800,#ffa200,#ffcf00,#f1fc05,#d4ff23,#b9ff3d,#a3ff54,#8cff6b,#75ff82,#5eff99,#46ffb1,#2affcd,#0ff8e8,#00d7ff,#00b6ff,#0095ff,#0073ff,#0052ff,#0031ff,#000aff,#00e,#0000c0,#000091,#900,#c20000,#eb0300,#ff1b00,#ff2a00,#ff3a00,#ff4900,#ff5800,#ff6700,#ff7600,#ff8500,#ff9400,#ffa300);opacity:0.5;-webkit-mask-image:linear-gradient(90deg,#000,rgba(0,0,0,0.3));mask-image:linear-gradient(90deg,#000,rgba(0,0,0,0.3))"></i>
<i style="top:21px;height:1px;background:linear-gradient(90deg,#56ffa1,#4fffa8,#48ffae,#42ffb5,#3bffbc,#34ffc3,#2dffca,#26ffd1,#1effd9,#07eef0,#00d1ff,#00b4ff,#0091ff,#006eff,#004bff,#001cff,#0000fe,#00c,#00009b,#9d0000,#de0000,#ff2000,#ff4100,#ff6200,#ff8500,#ffb100,#ffdc00,#e9ff0e,#ceff29,#b6ff41,#9fff58,#88ff6e,#72ff85,#5bff9c,#42ffb5,#26ffd1,#0af2ed,#00cfff,#00adff,#008bff,#0069ff,#0046ff,#0023ff,#00f,#0000d9,#0000a9,#850000,#ae0000,#d80000,#ff1500,#ff2500,#ff3600,#ff4600,#ff5700,#ff6800,#ff7800,#ff8900,#ff9a00,#fa0,#fb0);opacity:0.5;-webkit-mask-image:linear-gradient(90deg,#000,rgba(0,0,0,0.3));mask-image:linear-gradient(90deg,#000,rgba(0,0,0,0.3))"></i>
<i style="top:22px;height:1px;background:linear-gradient(90deg,#5bff9c,#54ffa3,#4effa9,#47ffb0,#40ffb6,#3affbd,#33ffc3,#2dffca,#26ffd0,#1fffd8,#03e9f4,#00c7ff,#00a1ff,#0078ff,#0050ff,#001eff,#00f,#0000cb,#000097,#a50000,#e80000,#ff2800,#ff4b00,#ff6d00,#ff9400,#ffbf00,#ffe900,#e2ff15,#c9ff2e,#b2ff45,#9bff5b,#85ff72,#6fff88,#58ff9f,#3effb9,#21ffd6,#04ebf3,#00c7ff,#00a4ff,#0080ff,#005dff,#0039ff,#01f,#0000f3,#0000c2,#000091,#9a0000,#c40000,#ee0500,#ff1f00,#ff3100,#f40,#ff5700,#ff6900,#ff7c00,#ff8e00,#ffa100,#ffb400,#ffc700,#ffda00);opacity:0.5;-webkit-mask-image:linear-gradient(90deg,#000,rgba(0,0,0,0.3));mask-image:linear-gradient(90deg,#000,rgba(0,0,0,0.3))"></i>
<i style="top:23px;height:1px;background:linear-gradient(90deg,#5fff98,#59ff9e,#52ffa4,#4cffab,#46ffb1,#3fffb7,#39ffbe,#33ffc4,#2dffca,#26ffd0,#20ffd7,#00e3f9,#00b8ff,#0087ff,#0057ff,#0021ff,#00f,#0000ca,#000093,#ad0000,#f30900,#ff3100,#f50,#ff7a00,#ffa300,#fc0,#f7f500,#dcff1b,#c5ff32,#aeff49,#98ff5f,#82ff75,#6bff8b,#55ffa2,#3affbd,#1cffdb,#00e3f9,#00beff,#009aff,#0075ff,#0050ff,#002bff,#00f,#00d,#0000ab,#860000,#b00000,#db0000,#ff1600,#ff2c00,#ff4100,#ff5600,#ff6b00,#ff8000,#ff9500,#fa0,#ffc000,#ffd600,#ffec00,#ecff0b);opacity:0.5;-webkit-mask-image:linear-gradient(90deg,#000,rgba(0,0,0,0.3));mask-image:linear-gradient(90deg,#000,rgba(0,0,0,0.3))"></i>
<i style="top:24px;height:1px;background:linear-gradient(90deg,#63ff94,#5dff9a,#57ffa0,#51ffa6,#4bffac,#45ffb2,#3fffb8,#39ffbe,#33ffc4,#2cffca,#26ffd0,#20ffd6,#00d8ff,#009eff,#0062ff,#0024ff,#00f,#0000c8,#00008f,#b60000,#ff1400,#ff3b00,#ff6100,#f80,#ffb000,#ffd800,#edff09,#d7ff20,#c0ff36,#aaff4c,#94ff62,#7eff78,#68ff8e,#52ffa4,#35ffc1,#16ffe0,#00dbff,#00b5ff,#008fff,#0069ff,#0043ff,#001aff,#0000f9,#0000c5,#000091,#9c0000,#c70000,#f20800,#ff2400,#ff3c00,#f50,#ff6d00,#ff8500,#ff9e00,#ffb600,#ffd000,#ffea00,#ebff0c,#d5ff22,#beff39);opacity:0.5;-webkit-mask-image:linear-gradient(90deg,#000,rgba(0,0,0,0.3));mask-image:linear-gradient(90deg,#000,rgba(0,0,0,0.3))"></i>
<i style="top:25px;height:1px;background:linear-gradient(90deg,#65ff92,#5fff98,#59ff9e,#53ffa4,#4dffaa,#47ffb0,#41ffb6,#3bffbc,#35ffc2,#2fffc7,#29ffcd,#24ffd3,#0af2ed,#00aeff,#0069ff,#0026ff,#00f,#0000c7,#00008d,#b00,#ff1800,#ff4000,#ff6800,#ff8f00,#ffb700,#ffde00,#eaff0c,#d4ff22,#bfff38,#a9ff4e,#93ff64,#7dff7a,#67ff90,#51ffa6,#33ffc4,#14fee3,#00d7ff,#00b0ff,#0089ff,#0062ff,#003cff,#0010ff,#00e,#0000b9,#000084,#a70000,#d20000,#fd1200,#ff2d00,#ff4700,#ff6100,#ff7c00,#ff9600,#ffb000,#fc0,#ffe800,#eaff0d,#d2ff25,#b9ff3d,#a1ff56);opacity:0.5;-webkit-mask-image:linear-gradient(90deg,#000,rgba(0,0,0,0.3));mask-image:linear-gradient(90deg,#000,rgba(0,0,0,0.3))"></i>
<i style="top:26px;height:1px;background:linear-gradient(90deg,#65ff92,#5fff98,#59ff9e,#53ffa4,#4dffaa,#47ffb0,#41ffb6,#3bffbc,#35ffc2,#2fffc7,#29ffcd,#24ffd3,#0af2ed,#00aeff,#0069ff,#0026ff,#00f,#0000c7,#00008d,#b00,#ff1800,#ff4000,#ff6800,#ff8f00,#ffb700,#ffde00,#eaff0c,#d4ff22,#bfff38,#a9ff4e,#93ff64,#7dff7a,#67ff90,#51ffa6,#33ffc4,#14fee3,#00d7ff,#00b0ff,#0089ff,#0062ff,#003cff,#0010ff,#00e,#0000b9,#000084,#a70000,#d20000,#fd1200,#ff2d00,#ff4700,#ff6100,#ff7c00,#ff9600,#ffb000,#fc0,#ffe800,#eaff0d,#d2ff25,#b9ff3d,#a1ff56);opacity:0.5;-webkit-mask-image:linear-gradient(90deg,#000,rgba(0,0,0,0.3));mask-image:linear-gradient(90deg,#000,rgba(0,0,0,0.3))"></i>
<i style="top:27px;height:1px;background:linear-gradient(90deg,#65ff92,#5fff98,#59ff9e,#53ffa4,#4dffaa,#47ffb0,#41ffb6,#3bffbc,#35ffc2,#2fffc7,#29ffcd,#24ffd3,#0af2ed,#00aeff,#0069ff,#0026ff,#00f,#0000c7,#00008d,#b00,#ff1800,#ff4000,#ff6800,#ff8f00,#ffb700,#ffde00,#eaff0c,#d4ff22,#bfff38,#a9ff4e,#93ff64,#7dff7a,#67ff90,#51ffa6,#33ffc4,#14fee3,#00d7ff,#00b0ff,#0089ff,#0062ff,#003cff,#0010ff,#00e,#0000b9,#000084,#a70000,#d20000,#fd1200,#ff2d00,#ff4700,#ff6100,#ff7c00,#ff9600,#ffb000,#fc0,#ffe800,#eaff0d,#d2ff25,#b9ff3d,#a1ff56);opacity:0.5;-webkit-mask-image:linear-gradient(90deg,#000,rgba(0,0,0,0.3));mask-image:linear-gradient(90deg,#000,rgba(0,0,0,0.3))"></i>
<i style="top:28px;height:1px;background:linear-gradient(90deg,#65ff92,#5fff98,#59ff9e,#53ffa4,#4dffaa,#47ffb0,#41ffb6,#3bffbc,#35ffc2,#2fffc7,#29ffcd,#24ffd3,#0af2ed,#00aeff,#0069ff,#0026ff,#00f,#0000c7,#00008d,#b00,#ff1800,#ff4000,#ff6800,#ff8f00,#ffb700,#ffde00,#eaff0c,#d4ff22,#bfff38,#a9ff4e,#93ff64,#7dff7a,#67ff90,#51ffa6,#33ffc4,#14fee3,#00d7ff,#00b0ff,#0089ff,#0062ff,#003cff,#0010ff,#00e,#0000b9,#000084,#a70000,#d20000,#fd1200,#ff2d00,#ff4700,#ff6100,#ff7c00,#ff9600,#ffb000,#fc0,#ffe800,#eaff0d,#d2ff25,#b9ff3d,#a1ff56);opacity:0.5;-webkit-mask-image:linear-gradient(90deg,#000,rgba(0,0,0,0.3));mask-image:linear-gradient(90deg,#000,rgba(0,0,0,0.3))"></i>
<i style="top:31px;height:1px;background:linear-gradient(90deg,#20ffd7,#10fae7,#00e6f6,#00d3ff,#00bfff,#00abff,#0098ff,#0084ff,#0071ff,#005dff,#004aff,#0036ff,#001dff,#00f,#0000e3,#0000bd,#000096,#8e0000,#b00000,#d20000,#f40a00,#ff2600,#ff4100,#ff5d00,#ff6400,#ff6500,#ff6700,#ff6800,#ff6a00,#ff6b00,#ff6d00,#ff6e00,#ff7000,#ff7100,#ff7300,#ff7400,#ff7600,#f70,#ff7900,#ff7a00,#ff7b00,#ff7d00,#ff7e00,#ff8000,#ff8100,#ff8300,#ff8400,#ff8600,#ff8700,#ff8900,#ff8a00,#ff8c00,#ff8d00,#ff8f00,#ff9000,#ff9200,#ff9300,#ff9500,#ff9600,#ff9700);opacity:0.25"></i>
<i style="top:32px;height:1px;background:linear-gradient(90deg,#20ffd7,#10fae7,#00e6f6,#00d3ff,#00bfff,#00abff,#0098ff,#0084ff,#0071ff,#005dff,#004aff,#0036ff,#001dff,#00f,#0000e3,#0000bd,#000096,#8e0000,#b00000,#d20000,#f40a00,#ff2600,#ff4100,#ff5d00,#ff6400,#ff6500,#ff6700,#ff6800,#ff6a00,#ff6b00,#ff6d00,#ff6e00,#ff7000,#ff7100,#ff7300,#ff7400,#ff7600,#f70,#ff7900,#ff7a00,#ff7b00,#ff7d00,#ff7e00,#ff8000,#ff8100,#ff8300,#ff8400,#ff8600,#ff8700,#ff8900,#ff8a00,#ff8c00,#ff8d00,#ff8f00,#ff9000,#ff9200,#ff9300,#ff9500,#ff9600,#ff9700);opacity:0.25"></i>
<i style="top:33px;height:1px;background:linear-gradient(90deg,#20ffd7,#10fae7,#00e6f6,#00d3ff,#00bfff,#00abff,#0098ff,#0084ff,#0071ff,#005dff,#004aff,#0036ff,#001dff,#00f,#0000e3,#0000bd,#000096,#8e0000,#b00000,#d20000,#f40a00,#ff2600,#ff4100,#ff5d00,#ff6400,#ff6500,#ff6700,#ff6800,#ff6a00,#ff6b00,#ff6d00,#ff6e00,#ff7000,#ff7100,#ff7300,#ff7400,#ff7600,#f70,#ff7900,#ff7a00,#ff7b00,#ff7d00,#ff7e00,#ff8000,#ff8100,#ff8300,#ff8400,#ff8600,#ff8700,#ff8900,#ff8a00,#ff8c00,#ff8d00,#ff8f00,#ff9000,#ff9200,#ff9300,#ff9500,#ff9600,#ff9700);opacity:0.25"></i>
<i style="top:34px;height:1px;background:linear-gradient(90deg,#20ffd7,#10fae7,#00e6f6,#00d3ff,#00bfff,#00abff,#0098ff,#0084ff,#0071ff,#005dff,#004aff,#0036ff,#001dff,#00f,#0000e3,#0000bd,#000096,#8e0000,#b00000,#d20000,#f40a00,#ff2600,#ff4100,#ff5d00,#ff6400,#ff6500,#ff6700,#ff6800,#ff6a00,#ff6b00,#ff6d00,#ff6e00,#ff7000,#ff7100,#ff7300,#ff7400,#ff7600,#f70,#ff7900,#ff7a00,#ff7b00,#ff7d00,#ff7e00,#ff8000,#ff8100,#ff8300,#ff8400,#ff8600,#ff8700,#ff8900,#ff8a00,#ff8c00,#ff8d00,#ff8f00,#ff9000,#ff9200,#ff9300,#ff9500,#ff9600,#ff9700);opacity:0.25"></i>
<i style="top:35px;height:1px;background:linear-gradient(90deg,#20ffd7,#10fae7,#00e6f6,#00d3ff,#00bfff,#00abff,#0098ff,#0084ff,#0071ff,#005dff,#004aff,#0036ff,#001dff,#00f,#0000e3,#0000bd,#000096,#8e0000,#b00000,#d20000,#f40a00,#ff2600,#ff4100,#ff5d00,#ff6400,#ff6500,#ff6700,#ff6800,#ff6a00,#ff6b00,#ff6d00,#ff6e00,#ff7000,#ff7100,#ff7300,#ff7400,#ff7600,#f70,#ff7900,#ff7a00,#ff7b00,#ff7d00,#ff7e00,#ff8000,#ff8100,#ff8300,#ff8400,#ff8600,#ff8700,#ff8900,#ff8a00,#ff8c00,#ff8d00,#ff8f00,#ff9000,#ff9200,#ff9300,#ff9500,#ff9600,#ff9700);opacity:0.25"></i>
<i style="top:36px;height:1px;background:linear-gradient(90deg,#20ffd7,#10fae7,#00e6f6,#00d3ff,#00bfff,#00abff,#0098ff,#0084ff,#0071ff,#005dff,#004aff,#0036ff,#001dff,#00f,#0000e3,#0000bd,#000096,#8e0000,#b00000,#d20000,#f40a00,#ff2600,#ff4100,#ff5d00,#ff6400,#ff6500,#ff6700,#ff6800,#ff6a00,#ff6b00,#ff6d00,#ff6e00,#ff7000,#ff7100,#ff7300,#ff7400,#ff7600,#f70,#ff7900,#ff7a00,#ff7b00,#ff7d00,#ff7e00,#ff8000,#ff8100,#ff8300,#ff8400,#ff8600,#ff8700,#ff8900,#ff8a00,#ff8c00,#ff8d00,#ff8f00,#ff9000,#ff9200,#ff9300,#ff9500,#ff9600,#ff9700);opacity:0.25"></i>
<i style="top:37px;height:1px;background:linear-gradient(90deg,#20ffd7,#10fae7,#00e6f6,#00d3ff,#00bfff,#00abff,#0098ff,#0084ff,#0071ff,#005dff,#004aff,#0036ff,#001dff,#00f,#0000e3,#0000bd,#000096,#8e0000,#b00000,#d20000,#f40a00,#ff2600,#ff4100,#ff5d00,#ff6400,#ff6500,#ff6700,#ff6800,#ff6a00,#ff6b00,#ff6d00,#ff6e00,#ff7000,#ff7100,#ff7300,#ff7400,#ff7600,#f70,#ff7900,#ff7a00,#ff7b00,#ff7d00,#ff7e00,#ff8000,#ff8100,#ff8300,#ff8400,#ff8600,#ff8700,#ff8900,#ff8a00,#ff8c00,#ff8d00,#ff8f00,#ff9000,#ff9200,#ff9300,#ff9500,#ff9600,#ff9700);opacity:0.25"></i>
<i style="top:38px;height:1px;background:linear-gradient(90deg,#20ffd7,#10fae7,#00e6f6,#00d3ff,#00bfff,#00abff,#0098ff,#0084ff,#0071ff,#005dff,#004aff,#0036ff,#001dff,#00f,#0000e3,#0000bd,#000096,#8e0000,#b00000,#d20000,#f40a00,#ff2600,#ff4100,#ff5d00,#ff6400,#ff6500,#ff6700,#ff6800,#ff6a00,#ff6b00,#ff6d00,#ff6e00,#ff7000,#ff7100,#ff7300,#ff7400,#ff7600,#f70,#ff7900,#ff7a00,#ff7b00,#ff7d00,#ff7e00,#ff8000,#ff8100,#ff8300,#ff8400,#ff8600,#ff8700,#ff8900,#ff8a00,#ff8c00,#ff8d00,#ff8f00,#ff9000,#ff9200,#ff9300,#ff9500,#ff9600,#ff9700);opacity:0.25"></i>
<i style="top:39px;height:1px;background:linear-gradient(90deg,#20ffd7,#10fae7,#00e6f6,#00d3ff,#00bfff,#00abff,#0098ff,#0084ff,#0071ff,#005dff,#004aff,#0036ff,#001dff,#00f,#0000e3,#0000bd,#000096,#8e0000,#b00000,#d20000,#f40a00,#ff2600,#ff4100,#ff5d00,#ff6400,#ff6500,#ff6700,#ff6800,#ff6a00,#ff6b00,#ff6d00,#ff6e00,#ff7000,#ff7100,#ff7300,#ff7400,#ff7600,#f70,#ff7900,#ff7a00,#ff7b00,#ff7d00,#ff7e00,#ff8000,#ff8100,#ff8300,#ff8400,#ff8600,#ff8700,#ff8900,#ff8a00,#ff8c00,#ff8d00,#ff8f00,#ff9000,#ff9200,#ff9300,#ff9500,#ff9600,#ff9700);opacity:0.25"></i>
<i style="top:40px;height:1px;background:linear-gradient(90deg,#20ffd7,#10fae7,#00e6f6,#00d3ff,#00bfff,#00abff,#0098ff,#0084ff,#0071ff,#005dff,#004aff,#0036ff,#001dff,#00f,#0000e3,#0000bd,#000096,#8e0000,#b00000,#d20000,#f40a00,#ff2600,#ff4100,#ff5d00,#ff6400,#ff6500,#ff6700,#ff6800,#ff6a00,#ff6b00,#ff6d00,#ff6e00,#ff7000,#ff7100,#ff7300,#ff7400,#ff7600,#f70,#ff7900,#ff7a00,#ff7b00,#ff7d00,#ff7e00,#ff8000,#ff8100,#ff8300,#ff8400,#ff8600,#ff8700,#ff8900,#ff8a00,#ff8c00,#ff8d00,#ff8f00,#ff9000,#ff9200,#ff9300,#ff9500,#ff9600,#ff9700);opacity:0.25"></i>
<i style="top:41px;height:1px;background:linear-gradient(90deg,#20ffd7,#10fae7,#00e6f6,#00d3ff,#00bfff,#00abff,#0098ff,#0084ff,#0071ff,#005dff,#004aff,#0036ff,#001dff,#00f,#0000e3,#0000bd,#000096,#8e0000,#b00000,#d20000,#f40a00,#ff2600,#ff4100,#ff5d00,#ff6400,#ff6500,#ff6700,#ff6800,#ff6a00,#ff6b00,#ff6d00,#ff6e00,#ff7000,#ff7100,#ff7300,#ff7400,#ff7600,#f70,#ff7900,#ff7a00,#ff7b00,#ff7d00,#ff7e00,#ff8000,#ff8100,#ff8300,#ff8400,#ff8600,#ff8700,#ff8900,#ff8a00,#ff8c00,#ff8d00,#ff8f00,#ff9000,#ff9200,#ff9300,#ff9500,#ff9600,#ff9700);opacity:0.25"></i>
<i style="top:42px;height:1px;background:linear-gradient(90deg,#20ffd7,#10fae7,#00e6f6,#00d3ff,#00bfff,#00abff,#0098ff,#0084ff,#0071ff,#005dff,#004aff,#0036ff,#001dff,#00f,#0000e3,#0000bd,#000096,#8e0000,#b00000,#d20000,#f40a00,#ff2600,#ff4100,#ff5d00,#ff6400,#ff6500,#ff6700,#ff6800,#ff6a00,#ff6b00,#ff6d00,#ff6e00,#ff7000,#ff7100,#ff7300,#ff7400,#ff7600,#f70,#ff7900,#ff7a00,#ff7b00,#ff7d00,#ff7e00,#ff8000,#ff8100,#ff8300,#ff8400,#ff8600,#ff8700,#ff8900,#ff8a00,#ff8c00,#ff8d00,#ff8f00,#ff9000,#ff9200,#ff9300,#ff9500,#ff9600,#ff9700);opacity:0.25"></i>
<i style="top:43px;height:1px;background:linear-gradient(90deg,#20ffd7,#10fae7,#00e6f6,#00d3ff,#00bfff,#00abff,#0098ff,#0084ff,#0071ff,#005dff,#004aff,#0036ff,#001dff,#00f,#0000e3,#0000bd,#000096,#8e0000,#b00000,#d20000,#f40a00,#ff2600,#ff4100,#ff5d00,#ff6400,#ff6500,#ff6700,#ff6800,#ff6a00,#ff6b00,#ff6d00,#ff6e00,#ff7000,#ff7100,#ff7300,#ff7400,#ff7600,#f70,#ff7900,#ff7a00,#ff7b00,#ff7d00,#ff7e00,#ff8000,#ff8100,#ff8300,#ff8400,#ff8600,#ff8700,#ff8900,#ff8a00,#ff8c00,#ff8d00,#ff8f00,#ff9000,#ff9200,#ff9300,#ff9500,#ff9600,#ff9700);opacity:0.25"></i>
<i style="top:44px;height:1px;background:linear-gradient(90deg,#20ffd7,#10fae7,#00e6f6,#00d3ff,#00bfff,#00abff,#0098ff,#0084ff,#0071ff,#005dff,#004aff,#0036ff,#001dff,#00f,#0000e3,#0000bd,#000096,#8e0000,#b00000,#d20000,#f40a00,#ff2600,#ff4100,#ff5d00,#ff6400,#ff6500,#ff6700,#ff6800,#ff6a00,#ff6b00,#ff6d00,#ff6e00,#ff7000,#ff7100,#ff7300,#ff7400,#ff7600,#f70,#ff7900,#ff7a00,#ff7b00,#ff7d00,#ff7e00,#ff8000,#ff8100,#ff8300,#ff8400,#ff8600,#ff8700,#ff8900,#ff8a00,#ff8c00,#ff8d00,#ff8f00,#ff9000,#ff9200,#ff9300,#ff9500,#ff9600,#ff9700);opacity:0.25"></i>
<i style="top:45px;height:1px;background:linear-gradient(90deg,#20ffd7,#10fae7,#00e6f6,#00d3ff,#00bfff,#00abff,#0098ff,#0084ff,#0071ff,#005dff,#004aff,#0036ff,#001dff,#00f,#0000e3,#0000bd,#000096,#8e0000,#b00000,#d20000,#f40a00,#ff2600,#ff4100,#ff5d00,#ff6400,#ff6500,#ff6700,#ff6800,#ff6a00,#ff6b00,#ff6d00,#ff6e00,#ff7000,#ff7100,#ff7300,#ff7400,#ff7600,#f70,#ff7900,#ff7a00,#ff7b00,#ff7d00,#ff7e00,#ff8000,#ff8100,#ff8300,#ff8400,#ff8600,#ff8700,#ff8900,#ff8a00,#ff8c00,#ff8d00,#ff8f00,#ff9000,#ff9200,#ff9300,#ff9500,#ff9600,#ff9700);opacity:0.25"></i>
</div>
<svg class="n" width="178" height="641"><use href="#wk"/><g stroke="#000" stroke-width="0.8"><path d="M0.07 0v6.5M0.07 641v-6.5"/><path d="M41.67 0v6.5M41.67 641v-6.5"/><path d="M83.27 0v6.5M83.27 641v-6.5"/><path d="M124.87 0v6.5M124.87 641v-6.5"/><path d="M166.47 0v6.5M166.47 641v-6.5"/></g></svg>
<b></b></div>
<div class="t c k" style="left:525.8px;width:60px;top:726px">320</div>
<div class="t c k" style="left:567.4px;width:60px;top:726px">335</div>
<div class="t c k" style="left:609.0px;width:60px;top:726px">350</div>
<div class="t c k" style="left:650.6px;width:60px;top:726px">365</div>
<div class="t c k" style="left:692.2px;width:60px;top:726px">380</div>
<div class="t r k" style="left:491px;width:60px;top:713.7px">0</div>
<div class="t r k" style="left:491px;width:60px;top:580.4px">5</div>
<div class="t r k" style="left:491px;width:60px;top:447.0px">10</div>
<div class="t r k" style="left:491px;width:60px;top:313.7px">15</div>
<div class="t r k" style="left:491px;width:60px;top:180.4px">20</div>
<div class="t c ti" style="left:706.5px;width:300px;top:61px">YX, V8*V13=EA07*EA15</div>
<div class="p" style="left:768px;width:178px">
<svg class="n" width="178" height="641"><rect width="178" height="641" filter="url(#nz3)"/></svg>
<div class="cw" style="filter:url(#dz3)">
<i style="top:1px;height:1px;background:linear-gradient(90deg,#ffb100,#ffc600,#ffdc00,#fbf100,#e9ff0e,#d6ff21,#b6ff41,#96ff61,#75ff81,#55ffa2,#34ffc3,#00e6f7,#00a6ff,#06f,#0028ff,#0008ff,#0000f5,#0000d1,#0000ac,#008,#a00000,#c90000,#ea0200,#ff1300,#ff2400,#ff3500,#ff4600,#ff5800,#ff6900,#ff7a00,#ff9800,#ffb900,#ffd900,#f3fa04,#d7ff20,#b9ff3e,#94ff63,#6eff88,#49ffad,#24ffd3,#0ef7e9,#00defd,#00c5ff,#00abff,#0092ff,#0078ff,#005aff,#003cff,#001eff,#00f,#0000ef,#0000cd,#0000b5,#0000a3,#000092,#000080,#910000,#a20000,#b40000,#c60000);opacity:0.5;-webkit-mask-image:linear-gradient(90deg,#000,rgba(0,0,0,0.6));mask-image:linear-gradient(90deg,#000,rgba(0,0,0,0.6))"></i>
<i style="top:2px;height:1px;background:linear-gradient(90deg,#ffb100,#ffc600,#ffdc00,#fbf100,#e9ff0e,#d6ff21,#b6ff41,#96ff61,#75ff81,#55ffa2,#34ffc3,#00e6f7,#00a6ff,#06f,#0028ff,#0008ff,#0000f5,#0000d1,#0000ac,#008,#a00000,#c90000,#ea0200,#ff1300,#ff2400,#ff3500,#ff4600,#ff5800,#ff6900,#ff7a00,#ff9800,#ffb900,#ffd900,#f3fa04,#d7ff20,#b9ff3e,#94ff63,#6eff88,#49ffad,#24ffd3,#0ef7e9,#00defd,#00c5ff,#00abff,#0092ff,#0078ff,#005aff,#003cff,#001eff,#00f,#0000ef,#0000cd,#0000b5,#0000a3,#000092,#000080,#910000,#a20000,#b40000,#c60000);opacity:0.5;-webkit-mask-image:linear-gradient(90deg,#000,rgba(0,0,0,0.6));mask-image:linear-gradient(90deg,#000,rgba(0,0,0,0.6))"></i>
<i style="top:3px;height:1px;background:linear-gradient(90deg,#ffb100,#ffc600,#ffdc00,#fbf100,#e9ff0e,#d6ff21,#b6ff41,#96ff61,#75ff81,#55ffa2,#34ffc3,#00e6f7,#00a6ff,#06f,#0028ff,#0008ff,#0000f5,#0000d1,#0000ac,#008,#a00000,#c90000,#ea0200,#ff1300,#ff2400,#ff3500,#ff4600,#ff5800,#ff6900,#ff7a00,#ff9800,#ffb900,#ffd900,#f3fa04,#d7ff20,#b9ff3e,#94ff63,#6eff88,#49ffad,#24ffd3,#0ef7e9,#00defd,#00c5ff,#00abff,#0092ff,#0078ff,#005aff,#003cff,#001eff,#00f,#0000ef,#0000cd,#0000b5,#0000a3,#000092,#000080,#910000,#a20000,#b40000,#c60000);opacity:0.5;-webkit-mask-image:linear-gradient(90deg,#000,rgba(0,0,0,0.6));mask-image:linear-gradient(90deg,#000,rgba(0,0,0,0.6))"></i>
<i style="top:4px;height:1px;background:linear-gradient(90deg,#fb0,#ffd000,#ffe600,#f1fc06,#deff19,#c3ff34,#a2ff54,#82ff75,#61ff96,#41ffb6,#13fde4,#00beff,#007fff,#003fff,#0016ff,#00f,#0000e4,#0000c1,#00009f,#820000,#ac0000,#d50000,#ef0600,#ff1600,#ff2700,#ff3700,#ff4800,#ff5900,#ff6b00,#ff7d00,#ff9d00,#ffbe00,#ffdf00,#eeff09,#d1ff26,#b1ff46,#8cff6b,#67ff90,#42ffb4,#1fffd8,#0af2ed,#00d9ff,#00bfff,#00a6ff,#008cff,#0071ff,#0053ff,#0035ff,#0017ff,#00f,#0000e6,#0000c3,#0000b0,#00009d,#00008b,#860000,#980000,#ab0000,#bd0000,#cf0000);opacity:0.5;-webkit-mask-image:linear-gradient(90deg,#000,rgba(0,0,0,0.6));mask-image:linear-gradient(90deg,#000,rgba(0,0,0,0.6))"></i>
<i style="top:5px;height:1px;background:linear-gradient(90deg,#ffcf00,#ffe700,#f0fe07,#dbff1b,#bdff3a,#9bff5b,#7aff7d,#59ff9e,#37ffc0,#06edf1,#00afff,#0071ff,#0034ff,#0013ff,#00f,#0000e6,#0000c6,#0000a8,#00008a,#9a0000,#c30000,#e50000,#f80d00,#ff1c00,#ff2b00,#ff3b00,#ff4a00,#ff5d00,#ff7000,#ff8700,#ffa900,#ffca00,#ffeb00,#e3ff14,#c6ff31,#a2ff54,#7eff79,#59ff9e,#35ffc2,#17ffe0,#02e8f5,#00ceff,#00b4ff,#009aff,#0080ff,#0062ff,#04f,#0026ff,#0007ff,#0000f6,#0000d3,#0000b7,#0000a4,#000090,#820000,#960000,#a90000,#bc0000,#d00000,#e30000);opacity:0.5;-webkit-mask-image:linear-gradient(90deg,#000,rgba(0,0,0,0.6));mask-image:linear-gradient(90deg,#000,rgba(0,0,0,0.6))"></i>
<i style="top:6px;height:1px;background:linear-gradient(90deg,#ffe700,#eeff09,#d8ff1f,#b6ff40,#94ff63,#72ff85,#50ffa7,#29ffcd,#00ddfe,#00a1ff,#0065ff,#002aff,#0010ff,#00f,#0000e8,#0000cb,#0000af,#000094,#890000,#b10000,#da0000,#ee0500,#ff1300,#f20,#ff3000,#ff3e00,#ff4d00,#ff6100,#ff7500,#ff9200,#ffb400,#ffd600,#f5f702,#d8ff1f,#b8ff3e,#94ff63,#70ff87,#4bffab,#27ffd0,#0ff8e8,#00ddfe,#00c3ff,#00a8ff,#008dff,#0071ff,#0053ff,#0035ff,#0016ff,#00f,#0000e3,#0000c0,#0000ab,#000096,#000081,#920000,#a70000,#bc0000,#d10000,#e60000,#fb0f00);opacity:0.5;-webkit-mask-image:linear-gradient(90deg,#000,rgba(0,0,0,0.6));mask-image:linear-gradient(90deg,#000,rgba(0,0,0,0.6))"></i>
<i style="top:7px;height:1px;background:linear-gradient(90deg,#ecff0b,#d3ff24,#b0ff47,#8cff6a,#69ff8e,#46ffb1,#1cffdb,#00ceff,#0093ff,#0059ff,#0026ff,#000eff,#00f,#0000ea,#0000ce,#0000b5,#00009c,#000083,#a10000,#c80000,#e60000,#f60c00,#ff1900,#ff2600,#f30,#ff4000,#ff5000,#f60,#ff7c00,#ff9d00,#ffc000,#ffe200,#eaff0d,#ccff2b,#aaff4d,#86ff71,#62ff95,#3effb9,#1cffdb,#06edf1,#00d2ff,#00b7ff,#009cff,#0081ff,#0062ff,#04f,#0025ff,#0006ff,#0000f3,#0000d0,#0000b3,#00009d,#000087,#8f0000,#a50000,#bc0000,#d20000,#e90100,#ff1300,#ff2100);opacity:0.5;-webkit-mask-image:linear-gradient(90deg,#000,rgba(0,0,0,0.6));mask-image:linear-gradient(90deg,#000,rgba(0,0,0,0.6))"></i>
<i style="top:8px;height:1px;background:linear-gradient(90deg,#cdff2a,#a9ff4e,#84ff72,#60ff97,#3cffbb,#0ff9e7,#00c0ff,#0087ff,#004eff,#02f,#000cff,#00f,#0000eb,#0000d2,#0000b9,#0000a3,#00008c,#900000,#b70000,#de0000,#ee0500,#fd1100,#ff1e00,#ff2a00,#ff3600,#ff4200,#ff5400,#ff6c00,#ff8600,#ffa900,#fc0,#fdee00,#deff18,#bfff38,#9bff5b,#78ff7f,#54ffa3,#30ffc7,#14fee3,#00e2f9,#00c6ff,#00abff,#008fff,#0072ff,#0053ff,#0035ff,#0015ff,#00f,#0000e0,#0000bd,#0000a5,#00008d,#8b0000,#a30000,#b00,#d30000,#ec0300,#ff1600,#ff2500,#f30);opacity:0.5;-webkit-mask-image:linear-gradient(90deg,#000,rgba(0,0,0,0.6));mask-image:linear-gradient(90deg,#000,rgba(0,0,0,0.6))"></i>
<i style="top:9px;height:1px;background:linear-gradient(90deg,#a1ff56,#7cff7b,#57ffa0,#30ffc6,#03eaf3,#00b2ff,#007bff,#0043ff,#001fff,#000aff,#00f,#0000ec,#0000d4,#0000bd,#0000a8,#000094,#800000,#a60000,#cd0000,#e70000,#f50b00,#ff1600,#f20,#ff2d00,#ff3900,#f40,#ff5900,#ff7300,#ff9200,#ffb500,#ffd800,#f2fb05,#d2ff25,#b1ff46,#8dff69,#6aff8d,#47ffb0,#23ffd4,#0bf3ec,#00d7ff,#00baff,#009eff,#0081ff,#0063ff,#04f,#0025ff,#0005ff,#0000f1,#00c,#0000ae,#000094,#860000,#a00000,#b00,#d50000,#f00600,#ff1900,#ff2800,#ff3600,#f40);opacity:0.5;-webkit-mask-image:linear-gradient(90deg,#000,rgba(0,0,0,0.6));mask-image:linear-gradient(90deg,#000,rgba(0,0,0,0.6))"></i>
<i style="top:10px;height:1px;background:linear-gradient(90deg,#73ff84,#4cffaa,#24ffd3,#00dcff,#00a5ff,#006fff,#0039ff,#001cff,#0008ff,#00f,#0000ed,#0000d7,#0000c1,#0000ad,#00009a,#000087,#960000,#bc0000,#e10000,#ee0500,#fb1000,#ff1b00,#ff2600,#ff3000,#ff3b00,#ff4600,#ff5f00,#ff7b00,#ff9e00,#ffc100,#ffe500,#e6ff11,#c5ff31,#a3ff54,#80ff77,#5cff9a,#39ffbe,#19ffdd,#02e8f5,#00cbff,#00adff,#0090ff,#0072ff,#0054ff,#0035ff,#0015ff,#00f,#00d,#0000ba,#00009d,#800000,#9d0000,#ba0000,#d70000,#f40a00,#ff1c00,#ff2b00,#ff3900,#ff4800,#ff5600);opacity:0.5;-webkit-mask-image:linear-gradient(90deg,#000,rgba(0,0,0,0.6));mask-image:linear-gradient(90deg,#000,rgba(0,0,0,0.6))"></i>
<i style="top:11px;height:1px;background:linear-gradient(90deg,#42ffb5,#18ffdf,#00ceff,#09f,#0064ff,#002fff,#0019ff,#0007ff,#00f,#00e,#0000d9,#0000c4,#0000b2,#0000a0,#00008e,#870000,#ac0000,#d10000,#e80000,#f40a00,#ff1400,#ff1f00,#ff2900,#f30,#ff3d00,#ff4800,#ff6500,#ff8500,#fa0,#ffce00,#faf200,#d9ff1d,#b8ff3f,#95ff62,#72ff85,#4fffa8,#2cffcb,#10fae6,#00dcff,#00beff,#00a0ff,#0082ff,#0063ff,#04f,#0025ff,#0004ff,#0000ef,#0000c9,#0000a7,#000087,#900,#b90000,#d90000,#fa0f00,#ff1f00,#ff2e00,#ff3c00,#ff4b00,#ff5900,#ff6700);opacity:0.5;-webkit-mask-image:linear-gradient(90deg,#000,rgba(0,0,0,0.6));mask-image:linear-gradient(90deg,#000,rgba(0,0,0,0.6))"></i>
<i style="top:12px;height:1px;background:linear-gradient(90deg,#0cf5ea,#00c1ff,#008dff,#0059ff,#0029ff,#0017ff,#0006ff,#00f,#0000ef,#0000db,#0000c7,#0000b5,#0000a5,#000094,#000083,#9c0000,#c10000,#e20000,#ee0500,#fa0f00,#ff1800,#f20,#ff2c00,#ff3600,#ff3f00,#ff4b00,#ff6e00,#ff9100,#ffb600,#ffdb00,#eeff09,#ccff2b,#aaff4d,#87ff70,#65ff92,#42ffb5,#20ffd7,#07eef0,#00cfff,#00b1ff,#0092ff,#0073ff,#0054ff,#0035ff,#0014ff,#00f,#0000da,#0000b4,#000090,#940000,#b80000,#dc0000,#ff1400,#ff2300,#ff3100,#ff3f00,#ff4e00,#ff5c00,#ff6b00,#ff7900);opacity:0.5;-webkit-mask-image:linear-gradient(90deg,#000,rgba(0,0,0,0.6));mask-image:linear-gradient(90deg,#000,rgba(0,0,0,0.6))"></i>
<i style="top:13px;height:1px;background:linear-gradient(90deg,#007aff,#0056ff,#03f,#001eff,#000fff,#00f,#0000fe,#0000ec,#0000db,#0000c9,#0000b9,#0000a9,#00009a,#00008b,#870000,#a50000,#c50000,#e30000,#ef0600,#fc1000,#ff1a00,#ff2400,#ff2e00,#ff3800,#ff4200,#ff5600,#ff7c00,#ffa100,#ffc600,#ffec00,#deff19,#bbff3b,#99ff5e,#76ff81,#54ffa3,#31ffc6,#13fde4,#00defd,#00bfff,#00a0ff,#0080ff,#0061ff,#0042ff,#02f,#00f,#0000e7,#0000bf,#000097,#8f0000,#b60000,#d00,#ff1500,#ff2400,#f30,#ff4200,#ff5000,#ff5f00,#ff6e00,#ff7c00,#ff8b00);opacity:0.5;-webkit-mask-image:linear-gradient(90deg,#000,rgba(0,0,0,0.6));mask-image:linear-gradient(90deg,#000,rgba(0,0,0,0.6))"></i>
<i style="top:14px;height:1px;background:linear-gradient(90deg,#002cff,#001eff,#01f,#0004ff,#00f,#0000f7,#0000e8,#0000d9,#0000ca,#00b,#0000ae,#0000a1,#000093,#000085,#8d0000,#a40000,#b00,#dc0000,#ec0400,#fa0f00,#ff1a00,#ff2500,#ff3000,#ff3c00,#ff4700,#ff6900,#ff8f00,#ffb500,#ffdb00,#edff0a,#caff2d,#a7ff50,#84ff73,#61ff95,#3effb8,#1dffda,#03eaf3,#00caff,#00abff,#008bff,#006bff,#004cff,#002cff,#000aff,#0000f1,#0000c6,#00009b,#8d0000,#b40000,#db0000,#ff1500,#ff2400,#ff3400,#ff4300,#ff5200,#ff6200,#ff7100,#ff8100,#ff9000,#ffa000);opacity:0.5;-webkit-mask-image:linear-gradient(90deg,#000,rgba(0,0,0,0.6));mask-image:linear-gradient(90deg,#000,rgba(0,0,0,0.6))"></i>
<i style="top:15px;height:1px;background:linear-gradient(90deg,#0012ff,#0007ff,#00f,#0000fe,#0000f1,#0000e4,#0000d7,#0000ca,#0000be,#0000b2,#0000a6,#00009a,#00008d,#000081,#900000,#a30000,#b50000,#cf0000,#e80100,#f80d00,#ff1a00,#ff2700,#f30,#ff4000,#f50,#ff7c00,#ffa300,#ffc900,#fcf000,#d9ff1e,#b6ff41,#93ff64,#6fff87,#4cffab,#29ffce,#0df6ea,#00d6ff,#00b6ff,#0096ff,#0076ff,#0056ff,#0036ff,#0015ff,#0000fc,#0000ce,#0000a0,#8b0000,#b20000,#d90000,#ff1400,#ff2400,#ff3400,#ff4500,#f50,#ff6500,#ff7500,#ff8500,#ff9600,#ffa600,#ffb600);opacity:0.5;-webkit-mask-image:linear-gradient(90deg,#000,rgba(0,0,0,0.6));mask-image:linear-gradient(90deg,#000,rgba(0,0,0,0.6))"></i>
<i style="top:16px;height:1px;background:linear-gradient(90deg,#00f,#00f,#0000f9,#0000ed,#0000e2,#0000d6,#0000cb,#0000bf,#0000b5,#00a,#00009f,#000094,#008,#830000,#920000,#a20000,#b10000,#c10000,#e30000,#f50b00,#ff1a00,#ff2800,#ff3700,#ff4500,#ff6800,#ff9000,#ffb700,#ffdf00,#e8ff0f,#c5ff32,#a1ff56,#7eff79,#5aff9d,#37ffc0,#17ffe0,#00e1fa,#00c1ff,#00a1ff,#0081ff,#0061ff,#0040ff,#0020ff,#00f,#0000d7,#0000a5,#890000,#b00000,#d70000,#fe1200,#ff2400,#ff3500,#ff4600,#ff5700,#ff6800,#ff7a00,#ff8b00,#ff9c00,#ffad00,#ffbe00,#ffcf00);opacity:0.5;-webkit-mask-image:linear-gradient(90deg,#000,rgba(0,0,0,0.6));mask-image:linear-gradient(90deg,#000,rgba(0,0,0,0.6))"></i>
<i style="top:17px;height:1px;background:linear-gradient(90deg,#0000fe,#0000f4,#0000ea,#0000e0,#0000d5,#0000cb,#0000c1,#0000b7,#0000ad,#0000a3,#009,#00008f,#000084,#870000,#940000,#a10000,#ae0000,#bc0000,#da0000,#f20800,#ff1900,#ff2b00,#ff3c00,#ff5300,#ff7c00,#ffa400,#ffcd00,#f7f500,#d4ff23,#b0ff47,#8cff6b,#68ff8e,#45ffb2,#21ffd6,#06eef0,#00cdff,#00acff,#008cff,#006bff,#004bff,#002aff,#0006ff,#0000e1,#0000ab,#870000,#ae0000,#d50000,#fc1000,#ff2400,#ff3600,#ff4800,#ff5a00,#ff6c00,#ff7e00,#ff9000,#ffa300,#ffb500,#ffc700,#ffd900,#ffea00);opacity:0.5;-webkit-mask-image:linear-gradient(90deg,#000,rgba(0,0,0,0.6));mask-image:linear-gradient(90deg,#000,rgba(0,0,0,0.6))"></i>
<i style="top:18px;height:1px;background:linear-gradient(90deg,#0000f1,#0000e7,#0000de,#0000d5,#00c,#0000c2,#0000b9,#0000b0,#0000a7,#00009e,#000094,#00008a,#000080,#8a0000,#950000,#a10000,#ac0000,#b80000,#c00,#ec0400,#ff1900,#ff2e00,#ff4300,#ff6700,#ff9000,#ffba00,#ffe300,#e3ff14,#bfff38,#9bff5c,#77ff80,#53ffa4,#2fffc8,#10fae6,#00d9ff,#00b8ff,#0097ff,#0076ff,#05f,#0034ff,#0013ff,#00e,#0000b2,#850000,#ac0000,#d30000,#fa0f00,#ff2400,#ff3700,#ff4a00,#ff5d00,#ff7100,#ff8400,#ff9700,#fa0,#ffbd00,#ffd100,#ffe400,#faf200,#eeff08);opacity:0.5;-webkit-mask-image:linear-gradient(90deg,#000,rgba(0,0,0,0.6));mask-image:linear-gradient(90deg,#000,rgba(0,0,0,0.6))"></i>
<i style="top:19px;height:1px;background:linear-gradient(90deg,#0000e5,#00d,#0000d4,#00c,#0000c3,#00b,#0000b2,#00a,#0000a2,#009,#000090,#000086,#820000,#8c0000,#960000,#a10000,#ab0000,#b50000,#bf0000,#e40000,#ff1800,#f30,#ff5200,#ff7c00,#ffa600,#ffd000,#f3fa04,#ceff28,#aaff4d,#86ff71,#61ff95,#3dffba,#1bffdc,#00e5f7,#00c4ff,#00a3ff,#0081ff,#0060ff,#003fff,#001dff,#0000fd,#00b,#830000,#a00,#d10000,#f80d00,#ff2400,#ff3800,#ff4d00,#ff6100,#ff7600,#ff8a00,#ff9e00,#ffb300,#ffc700,#ffdc00,#ffed00,#f3fa04,#e8ff0f,#dcff1b);opacity:0.5;-webkit-mask-image:linear-gradient(90deg,#000,rgba(0,0,0,0.6));mask-image:linear-gradient(90deg,#000,rgba(0,0,0,0.6))"></i>
<i style="top:20px;height:1px;background:linear-gradient(90deg,#0000e8,#0000df,#0000d7,#0000ce,#0000c6,#0000bd,#0000b4,#0000ac,#0000a3,#00009a,#000091,#000087,#810000,#8b0000,#960000,#a00000,#a00,#b40000,#bf0000,#e20000,#ff1b00,#ff3b00,#ff6200,#ff8d00,#ffb800,#ffe300,#e2ff15,#beff39,#9aff5d,#76ff80,#53ffa4,#2fffc8,#10fae7,#00d8ff,#00b6ff,#0094ff,#0072ff,#0051ff,#002fff,#000cff,#0000db,#000098,#980000,#bf0000,#e60000,#ff1b00,#ff2f00,#f40,#ff5900,#ff6e00,#ff8100,#ff9000,#ff9e00,#ffad00,#fb0,#ffca00,#ffd900,#ffe700,#faf100,#f1fc06);opacity:0.5;-webkit-mask-image:linear-gradient(90deg,#000,rgba(0,0,0,0.6));mask-image:linear-gradient(90deg,#000,rgba(0,0,0,0.6))"></i>
<i style="top:21px;height:1px;background:linear-gradient(90deg,#0000fb,#0000f1,#0000e7,#00d,#0000d4,#0000ca,#0000c0,#0000b6,#0000ac,#0000a3,#000098,#00008d,#000083,#870000,#930000,#9f0000,#a00,#b60000,#c40000,#eb0200,#f20,#ff4300,#ff6e00,#ff9a00,#ffc700,#f9f300,#d5ff22,#b3ff44,#90ff66,#6eff89,#4cffab,#29ffcd,#0cf4eb,#00d2ff,#00afff,#008dff,#006bff,#0048ff,#0026ff,#00f,#0000cd,#00008d,#9e0000,#c50000,#ec0300,#ff1d00,#ff3200,#ff4600,#ff5a00,#ff6e00,#ff7f00,#f80,#ff9200,#ff9b00,#ffa400,#ffad00,#ffb600,#ffbf00,#ffc800,#ffd100);opacity:0.5;-webkit-mask-image:linear-gradient(90deg,#000,rgba(0,0,0,0.6));mask-image:linear-gradient(90deg,#000,rgba(0,0,0,0.6))"></i>
<i style="top:22px;height:1px;background:linear-gradient(90deg,#0003ff,#00f,#0000fd,#0000f2,#0000e6,#0000db,#0000d0,#0000c4,#0000b9,#0000ad,#0000a2,#000096,#000089,#820000,#900000,#9d0000,#a00,#b70000,#cd0000,#f30900,#ff2800,#ff4d00,#ff7b00,#ffa900,#ffd700,#ebff0c,#caff2d,#a9ff4e,#87ff6f,#66ff90,#45ffb1,#24ffd2,#07efef,#0cf,#00a9ff,#0086ff,#0062ff,#003fff,#001cff,#0000fd,#0000c0,#000084,#a30000,#ca0000,#f10800,#ff2000,#ff3400,#ff4700,#ff5b00,#ff6f00,#ff7f00,#ff8500,#ff8c00,#ff9200,#f90,#ffa000,#ffa600,#ffad00,#ffb300,#ffba00);opacity:0.5;-webkit-mask-image:linear-gradient(90deg,#000,rgba(0,0,0,0.6));mask-image:linear-gradient(90deg,#000,rgba(0,0,0,0.6))"></i>
<i style="top:23px;height:1px;background:linear-gradient(90deg,#02f,#0016ff,#000aff,#00f,#00f,#0000f3,#0000e5,#0000d8,#0000ca,#0000bc,#0000ae,#0000a1,#000092,#000083,#8b0000,#9a0000,#a00,#b90000,#d50000,#fc1000,#ff2f00,#ff5a00,#ff8900,#ffb800,#ffe700,#dfff18,#bfff38,#9fff58,#7fff78,#5fff97,#40ffb7,#20ffd7,#03e9f4,#00c5ff,#00a2ff,#007eff,#005aff,#0036ff,#0012ff,#00e,#0000b5,#820000,#a90000,#d00000,#f70c00,#f20,#ff3600,#ff4900,#ff5c00,#ff6f00,#ff7e00,#ff8300,#ff8900,#ff8e00,#ff9300,#ff9800,#ff9d00,#ffa200,#ffa800,#ffad00);opacity:0.5;-webkit-mask-image:linear-gradient(90deg,#000,rgba(0,0,0,0.6));mask-image:linear-gradient(90deg,#000,rgba(0,0,0,0.6))"></i>
<i style="top:24px;height:1px;background:linear-gradient(90deg,#0059ff,#0047ff,#0035ff,#0024ff,#0015ff,#0006ff,#00f,#0000f5,#0000e4,#0000d2,#0000c1,#0000b0,#00009f,#00008d,#840000,#970000,#a00,#bc0000,#de0000,#ff1700,#ff3900,#ff6700,#ff9800,#ffc800,#f4f903,#d4ff23,#b5ff42,#96ff61,#77ff7f,#59ff9e,#3affbd,#1cffdb,#00e3f9,#00bfff,#009aff,#0076ff,#0051ff,#002dff,#0006ff,#0000e1,#0000ab,#800,#ae0000,#d50000,#fc1100,#ff2500,#ff3700,#ff4a00,#ff5d00,#ff6f00,#ff7e00,#ff8200,#ff8700,#ff8b00,#ff8f00,#ff9300,#ff9700,#ff9c00,#ffa000,#ffa400);opacity:0.5;-webkit-mask-image:linear-gradient(90deg,#000,rgba(0,0,0,0.6));mask-image:linear-gradient(90deg,#000,rgba(0,0,0,0.6))"></i>
<i style="top:25px;height:1px;background:linear-gradient(90deg,#00c9ff,#00adff,#0092ff,#07f,#005bff,#0040ff,#0026ff,#0012ff,#00f,#0000f7,#0000e1,#0000ca,#0000b3,#00009c,#000084,#920000,#a90000,#c10000,#e60000,#ff1d00,#ff4300,#ff7500,#ffa700,#ffd900,#e7ff10,#c9ff2e,#acff4b,#8eff69,#70ff87,#53ffa4,#35ffc2,#17ffe0,#00ddfe,#00b8ff,#0092ff,#006dff,#0048ff,#0023ff,#00f,#0000d5,#0000a1,#8d0000,#b40000,#db0000,#ff1500,#ff2700,#ff3900,#ff4b00,#ff5e00,#ff7000,#ff7e00,#ff8100,#ff8500,#ff8900,#ff8c00,#ff9000,#ff9300,#ff9700,#ff9b00,#ff9e00);opacity:0.5;-webkit-mask-image:linear-gradient(90deg,#000,rgba(0,0,0,0.6));mask-image:linear-gradient(90deg,#000,rgba(0,0,0,0.6))"></i>
<i style="top:26px;height:1px;background:linear-gradient(90deg,#77ff80,#6dff8a,#62ff94,#58ff9f,#4effa9,#20ffd7,#00d4ff,#009cff,#0063ff,#002aff,#000dff,#0000fd,#0000db,#0000b9,#000097,#890000,#a90000,#c90000,#ef0600,#ff2400,#ff5000,#ff8400,#ffb800,#ffec00,#dcff1b,#c0ff37,#a3ff54,#86ff71,#6aff8d,#4dffaa,#30ffc7,#13fde4,#00d7ff,#00b1ff,#008aff,#0064ff,#003eff,#0018ff,#0000fc,#0000ca,#009,#930000,#b90000,#e00000,#ff1700,#ff2900,#ff3b00,#ff4c00,#ff5e00,#ff7000,#ff7e00,#ff8100,#ff8400,#ff8700,#ff8a00,#ff8d00,#ff9000,#ff9400,#ff9700,#ff9a00);opacity:0.5;-webkit-mask-image:linear-gradient(90deg,#000,rgba(0,0,0,0.6));mask-image:linear-gradient(90deg,#000,rgba(0,0,0,0.6))"></i>
<i style="top:27px;height:1px;background:linear-gradient(90deg,#a9ff4e,#9eff59,#93ff64,#88ff6f,#7dff7a,#72ff85,#67ff90,#5cff9b,#51ffa6,#07efef,#0075ff,#001bff,#00f,#0000d5,#0000a9,#830000,#a80000,#cd0000,#f30900,#ff2700,#ff5700,#ff8c00,#ffc100,#f7f500,#d7ff20,#bbff3c,#9fff58,#83ff74,#66ff90,#4affad,#2effc9,#10fae6,#00d3ff,#00adff,#0086ff,#0060ff,#0039ff,#0013ff,#0000f6,#0000c5,#000095,#950000,#bc0000,#e30000,#ff1800,#ff2a00,#ff3b00,#ff4d00,#ff5f00,#ff7000,#ff7e00,#ff8100,#ff8400,#ff8600,#ff8900,#ff8c00,#ff8f00,#ff9200,#ff9500,#ff9800);opacity:0.5;-webkit-mask-image:linear-gradient(90deg,#000,rgba(0,0,0,0.6));mask-image:linear-gradient(90deg,#000,rgba(0,0,0,0.6))"></i>
<i style="top:28px;height:1px;background:linear-gradient(90deg,#a9ff4e,#9eff59,#93ff64,#88ff6f,#7dff7a,#72ff85,#67ff90,#5cff9b,#51ffa6,#07efef,#0075ff,#001bff,#00f,#0000d5,#0000a9,#830000,#a80000,#cd0000,#f30900,#ff2700,#ff5700,#ff8c00,#ffc100,#f7f500,#d7ff20,#bbff3c,#9fff58,#83ff74,#66ff90,#4affad,#2effc9,#10fae6,#00d3ff,#00adff,#0086ff,#0060ff,#0039ff,#0013ff,#0000f6,#0000c5,#000095,#950000,#bc0000,#e30000,#ff1800,#ff2a00,#ff3b00,#ff4d00,#ff5f00,#ff7000,#ff7e00,#ff8100,#ff8400,#ff8600,#ff8900,#ff8c00,#ff8f00,#ff9200,#ff9500,#ff9800);opacity:0.5;-webkit-mask-image:linear-gradient(90deg,#000,rgba(0,0,0,0.6));mask-image:linear-gradient(90deg,#000,rgba(0,0,0,0.6))"></i>
<i style="top:31px;height:1px;background:linear-gradient(90deg,#20ffd7,#10fae7,#00e6f6,#00d3ff,#00bfff,#00abff,#0098ff,#0084ff,#0071ff,#005dff,#004aff,#0036ff,#0000fb,#b30000,#ff6300,#ffe600,#ffe500,#ffe500,#ffe400,#ffe300,#ffe300,#ffe200,#ffe200,#ffe100,#ffe000,#ffe000,#ffdf00,#ffdf00,#ffde00,#fd0,#fd0,#ffdc00,#ffdc00,#ffdb00,#ffda00,#ffda00,#ffd900,#ffd900,#ffd800,#ffd700,#ffd700,#ffd600,#ffd600,#ffd500,#ffd400,#ffd400,#ffd300,#ffd300,#ffd200,#ffd100,#ffd100,#ffd000,#ffd000,#ffcf00,#ffce00,#ffce00,#ffcd00,#ffcd00,#fc0,#fc0);opacity:0.3"></i>
<i style="top:32px;height:1px;background:linear-gradient(90deg,#20ffd7,#10fae7,#00e6f6,#00d3ff,#00bfff,#00abff,#0098ff,#0084ff,#0071ff,#005dff,#004aff,#0036ff,#0000fb,#b30000,#ff6300,#ffe600,#ffe500,#ffe500,#ffe400,#ffe300,#ffe300,#ffe200,#ffe200,#ffe100,#ffe000,#ffe000,#ffdf00,#ffdf00,#ffde00,#fd0,#fd0,#ffdc00,#ffdc00,#ffdb00,#ffda00,#ffda00,#ffd900,#ffd900,#ffd800,#ffd700,#ffd700,#ffd600,#ffd600,#ffd500,#ffd400,#ffd400,#ffd300,#ffd300,#ffd200,#ffd100,#ffd100,#ffd000,#ffd000,#ffcf00,#ffce00,#ffce00,#ffcd00,#ffcd00,#fc0,#fc0);opacity:0.3"></i>
<i style="top:33px;height:1px;background:linear-gradient(90deg,#20ffd7,#10fae7,#00e6f6,#00d3ff,#00bfff,#00abff,#0098ff,#0084ff,#0071ff,#005dff,#004aff,#0036ff,#0000fb,#b30000,#ff6300,#ffe600,#ffe500,#ffe500,#ffe400,#ffe300,#ffe300,#ffe200,#ffe200,#ffe100,#ffe000,#ffe000,#ffdf00,#ffdf00,#ffde00,#fd0,#fd0,#ffdc00,#ffdc00,#ffdb00,#ffda00,#ffda00,#ffd900,#ffd900,#ffd800,#ffd700,#ffd700,#ffd600,#ffd600,#ffd500,#ffd400,#ffd400,#ffd300,#ffd300,#ffd200,#ffd100,#ffd100,#ffd000,#ffd000,#ffcf00,#ffce00,#ffce00,#ffcd00,#ffcd00,#fc0,#fc0);opacity:0.3"></i>
<i style="top:34px;height:1px;background:linear-gradient(90deg,#20ffd7,#10fae7,#00e6f6,#00d3ff,#00bfff,#00abff,#0098ff,#0084ff,#0071ff,#005dff,#004aff,#0036ff,#0000fb,#b30000,#ff6300,#ffe600,#ffe500,#ffe500,#ffe400,#ffe300,#ffe300,#ffe200,#ffe200,#ffe100,#ffe000,#ffe000,#ffdf00,#ffdf00,#ffde00,#fd0,#fd0,#ffdc00,#ffdc00,#ffdb00,#ffda00,#ffda00,#ffd900,#ffd900,#ffd800,#ffd700,#ffd700,#ffd600,#ffd600,#ffd500,#ffd400,#ffd400,#ffd300,#ffd300,#ffd200,#ffd100,#ffd100,#ffd000,#ffd000,#ffcf00,#ffce00,#ffce00,#ffcd00,#ffcd00,#fc0,#fc0);opacity:0.3"></i>
<i style="top:35px;height:1px;background:linear-gradient(90deg,#20ffd7,#10fae7,#00e6f6,#00d3ff,#00bfff,#00abff,#0098ff,#0084ff,#0071ff,#005dff,#004aff,#0036ff,#0000fb,#b30000,#ff6300,#ffe600,#ffe500,#ffe500,#ffe400,#ffe300,#ffe300,#ffe200,#ffe200,#ffe100,#ffe000,#ffe000,#ffdf00,#ffdf00,#ffde00,#fd0,#fd0,#ffdc00,#ffdc00,#ffdb00,#ffda00,#ffda00,#ffd900,#ffd900,#ffd800,#ffd700,#ffd700,#ffd600,#ffd600,#ffd500,#ffd400,#ffd400,#ffd300,#ffd300,#ffd200,#ffd100,#ffd100,#ffd000,#ffd000,#ffcf00,#ffce00,#ffce00,#ffcd00,#ffcd00,#fc0,#fc0);opacity:0.3"></i>
<i style="top:36px;height:1px;background:linear-gradient(90deg,#20ffd7,#10fae7,#00e6f6,#00d3ff,#00bfff,#00abff,#0098ff,#0084ff,#0071ff,#005dff,#004aff,#0036ff,#0000fb,#b30000,#ff6300,#ffe600,#ffe500,#ffe500,#ffe400,#ffe300,#ffe300,#ffe200,#ffe200,#ffe100,#ffe000,#ffe000,#ffdf00,#ffdf00,#ffde00,#fd0,#fd0,#ffdc00,#ffdc00,#ffdb00,#ffda00,#ffda00,#ffd900,#ffd900,#ffd800,#ffd700,#ffd700,#ffd600,#ffd600,#ffd500,#ffd400,#ffd400,#ffd300,#ffd300,#ffd200,#ffd100,#ffd100,#ffd000,#ffd000,#ffcf00,#ffce00,#ffce00,#ffcd00,#ffcd00,#fc0,#fc0);opacity:0.3"></i>
<i style="top:37px;height:1px;background:linear-gradient(90deg,#20ffd7,#10fae7,#00e6f6,#00d3ff,#00bfff,#00abff,#0098ff,#0084ff,#0071ff,#005dff,#004aff,#0036ff,#0000fb,#b30000,#ff6300,#ffe600,#ffe500,#ffe500,#ffe400,#ffe300,#ffe300,#ffe200,#ffe200,#ffe100,#ffe000,#ffe000,#ffdf00,#ffdf00,#ffde00,#fd0,#fd0,#ffdc00,#ffdc00,#ffdb00,#ffda00,#ffda00,#ffd900,#ffd900,#ffd800,#ffd700,#ffd700,#ffd600,#ffd600,#ffd500,#ffd400,#ffd400,#ffd300,#ffd300,#ffd200,#ffd100,#ffd100,#ffd000,#ffd000,#ffcf00,#ffce00,#ffce00,#ffcd00,#ffcd00,#fc0,#fc0);opacity:0.3"></i>
<i style="top:38px;height:1px;background:linear-gradient(90deg,#20ffd7,#10fae7,#00e6f6,#00d3ff,#00bfff,#00abff,#0098ff,#0084ff,#0071ff,#005dff,#004aff,#0036ff,#0000fb,#b30000,#ff6300,#ffe600,#ffe500,#ffe500,#ffe400,#ffe300,#ffe300,#ffe200,#ffe200,#ffe100,#ffe000,#ffe000,#ffdf00,#ffdf00,#ffde00,#fd0,#fd0,#ffdc00,#ffdc00,#ffdb00,#ffda00,#ffda00,#ffd900,#ffd900,#ffd800,#ffd700,#ffd700,#ffd600,#ffd600,#ffd500,#ffd400,#ffd400,#ffd300,#ffd300,#ffd200,#ffd100,#ffd100,#ffd000,#ffd000,#ffcf00,#ffce00,#ffce00,#ffcd00,#ffcd00,#fc0,#fc0);opacity:0.3"></i>
<i style="top:39px;height:1px;background:linear-gradient(90deg,#20ffd7,#10fae7,#00e6f6,#00d3ff,#00bfff,#00abff,#0098ff,#0084ff,#0071ff,#005dff,#004aff,#0036ff,#0000fb,#b30000,#ff6300,#ffe600,#ffe500,#ffe500,#ffe400,#ffe300,#ffe300,#ffe200,#ffe200,#ffe100,#ffe000,#ffe000,#ffdf00,#ffdf00,#ffde00,#fd0,#fd0,#ffdc00,#ffdc00,#ffdb00,#ffda00,#ffda00,#ffd900,#ffd900,#ffd800,#ffd700,#ffd700,#ffd600,#ffd600,#ffd500,#ffd400,#ffd400,#ffd300,#ffd300,#ffd200,#ffd100,#ffd100,#ffd000,#ffd000,#ffcf00,#ffce00,#ffce00,#ffcd00,#ffcd00,#fc0,#fc0);opacity:0.3"></i>
<i style="top:40px;height:1px;background:linear-gradient(90deg,#20ffd7,#10fae7,#00e6f6,#00d3ff,#00bfff,#00abff,#0098ff,#0084ff,#0071ff,#005dff,#004aff,#0036ff,#0000fb,#b30000,#ff6300,#ffe600,#ffe500,#ffe500,#ffe400,#ffe300,#ffe300,#ffe200,#ffe200,#ffe100,#ffe000,#ffe000,#ffdf00,#ffdf00,#ffde00,#fd0,#fd0,#ffdc00,#ffdc00,#ffdb00,#ffda00,#ffda00,#ffd900,#ffd900,#ffd800,#ffd700,#ffd700,#ffd600,#ffd600,#ffd500,#ffd400,#ffd400,#ffd300,#ffd300,#ffd200,#ffd100,#ffd100,#ffd000,#ffd000,#ffcf00,#ffce00,#ffce00,#ffcd00,#ffcd00,#fc0,#fc0);opacity:0.3"></i>
<i style="top:41px;height:1px;background:linear-gradient(90deg,#20ffd7,#10fae7,#00e6f6,#00d3ff,#00bfff,#00abff,#0098ff,#0084ff,#0071ff,#005dff,#004aff,#0036ff,#0000fb,#b30000,#ff6300,#ffe600,#ffe500,#ffe500,#ffe400,#ffe300,#ffe300,#ffe200,#ffe200,#ffe100,#ffe000,#ffe000,#ffdf00,#ffdf00,#ffde00,#fd0,#fd0,#ffdc00,#ffdc00,#ffdb00,#ffda00,#ffda00,#ffd900,#ffd900,#ffd800,#ffd700,#ffd700,#ffd600,#ffd600,#ffd500,#ffd400,#ffd400,#ffd300,#ffd300,#ffd200,#ffd100,#ffd100,#ffd000,#ffd000,#ffcf00,#ffce00,#ffce00,#ffcd00,#ffcd00,#fc0,#fc0);opacity:0.3"></i>
<i style="top:42px;height:1px;background:linear-gradient(90deg,#20ffd7,#10fae7,#00e6f6,#00d3ff,#00bfff,#00abff,#0098ff,#0084ff,#0071ff,#005dff,#004aff,#0036ff,#0000fb,#b30000,#ff6300,#ffe600,#ffe500,#ffe500,#ffe400,#ffe300,#ffe300,#ffe200,#ffe200,#ffe100,#ffe000,#ffe000,#ffdf00,#ffdf00,#ffde00,#fd0,#fd0,#ffdc00,#ffdc00,#ffdb00,#ffda00,#ffda00,#ffd900,#ffd900,#ffd800,#ffd700,#ffd700,#ffd600,#ffd600,#ffd500,#ffd400,#ffd400,#ffd300,#ffd300,#ffd200,#ffd100,#ffd100,#ffd000,#ffd000,#ffcf00,#ffce00,#ffce00,#ffcd00,#ffcd00,#fc0,#fc0);opacity:0.3"></i>
<i style="top:43px;height:1px;background:linear-gradient(90deg,#20ffd7,#10fae7,#00e6f6,#00d3ff,#00bfff,#00abff,#0098ff,#0084ff,#0071ff,#005dff,#004aff,#0036ff,#0000fb,#b30000,#ff6300,#ffe600,#ffe500,#ffe500,#ffe400,#ffe300,#ffe300,#ffe200,#ffe200,#ffe100,#ffe000,#ffe000,#ffdf00,#ffdf00,#ffde00,#fd0,#fd0,#ffdc00,#ffdc00,#ffdb00,#ffda00,#ffda00,#ffd900,#ffd900,#ffd800,#ffd700,#ffd700,#ffd600,#ffd600,#ffd500,#ffd400,#ffd400,#ffd300,#ffd300,#ffd200,#ffd100,#ffd100,#ffd000,#ffd000,#ffcf00,#ffce00,#ffce00,#ffcd00,#ffcd00,#fc0,#fc0);opacity:0.3"></i>
<i style="top:44px;height:1px;background:linear-gradient(90deg,#20ffd7,#10fae7,#00e6f6,#00d3ff,#00bfff,#00abff,#0098ff,#0084ff,#0071ff,#005dff,#004aff,#0036ff,#0000fb,#b30000,#ff6300,#ffe600,#ffe500,#ffe500,#ffe400,#ffe300,#ffe300,#ffe200,#ffe200,#ffe100,#ffe000,#ffe000,#ffdf00,#ffdf00,#ffde00,#fd0,#fd0,#ffdc00,#ffdc00,#ffdb00,#ffda00,#ffda00,#ffd900,#ffd900,#ffd800,#ffd700,#ffd700,#ffd600,#ffd600,#ffd500,#ffd400,#ffd400,#ffd300,#ffd300,#ffd200,#ffd100,#ffd100,#ffd000,#ffd000,#ffcf00,#ffce00,#ffce00,#ffcd00,#ffcd00,#fc0,#fc0);opacity:0.3"></i>
<i style="top:45px;height:1px;background:linear-gradient(90deg,#20ffd7,#10fae7,#00e6f6,#00d3ff,#00bfff,#00abff,#0098ff,#0084ff,#0071ff,#005dff,#004aff,#0036ff,#0000fb,#b30000,#ff6300,#ffe600,#ffe500,#ffe500,#ffe400,#ffe300,#ffe300,#ffe200,#ffe200,#ffe100,#ffe000,#ffe000,#ffdf00,#ffdf00,#ffde00,#fd0,#fd0,#ffdc00,#ffdc00,#ffdb00,#ffda00,#ffda00,#ffd900,#ffd900,#ffd800,#ffd700,#ffd700,#ffd600,#ffd600,#ffd500,#ffd400,#ffd400,#ffd300,#ffd300,#ffd200,#ffd100,#ffd100,#ffd000,#ffd000,#ffcf00,#ffce00,#ffce00,#ffcd00,#ffcd00,#fc0,#fc0);opacity:0.3"></i>
</div>
<svg class="n" width="178" height="641"><use href="#wk"/><g stroke="#000" stroke-width="0.8"><path d="M0.35 0v6.5M0.35 641v-6.5"/><path d="M41.95 0v6.5M41.95 641v-6.5"/><path d="M83.55 0v6.5M83.55 641v-6.5"/><path d="M125.15 0v6.5M125.15 641v-6.5"/><path d="M166.75 0v6.5M166.75 641v-6.5"/></g></svg>
<b></b></div>
<div class="t c k" style="left:738.1px;width:60px;top:726px">320</div>
<div class="t c k" style="left:779.7px;width:60px;top:726px">335</div>
<div class="t c k" style="left:821.3px;width:60px;top:726px">350</div>
<div class="t c k" style="left:862.9px;width:60px;top:726px">365</div>
<div class="t c k" style="left:904.5px;width:60px;top:726px">380</div>
<div class="t r k" style="left:704px;width:60px;top:713.7px">0</div>
<div class="t r k" style="left:704px;width:60px;top:580.4px">5</div>
<div class="t r k" style="left:704px;width:60px;top:447.0px">10</div>
<div class="t r k" style="left:704px;width:60px;top:313.7px">15</div>
<div class="t r k" style="left:704px;width:60px;top:180.4px">20</div>
<div class="t" style="left:432px;top:745px">frequency (MHz)</div>
<svg class="rs" width="24" height="140" style="left:84px;top:330px"><text transform="translate(17.3,70.2) rotate(-90)" text-anchor="middle" font-size="12.5">UT (hours)</text></svg>
<div id="cb" style="background:linear-gradient(180deg,#800000,#9c0000,#b90000,#d60000,#f30900,#ff2100,#ff3900,#ff5000,#ff6800,#ff8000,#ff9700,#ffaf00,#ffc600,#ffde00,#f7f600,#e2ff15,#ceff29,#b9ff3e,#a5ff52,#90ff67,#7bff7b,#67ff90,#52ffa5,#3effb9,#29ffce,#15ffe2,#00e5f7,#0cf,#00b2ff,#09f,#0080ff,#06f,#004dff,#03f,#001aff,#00f,#0000f3,#0000d6,#0000b9,#00009c,#000080)"></div>
<svg width="16" height="481" style="position:absolute;left:1019px;top:160px"><g stroke="#000" stroke-width="0.7">
<path d="M0 40.5h6M16 40.5h-6"/>
<path d="M0 107.2h6M16 107.2h-6"/>
<path d="M0 173.8h6M16 173.8h-6"/>
<path d="M0 240.5h6M16 240.5h-6"/>
<path d="M0 307.2h6M16 307.2h-6"/>
<path d="M0 373.8h6M16 373.8h-6"/>
<path d="M0 440.5h6M16 440.5h-6"/>
<path d="M2.60 0v6M2.60 481v-6" stroke-width="0.8"/>
<path d="M5.45 0v6M5.45 481v-6" stroke-width="0.8"/>
<path d="M8.30 0v6M8.30 481v-6" stroke-width="0.8"/>
<path d="M11.15 0v6M11.15 481v-6" stroke-width="0.8"/>
<path d="M14.00 0v6M14.00 481v-6" stroke-width="0.8"/>
</g></svg>
<div class="t r cl" style="left:954px;width:60px;top:195px">150</div>
<div class="t r cl" style="left:954px;width:60px;top:262px">100</div>
<div class="t r cl" style="left:954px;width:60px;top:328px">50</div>
<div class="t r cl" style="left:954px;width:60px;top:395px">0</div>
<div class="t r cl" style="left:954px;width:60px;top:462px"><span class="m">−</span>50</div>
<div class="t r cl" style="left:954px;width:60px;top:528px"><span class="m">−</span>100</div>
<div class="t r cl" style="left:954px;width:60px;top:595px"><span class="m">−</span>150</div>
<svg class="rs" width="24" height="140" style="left:957px;top:330px"><text transform="translate(17.3,70.2) rotate(-90)" text-anchor="middle" font-size="12.5">phase (deg.)</text></svg>
<div class="t" style="left:1017px;top:643px;font-size:4px;letter-spacing:1.6px;color:#555">......</div>
</body></html>
